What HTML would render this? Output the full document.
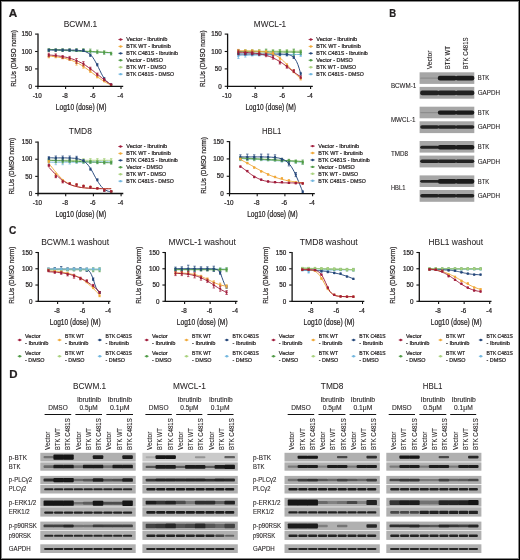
<!DOCTYPE html>
<html><head><meta charset="utf-8"><style>
html,body{margin:0;padding:0;background:#fff;}
svg{display:block;will-change:transform;}
text{font-family:"Liberation Sans",sans-serif;fill:#231f20;stroke:#231f20;stroke-width:0.22px;}
text.t{stroke-width:0.05px;}
text.m{stroke-width:0.1px;}
</style></head><body>
<svg width="520" height="560" viewBox="0 0 520 560">
<defs><filter id="bl" x="-5%" y="-50%" width="110%" height="200%"><feGaussianBlur stdDeviation="0.55"/></filter></defs>
<rect width="520" height="560" fill="#fff"/>
<text x="8.80" y="16.70" font-size="11.5" font-weight="bold" fill="#000" textLength="8.50" lengthAdjust="spacingAndGlyphs">A</text>
<polyline points="48.8,49.7 50.2,49.8 51.6,49.8 53.0,49.9 54.4,50.0 55.9,50.1 57.3,50.1 58.7,50.2 60.1,50.3 61.5,50.4 62.9,50.4 64.4,50.5 65.8,50.6 67.2,50.7 68.6,50.7 70.0,50.8 71.4,50.9 72.9,51.0 74.3,51.0 75.7,51.1 77.1,51.2 78.5,51.3 79.9,51.3 81.4,51.4 82.8,51.5 84.2,51.5 85.6,51.6 87.0,51.7 88.4,51.8 89.9,51.8 91.3,51.9 92.7,52.0 94.1,52.1 95.5,52.1 96.9,52.2 98.4,52.3 99.8,52.4 101.2,52.4 102.6,52.5 104.0,52.6 105.4,52.7 106.9,52.7 108.3,52.8 109.7,52.9 111.1,53.0" fill="none" stroke="#72b6de" stroke-width="0.95"/>
<path d="M47.6 50.5a1.15 1.15 0 1 0 2.3 0a1.15 1.15 0 1 0 -2.3 0M54.6 50.5a1.15 1.15 0 1 0 2.3 0a1.15 1.15 0 1 0 -2.3 0M61.5 50.5a1.15 1.15 0 1 0 2.3 0a1.15 1.15 0 1 0 -2.3 0M68.4 50.5a1.15 1.15 0 1 0 2.3 0a1.15 1.15 0 1 0 -2.3 0M75.3 50.5a1.15 1.15 0 1 0 2.3 0a1.15 1.15 0 1 0 -2.3 0M82.3 50.5a1.15 1.15 0 1 0 2.3 0a1.15 1.15 0 1 0 -2.3 0M89.2 51.5a1.15 1.15 0 1 0 2.3 0a1.15 1.15 0 1 0 -2.3 0M96.1 52.2a1.15 1.15 0 1 0 2.3 0a1.15 1.15 0 1 0 -2.3 0M103.0 52.9a1.15 1.15 0 1 0 2.3 0a1.15 1.15 0 1 0 -2.3 0M110.0 53.9a1.15 1.15 0 1 0 2.3 0a1.15 1.15 0 1 0 -2.3 0" fill="#72b6de"/>
<polyline points="48.8,49.3 50.2,49.4 51.6,49.5 53.0,49.6 54.4,49.6 55.9,49.7 57.3,49.8 58.7,49.9 60.1,49.9 61.5,50.0 62.9,50.1 64.4,50.2 65.8,50.2 67.2,50.3 68.6,50.4 70.0,50.5 71.4,50.5 72.9,50.6 74.3,50.7 75.7,50.8 77.1,50.8 78.5,50.9 79.9,51.0 81.4,51.1 82.8,51.1 84.2,51.2 85.6,51.3 87.0,51.4 88.4,51.4 89.9,51.5 91.3,51.6 92.7,51.6 94.1,51.7 95.5,51.8 96.9,51.9 98.4,51.9 99.8,52.0 101.2,52.1 102.6,52.2 104.0,52.2 105.4,52.3 106.9,52.4 108.3,52.5 109.7,52.5 111.1,52.6" fill="none" stroke="#a9d27f" stroke-width="0.95"/>
<path d="M47.6 50.1a1.15 1.15 0 1 0 2.3 0a1.15 1.15 0 1 0 -2.3 0M54.6 50.1a1.15 1.15 0 1 0 2.3 0a1.15 1.15 0 1 0 -2.3 0M61.5 50.1a1.15 1.15 0 1 0 2.3 0a1.15 1.15 0 1 0 -2.3 0M68.4 50.1a1.15 1.15 0 1 0 2.3 0a1.15 1.15 0 1 0 -2.3 0M75.3 50.1a1.15 1.15 0 1 0 2.3 0a1.15 1.15 0 1 0 -2.3 0M82.3 50.1a1.15 1.15 0 1 0 2.3 0a1.15 1.15 0 1 0 -2.3 0M89.2 51.2a1.15 1.15 0 1 0 2.3 0a1.15 1.15 0 1 0 -2.3 0M96.1 51.8a1.15 1.15 0 1 0 2.3 0a1.15 1.15 0 1 0 -2.3 0M103.0 52.5a1.15 1.15 0 1 0 2.3 0a1.15 1.15 0 1 0 -2.3 0M110.0 53.6a1.15 1.15 0 1 0 2.3 0a1.15 1.15 0 1 0 -2.3 0" fill="#a9d27f"/>
<polyline points="48.8,49.3 50.2,49.4 51.6,49.5 53.0,49.6 54.4,49.6 55.9,49.7 57.3,49.8 58.7,49.9 60.1,49.9 61.5,50.0 62.9,50.1 64.4,50.2 65.8,50.2 67.2,50.3 68.6,50.4 70.0,50.5 71.4,50.5 72.9,50.6 74.3,50.7 75.7,50.8 77.1,50.8 78.5,50.9 79.9,51.0 81.4,51.1 82.8,51.1 84.2,51.2 85.6,51.3 87.0,51.4 88.4,51.4 89.9,51.5 91.3,51.6 92.7,51.6 94.1,51.7 95.5,51.8 96.9,51.9 98.4,51.9 99.8,52.0 101.2,52.1 102.6,52.2 104.0,52.2 105.4,52.3 106.9,52.4 108.3,52.5 109.7,52.5 111.1,52.6" fill="none" stroke="#4f9a45" stroke-width="0.95"/>
<path d="M48.8 51.5V48.7M47.6 51.5h2.4M47.6 48.7h2.4M55.7 51.5V48.7M54.5 51.5h2.4M54.5 48.7h2.4M62.6 51.5V48.7M61.4 51.5h2.4M61.4 48.7h2.4M69.6 51.5V48.7M68.4 51.5h2.4M68.4 48.7h2.4M76.5 51.5V48.7M75.3 51.5h2.4M75.3 48.7h2.4M83.4 51.5V48.7M82.2 51.5h2.4M82.2 48.7h2.4M90.3 53.2V49.1M89.1 53.2h2.4M89.1 49.1h2.4M97.3 53.6V50.1M96.1 53.6h2.4M96.1 50.1h2.4M104.2 54.3V50.8M103.0 54.3h2.4M103.0 50.8h2.4M111.1 55.0V52.2M109.9 55.0h2.4M109.9 52.2h2.4" stroke="#4f9a45" stroke-width="0.7" fill="none"/>
<path d="M47.6 50.1a1.15 1.15 0 1 0 2.3 0a1.15 1.15 0 1 0 -2.3 0M54.6 50.1a1.15 1.15 0 1 0 2.3 0a1.15 1.15 0 1 0 -2.3 0M61.5 50.1a1.15 1.15 0 1 0 2.3 0a1.15 1.15 0 1 0 -2.3 0M68.4 50.1a1.15 1.15 0 1 0 2.3 0a1.15 1.15 0 1 0 -2.3 0M75.3 50.1a1.15 1.15 0 1 0 2.3 0a1.15 1.15 0 1 0 -2.3 0M82.3 50.1a1.15 1.15 0 1 0 2.3 0a1.15 1.15 0 1 0 -2.3 0M89.2 51.2a1.15 1.15 0 1 0 2.3 0a1.15 1.15 0 1 0 -2.3 0M96.1 51.8a1.15 1.15 0 1 0 2.3 0a1.15 1.15 0 1 0 -2.3 0M103.0 52.5a1.15 1.15 0 1 0 2.3 0a1.15 1.15 0 1 0 -2.3 0M110.0 53.6a1.15 1.15 0 1 0 2.3 0a1.15 1.15 0 1 0 -2.3 0" fill="#4f9a45"/>
<polyline points="48.8,50.0 50.2,50.0 51.6,50.0 53.0,50.0 54.4,50.0 55.9,50.0 57.3,50.0 58.7,50.0 60.1,50.0 61.5,50.0 62.9,50.0 64.4,50.0 65.8,50.0 67.2,50.0 68.6,50.0 70.0,50.1 71.4,50.1 72.9,50.1 74.3,50.1 75.7,50.2 77.1,50.3 78.5,50.4 79.9,50.5 81.4,50.7 82.8,50.9 84.2,51.3 85.6,51.7 87.0,52.4 88.4,53.2 89.9,54.2 91.3,55.6 92.7,57.3 94.1,59.4 95.5,61.8 96.9,64.5 98.4,67.4 99.8,70.3 101.2,73.2 102.6,75.8 104.0,78.1 105.4,80.1 106.9,81.7 108.3,82.9 109.7,83.9 111.1,84.7" fill="none" stroke="#24467a" stroke-width="0.95"/>
<path d="M48.8 51.2V49.1M47.6 51.2h2.4M47.6 49.1h2.4M55.7 51.2V49.1M54.5 51.2h2.4M54.5 49.1h2.4M62.6 51.2V49.1M61.4 51.2h2.4M61.4 49.1h2.4M69.6 51.2V49.1M68.4 51.2h2.4M68.4 49.1h2.4M76.5 51.2V49.1M75.3 51.2h2.4M75.3 49.1h2.4M83.4 51.5V49.4M82.2 51.5h2.4M82.2 49.4h2.4M90.3 56.4V54.3M89.1 56.4h2.4M89.1 54.3h2.4M97.3 65.8V63.7M96.1 65.8h2.4M96.1 63.7h2.4M104.2 79.7V77.6M103.0 79.7h2.4M103.0 77.6h2.4M111.1 85.3V83.9M109.9 85.3h2.4M109.9 83.9h2.4" stroke="#24467a" stroke-width="0.7" fill="none"/>
<path d="M47.6 50.1a1.15 1.15 0 1 0 2.3 0a1.15 1.15 0 1 0 -2.3 0M54.6 50.1a1.15 1.15 0 1 0 2.3 0a1.15 1.15 0 1 0 -2.3 0M61.5 50.1a1.15 1.15 0 1 0 2.3 0a1.15 1.15 0 1 0 -2.3 0M68.4 50.1a1.15 1.15 0 1 0 2.3 0a1.15 1.15 0 1 0 -2.3 0M75.3 50.1a1.15 1.15 0 1 0 2.3 0a1.15 1.15 0 1 0 -2.3 0M82.3 50.5a1.15 1.15 0 1 0 2.3 0a1.15 1.15 0 1 0 -2.3 0M89.2 55.3a1.15 1.15 0 1 0 2.3 0a1.15 1.15 0 1 0 -2.3 0M96.1 64.7a1.15 1.15 0 1 0 2.3 0a1.15 1.15 0 1 0 -2.3 0M103.0 78.6a1.15 1.15 0 1 0 2.3 0a1.15 1.15 0 1 0 -2.3 0M110.0 84.6a1.15 1.15 0 1 0 2.3 0a1.15 1.15 0 1 0 -2.3 0" fill="#24467a"/>
<polyline points="48.8,56.1 50.2,56.2 51.6,56.3 53.0,56.5 54.4,56.6 55.9,56.8 57.3,57.0 58.7,57.2 60.1,57.4 61.5,57.6 62.9,57.9 64.4,58.2 65.8,58.6 67.2,59.0 68.6,59.4 70.0,59.8 71.4,60.3 72.9,60.9 74.3,61.5 75.7,62.1 77.1,62.8 78.5,63.5 79.9,64.3 81.4,65.2 82.8,66.1 84.2,67.0 85.6,68.0 87.0,69.0 88.4,70.0 89.9,71.1 91.3,72.2 92.7,73.2 94.1,74.3 95.5,75.4 96.9,76.5 98.4,77.5 99.8,78.5 101.2,79.5 102.6,80.4 104.0,81.3 105.4,82.2 106.9,83.0 108.3,83.7 109.7,84.4 111.1,85.1" fill="none" stroke="#f0a838" stroke-width="0.95"/>
<path d="M48.8 57.8V55.0M47.6 57.8h2.4M47.6 55.0h2.4M55.7 57.8V55.7M54.5 57.8h2.4M54.5 55.7h2.4M62.6 58.8V56.7M61.4 58.8h2.4M61.4 56.7h2.4M69.6 60.5V57.8M68.4 60.5h2.4M68.4 57.8h2.4M76.5 65.1V60.9M75.3 65.1h2.4M75.3 60.9h2.4M83.4 68.2V64.7M82.2 68.2h2.4M82.2 64.7h2.4M90.3 72.4V70.3M89.1 72.4h2.4M89.1 70.3h2.4M97.3 77.9V75.9M96.1 77.9h2.4M96.1 75.9h2.4M104.2 81.8V80.4M103.0 81.8h2.4M103.0 80.4h2.4M111.1 86.0V84.6M109.9 86.0h2.4M109.9 84.6h2.4" stroke="#f0a838" stroke-width="0.7" fill="none"/>
<path d="M47.6 56.4a1.15 1.15 0 1 0 2.3 0a1.15 1.15 0 1 0 -2.3 0M54.6 56.7a1.15 1.15 0 1 0 2.3 0a1.15 1.15 0 1 0 -2.3 0M61.5 57.8a1.15 1.15 0 1 0 2.3 0a1.15 1.15 0 1 0 -2.3 0M68.4 59.2a1.15 1.15 0 1 0 2.3 0a1.15 1.15 0 1 0 -2.3 0M75.3 63.0a1.15 1.15 0 1 0 2.3 0a1.15 1.15 0 1 0 -2.3 0M82.3 66.5a1.15 1.15 0 1 0 2.3 0a1.15 1.15 0 1 0 -2.3 0M89.2 71.3a1.15 1.15 0 1 0 2.3 0a1.15 1.15 0 1 0 -2.3 0M96.1 76.9a1.15 1.15 0 1 0 2.3 0a1.15 1.15 0 1 0 -2.3 0M103.0 81.1a1.15 1.15 0 1 0 2.3 0a1.15 1.15 0 1 0 -2.3 0M110.0 85.3a1.15 1.15 0 1 0 2.3 0a1.15 1.15 0 1 0 -2.3 0" fill="#f0a838"/>
<polyline points="48.8,55.0 50.2,55.1 51.6,55.2 53.0,55.3 54.4,55.5 55.9,55.6 57.3,55.8 58.7,56.0 60.1,56.2 61.5,56.4 62.9,56.6 64.4,56.9 65.8,57.2 67.2,57.5 68.6,57.9 70.0,58.3 71.4,58.7 72.9,59.2 74.3,59.7 75.7,60.2 77.1,60.8 78.5,61.5 79.9,62.2 81.4,62.9 82.8,63.7 84.2,64.5 85.6,65.4 87.0,66.4 88.4,67.4 89.9,68.4 91.3,69.4 92.7,70.5 94.1,71.6 95.5,72.8 96.9,73.9 98.4,75.1 99.8,76.2 101.2,77.4 102.6,78.5 104.0,79.6 105.4,80.7 106.9,81.7 108.3,82.7 109.7,83.7 111.1,84.6" fill="none" stroke="#a01b3a" stroke-width="0.95"/>
<path d="M48.8 56.7V53.2M47.6 56.7h2.4M47.6 53.2h2.4M55.7 56.7V53.9M54.5 56.7h2.4M54.5 53.9h2.4M62.6 58.3V55.5M61.4 58.3h2.4M61.4 55.5h2.4M69.6 59.9V56.4M68.4 59.9h2.4M68.4 56.4h2.4M76.5 63.3V58.5M75.3 63.3h2.4M75.3 58.5h2.4M83.4 65.8V61.6M82.2 65.8h2.4M82.2 61.6h2.4M90.3 69.9V67.2M89.1 69.9h2.4M89.1 67.2h2.4M97.3 75.9V73.1M96.1 75.9h2.4M96.1 73.1h2.4M104.2 80.7V78.6M103.0 80.7h2.4M103.0 78.6h2.4M111.1 85.3V83.9M109.9 85.3h2.4M109.9 83.9h2.4" stroke="#a01b3a" stroke-width="0.7" fill="none"/>
<path d="M47.6 55.0a1.15 1.15 0 1 0 2.3 0a1.15 1.15 0 1 0 -2.3 0M54.6 55.3a1.15 1.15 0 1 0 2.3 0a1.15 1.15 0 1 0 -2.3 0M61.5 56.9a1.15 1.15 0 1 0 2.3 0a1.15 1.15 0 1 0 -2.3 0M68.4 58.1a1.15 1.15 0 1 0 2.3 0a1.15 1.15 0 1 0 -2.3 0M75.3 60.9a1.15 1.15 0 1 0 2.3 0a1.15 1.15 0 1 0 -2.3 0M82.3 63.7a1.15 1.15 0 1 0 2.3 0a1.15 1.15 0 1 0 -2.3 0M89.2 68.6a1.15 1.15 0 1 0 2.3 0a1.15 1.15 0 1 0 -2.3 0M96.1 74.5a1.15 1.15 0 1 0 2.3 0a1.15 1.15 0 1 0 -2.3 0M103.0 79.7a1.15 1.15 0 1 0 2.3 0a1.15 1.15 0 1 0 -2.3 0M110.0 84.6a1.15 1.15 0 1 0 2.3 0a1.15 1.15 0 1 0 -2.3 0" fill="#a01b3a"/>
<line x1="38.00" y1="33.60" x2="38.00" y2="87.00" stroke="#111" stroke-width="1.3"/>
<line x1="37.30" y1="86.30" x2="123.20" y2="86.30" stroke="#111" stroke-width="1.3"/>
<line x1="35.10" y1="86.30" x2="37.70" y2="86.30" stroke="#111" stroke-width="1.1"/>
<text x="32.10" y="88.50" font-size="6.3" text-anchor="end">0</text>
<line x1="35.10" y1="68.90" x2="37.70" y2="68.90" stroke="#111" stroke-width="1.1"/>
<text x="32.10" y="71.10" font-size="6.3" text-anchor="end">50</text>
<line x1="35.10" y1="51.50" x2="37.70" y2="51.50" stroke="#111" stroke-width="1.1"/>
<text x="32.10" y="53.70" font-size="6.3" text-anchor="end">100</text>
<line x1="35.10" y1="34.10" x2="37.70" y2="34.10" stroke="#111" stroke-width="1.1"/>
<text x="32.10" y="36.30" font-size="6.3" text-anchor="end">150</text>
<line x1="37.90" y1="86.30" x2="37.90" y2="89.00" stroke="#111" stroke-width="1.1"/>
<text x="37.30" y="97.70" font-size="6.3" text-anchor="middle">-10</text>
<line x1="65.60" y1="86.30" x2="65.60" y2="89.00" stroke="#111" stroke-width="1.1"/>
<text x="65.00" y="97.70" font-size="6.3" text-anchor="middle">-8</text>
<line x1="93.30" y1="86.30" x2="93.30" y2="89.00" stroke="#111" stroke-width="1.1"/>
<text x="92.70" y="97.70" font-size="6.3" text-anchor="middle">-6</text>
<line x1="121.00" y1="86.30" x2="121.00" y2="89.00" stroke="#111" stroke-width="1.1"/>
<text x="120.40" y="97.70" font-size="6.3" text-anchor="middle">-4</text>
<text x="63.70" y="26.70" font-size="8.4" class="t" textLength="33.60" lengthAdjust="spacingAndGlyphs">BCWM.1</text>
<text x="16.10" y="58.50" font-size="7.4" text-anchor="middle" textLength="56.60" lengthAdjust="spacingAndGlyphs" transform="rotate(-90 16.10 58.50)">RLUs (DMSO norm)</text>
<text x="55.80" y="109.50" font-size="8.2" textLength="50.60" lengthAdjust="spacingAndGlyphs">Log10 (dose) (M)</text>
<line x1="118.40" y1="39.50" x2="122.80" y2="39.50" stroke="#a01b3a" stroke-width="0.8"/>
<circle cx="120.60" cy="39.50" r="1.2" fill="#a01b3a"/>
<text x="126.30" y="41.40" font-size="5.5" textLength="41.00" lengthAdjust="spacingAndGlyphs">Vector - Ibrutinib</text>
<line x1="118.40" y1="46.43" x2="122.80" y2="46.43" stroke="#f0a838" stroke-width="0.8"/>
<circle cx="120.60" cy="46.43" r="1.2" fill="#f0a838"/>
<text x="126.30" y="48.33" font-size="5.5" textLength="44.50" lengthAdjust="spacingAndGlyphs">BTK WT - Ibrutinib</text>
<line x1="118.40" y1="53.36" x2="122.80" y2="53.36" stroke="#24467a" stroke-width="0.8"/>
<circle cx="120.60" cy="53.36" r="1.2" fill="#24467a"/>
<text x="126.30" y="55.26" font-size="5.5" textLength="51.60" lengthAdjust="spacingAndGlyphs">BTK C481S - Ibrutinib</text>
<line x1="118.40" y1="60.29" x2="122.80" y2="60.29" stroke="#4f9a45" stroke-width="0.8"/>
<circle cx="120.60" cy="60.29" r="1.2" fill="#4f9a45"/>
<text x="126.30" y="62.19" font-size="5.5" textLength="36.60" lengthAdjust="spacingAndGlyphs">Vector - DMSO</text>
<line x1="118.40" y1="67.22" x2="122.80" y2="67.22" stroke="#a9d27f" stroke-width="0.8"/>
<circle cx="120.60" cy="67.22" r="1.2" fill="#a9d27f"/>
<text x="126.30" y="69.12" font-size="5.5" textLength="40.00" lengthAdjust="spacingAndGlyphs">BTK WT - DMSO</text>
<line x1="118.40" y1="74.15" x2="122.80" y2="74.15" stroke="#72b6de" stroke-width="0.8"/>
<circle cx="120.60" cy="74.15" r="1.2" fill="#72b6de"/>
<text x="126.30" y="76.05" font-size="5.5" textLength="47.70" lengthAdjust="spacingAndGlyphs">BTK C481S - DMSO</text>
<polyline points="238.4,55.3 239.8,55.3 241.2,55.2 242.6,55.2 244.0,55.2 245.5,55.2 246.9,55.2 248.3,55.2 249.7,55.1 251.1,55.1 252.5,55.1 254.0,55.1 255.4,55.1 256.8,55.0 258.2,55.0 259.6,55.0 261.0,55.0 262.5,55.0 263.9,54.9 265.3,54.9 266.7,54.9 268.1,54.9 269.5,54.9 271.0,54.9 272.4,54.8 273.8,54.8 275.2,54.8 276.6,54.8 278.0,54.8 279.5,54.7 280.9,54.7 282.3,54.7 283.7,54.7 285.1,54.7 286.5,54.7 288.0,54.6 289.4,54.6 290.8,54.6 292.2,54.6 293.6,54.6 295.0,54.5 296.5,54.5 297.9,54.5 299.3,54.5 300.7,54.5" fill="none" stroke="#72b6de" stroke-width="0.95"/>
<path d="M238.4 58.5V54.3M237.2 58.5h2.4M237.2 54.3h2.4M245.3 57.1V52.9M244.1 57.1h2.4M244.1 52.9h2.4M252.2 56.0V53.2M251.0 56.0h2.4M251.0 53.2h2.4M259.2 56.0V53.2M258.0 56.0h2.4M258.0 53.2h2.4M266.1 56.0V53.2M264.9 56.0h2.4M264.9 53.2h2.4M273.0 56.0V53.2M271.8 56.0h2.4M271.8 53.2h2.4M279.9 56.0V53.2M278.7 56.0h2.4M278.7 53.2h2.4M286.9 56.0V53.2M285.7 56.0h2.4M285.7 53.2h2.4M293.8 56.0V53.2M292.6 56.0h2.4M292.6 53.2h2.4M300.7 56.4V53.6M299.5 56.4h2.4M299.5 53.6h2.4" stroke="#72b6de" stroke-width="0.7" fill="none"/>
<path d="M237.2 56.4a1.15 1.15 0 1 0 2.3 0a1.15 1.15 0 1 0 -2.3 0M244.2 55.0a1.15 1.15 0 1 0 2.3 0a1.15 1.15 0 1 0 -2.3 0M251.1 54.6a1.15 1.15 0 1 0 2.3 0a1.15 1.15 0 1 0 -2.3 0M258.0 54.6a1.15 1.15 0 1 0 2.3 0a1.15 1.15 0 1 0 -2.3 0M264.9 54.6a1.15 1.15 0 1 0 2.3 0a1.15 1.15 0 1 0 -2.3 0M271.9 54.6a1.15 1.15 0 1 0 2.3 0a1.15 1.15 0 1 0 -2.3 0M278.8 54.6a1.15 1.15 0 1 0 2.3 0a1.15 1.15 0 1 0 -2.3 0M285.7 54.6a1.15 1.15 0 1 0 2.3 0a1.15 1.15 0 1 0 -2.3 0M292.6 54.6a1.15 1.15 0 1 0 2.3 0a1.15 1.15 0 1 0 -2.3 0M299.6 55.0a1.15 1.15 0 1 0 2.3 0a1.15 1.15 0 1 0 -2.3 0" fill="#72b6de"/>
<polyline points="238.4,51.2 239.8,51.2 241.2,51.2 242.6,51.2 244.0,51.2 245.5,51.2 246.9,51.2 248.3,51.2 249.7,51.2 251.1,51.2 252.5,51.2 254.0,51.2 255.4,51.2 256.8,51.2 258.2,51.2 259.6,51.2 261.0,51.2 262.5,51.2 263.9,51.2 265.3,51.2 266.7,51.2 268.1,51.2 269.5,51.2 271.0,51.2 272.4,51.2 273.8,51.2 275.2,51.2 276.6,51.2 278.0,51.2 279.5,51.2 280.9,51.2 282.3,51.2 283.7,51.2 285.1,51.2 286.5,51.2 288.0,51.2 289.4,51.2 290.8,51.2 292.2,51.2 293.6,51.2 295.0,51.2 296.5,51.2 297.9,51.2 299.3,51.2 300.7,51.2" fill="none" stroke="#a9d27f" stroke-width="0.95"/>
<path d="M238.4 52.5V49.8M237.2 52.5h2.4M237.2 49.8h2.4M245.3 52.5V49.8M244.1 52.5h2.4M244.1 49.8h2.4M252.2 52.5V49.8M251.0 52.5h2.4M251.0 49.8h2.4M259.2 52.5V49.8M258.0 52.5h2.4M258.0 49.8h2.4M266.1 52.5V49.8M264.9 52.5h2.4M264.9 49.8h2.4M273.0 52.5V49.8M271.8 52.5h2.4M271.8 49.8h2.4M279.9 52.5V49.8M278.7 52.5h2.4M278.7 49.8h2.4M286.9 52.5V49.8M285.7 52.5h2.4M285.7 49.8h2.4M293.8 52.5V49.8M292.6 52.5h2.4M292.6 49.8h2.4M300.7 52.5V49.8M299.5 52.5h2.4M299.5 49.8h2.4" stroke="#a9d27f" stroke-width="0.7" fill="none"/>
<path d="M237.2 51.2a1.15 1.15 0 1 0 2.3 0a1.15 1.15 0 1 0 -2.3 0M244.2 51.2a1.15 1.15 0 1 0 2.3 0a1.15 1.15 0 1 0 -2.3 0M251.1 51.2a1.15 1.15 0 1 0 2.3 0a1.15 1.15 0 1 0 -2.3 0M258.0 51.2a1.15 1.15 0 1 0 2.3 0a1.15 1.15 0 1 0 -2.3 0M264.9 51.2a1.15 1.15 0 1 0 2.3 0a1.15 1.15 0 1 0 -2.3 0M271.9 51.2a1.15 1.15 0 1 0 2.3 0a1.15 1.15 0 1 0 -2.3 0M278.8 51.2a1.15 1.15 0 1 0 2.3 0a1.15 1.15 0 1 0 -2.3 0M285.7 51.2a1.15 1.15 0 1 0 2.3 0a1.15 1.15 0 1 0 -2.3 0M292.6 51.2a1.15 1.15 0 1 0 2.3 0a1.15 1.15 0 1 0 -2.3 0M299.6 51.2a1.15 1.15 0 1 0 2.3 0a1.15 1.15 0 1 0 -2.3 0" fill="#a9d27f"/>
<polyline points="238.4,51.7 239.8,51.7 241.2,51.7 242.6,51.7 244.0,51.8 245.5,51.8 246.9,51.8 248.3,51.8 249.7,51.8 251.1,51.8 252.5,51.8 254.0,51.8 255.4,51.8 256.8,51.9 258.2,51.9 259.6,51.9 261.0,51.9 262.5,51.9 263.9,51.9 265.3,51.9 266.7,51.9 268.1,51.9 269.5,52.0 271.0,52.0 272.4,52.0 273.8,52.0 275.2,52.0 276.6,52.0 278.0,52.0 279.5,52.0 280.9,52.0 282.3,52.0 283.7,52.1 285.1,52.1 286.5,52.1 288.0,52.1 289.4,52.1 290.8,52.1 292.2,52.1 293.6,52.1 295.0,52.1 296.5,52.2 297.9,52.2 299.3,52.2 300.7,52.2" fill="none" stroke="#4f9a45" stroke-width="0.95"/>
<path d="M238.4 53.6V50.1M237.2 53.6h2.4M237.2 50.1h2.4M245.3 53.6V50.1M244.1 53.6h2.4M244.1 50.1h2.4M252.2 53.6V50.1M251.0 53.6h2.4M251.0 50.1h2.4M259.2 53.6V50.1M258.0 53.6h2.4M258.0 50.1h2.4M266.1 54.6V49.1M264.9 54.6h2.4M264.9 49.1h2.4M273.0 53.6V50.1M271.8 53.6h2.4M271.8 50.1h2.4M279.9 53.9V49.8M278.7 53.9h2.4M278.7 49.8h2.4M286.9 53.6V50.1M285.7 53.6h2.4M285.7 50.1h2.4M293.8 55.3V49.1M292.6 55.3h2.4M292.6 49.1h2.4M300.7 54.3V50.8M299.5 54.3h2.4M299.5 50.8h2.4" stroke="#4f9a45" stroke-width="0.7" fill="none"/>
<path d="M237.2 51.8a1.15 1.15 0 1 0 2.3 0a1.15 1.15 0 1 0 -2.3 0M244.2 51.8a1.15 1.15 0 1 0 2.3 0a1.15 1.15 0 1 0 -2.3 0M251.1 51.8a1.15 1.15 0 1 0 2.3 0a1.15 1.15 0 1 0 -2.3 0M258.0 51.8a1.15 1.15 0 1 0 2.3 0a1.15 1.15 0 1 0 -2.3 0M264.9 51.8a1.15 1.15 0 1 0 2.3 0a1.15 1.15 0 1 0 -2.3 0M271.9 51.8a1.15 1.15 0 1 0 2.3 0a1.15 1.15 0 1 0 -2.3 0M278.8 51.8a1.15 1.15 0 1 0 2.3 0a1.15 1.15 0 1 0 -2.3 0M285.7 51.8a1.15 1.15 0 1 0 2.3 0a1.15 1.15 0 1 0 -2.3 0M292.6 52.2a1.15 1.15 0 1 0 2.3 0a1.15 1.15 0 1 0 -2.3 0M299.6 52.5a1.15 1.15 0 1 0 2.3 0a1.15 1.15 0 1 0 -2.3 0" fill="#4f9a45"/>
<polyline points="238.4,54.0 239.8,54.0 241.2,54.0 242.6,54.0 244.0,54.0 245.5,54.0 246.9,54.0 248.3,54.0 249.7,54.0 251.1,54.0 252.5,54.0 254.0,54.0 255.4,54.0 256.8,54.0 258.2,54.0 259.6,54.0 261.0,54.0 262.5,54.0 263.9,54.0 265.3,54.0 266.7,54.0 268.1,54.0 269.5,54.0 271.0,54.0 272.4,54.0 273.8,54.0 275.2,54.0 276.6,54.0 278.0,54.0 279.5,54.0 280.9,54.1 282.3,54.1 283.7,54.2 285.1,54.2 286.5,54.4 288.0,54.6 289.4,54.9 290.8,55.4 292.2,56.2 293.6,57.3 295.0,59.0 296.5,61.4 297.9,64.6 299.3,68.8 300.7,73.8" fill="none" stroke="#24467a" stroke-width="0.95"/>
<path d="M238.4 55.0V52.9M237.2 55.0h2.4M237.2 52.9h2.4M245.3 55.0V52.9M244.1 55.0h2.4M244.1 52.9h2.4M252.2 55.0V52.9M251.0 55.0h2.4M251.0 52.9h2.4M259.2 55.0V52.9M258.0 55.0h2.4M258.0 52.9h2.4M266.1 55.0V52.9M264.9 55.0h2.4M264.9 52.9h2.4M273.0 55.0V52.9M271.8 55.0h2.4M271.8 52.9h2.4M279.9 55.3V53.2M278.7 55.3h2.4M278.7 53.2h2.4M286.9 55.7V53.6M285.7 55.7h2.4M285.7 53.6h2.4M293.8 58.5V56.4M292.6 58.5h2.4M292.6 56.4h2.4M300.7 75.2V72.4M299.5 75.2h2.4M299.5 72.4h2.4" stroke="#24467a" stroke-width="0.7" fill="none"/>
<path d="M237.2 53.9a1.15 1.15 0 1 0 2.3 0a1.15 1.15 0 1 0 -2.3 0M244.2 53.9a1.15 1.15 0 1 0 2.3 0a1.15 1.15 0 1 0 -2.3 0M251.1 53.9a1.15 1.15 0 1 0 2.3 0a1.15 1.15 0 1 0 -2.3 0M258.0 53.9a1.15 1.15 0 1 0 2.3 0a1.15 1.15 0 1 0 -2.3 0M264.9 53.9a1.15 1.15 0 1 0 2.3 0a1.15 1.15 0 1 0 -2.3 0M271.9 53.9a1.15 1.15 0 1 0 2.3 0a1.15 1.15 0 1 0 -2.3 0M278.8 54.3a1.15 1.15 0 1 0 2.3 0a1.15 1.15 0 1 0 -2.3 0M285.7 54.6a1.15 1.15 0 1 0 2.3 0a1.15 1.15 0 1 0 -2.3 0M292.6 57.4a1.15 1.15 0 1 0 2.3 0a1.15 1.15 0 1 0 -2.3 0M299.6 73.8a1.15 1.15 0 1 0 2.3 0a1.15 1.15 0 1 0 -2.3 0" fill="#24467a"/>
<polyline points="238.4,50.8 239.8,50.8 241.2,50.8 242.6,50.8 244.0,50.8 245.5,50.9 246.9,50.9 248.3,50.9 249.7,50.9 251.1,51.0 252.5,51.0 254.0,51.1 255.4,51.1 256.8,51.2 258.2,51.3 259.6,51.4 261.0,51.5 262.5,51.7 263.9,51.8 265.3,52.0 266.7,52.3 268.1,52.6 269.5,52.9 271.0,53.4 272.4,53.8 273.8,54.4 275.2,55.1 276.6,55.8 278.0,56.7 279.5,57.6 280.9,58.7 282.3,59.9 283.7,61.2 285.1,62.6 286.5,64.1 288.0,65.7 289.4,67.3 290.8,68.9 292.2,70.4 293.6,72.0 295.0,73.4 296.5,74.8 297.9,76.1 299.3,77.3 300.7,78.3" fill="none" stroke="#f0a838" stroke-width="0.95"/>
<path d="M238.4 52.2V49.4M237.2 52.2h2.4M237.2 49.4h2.4M245.3 52.5V49.8M244.1 52.5h2.4M244.1 49.8h2.4M252.2 52.5V49.8M251.0 52.5h2.4M251.0 49.8h2.4M259.2 52.9V50.1M258.0 52.9h2.4M258.0 50.1h2.4M266.1 53.2V50.5M264.9 53.2h2.4M264.9 50.5h2.4M273.0 54.6V51.8M271.8 54.6h2.4M271.8 51.8h2.4M279.9 59.9V57.1M278.7 59.9h2.4M278.7 57.1h2.4M286.9 66.5V63.7M285.7 66.5h2.4M285.7 63.7h2.4M293.8 72.7V69.9M292.6 72.7h2.4M292.6 69.9h2.4M300.7 80.0V77.3M299.5 80.0h2.4M299.5 77.3h2.4" stroke="#f0a838" stroke-width="0.7" fill="none"/>
<path d="M237.2 50.8a1.15 1.15 0 1 0 2.3 0a1.15 1.15 0 1 0 -2.3 0M244.2 51.2a1.15 1.15 0 1 0 2.3 0a1.15 1.15 0 1 0 -2.3 0M251.1 51.2a1.15 1.15 0 1 0 2.3 0a1.15 1.15 0 1 0 -2.3 0M258.0 51.5a1.15 1.15 0 1 0 2.3 0a1.15 1.15 0 1 0 -2.3 0M264.9 51.8a1.15 1.15 0 1 0 2.3 0a1.15 1.15 0 1 0 -2.3 0M271.9 53.2a1.15 1.15 0 1 0 2.3 0a1.15 1.15 0 1 0 -2.3 0M278.8 58.5a1.15 1.15 0 1 0 2.3 0a1.15 1.15 0 1 0 -2.3 0M285.7 65.1a1.15 1.15 0 1 0 2.3 0a1.15 1.15 0 1 0 -2.3 0M292.6 71.3a1.15 1.15 0 1 0 2.3 0a1.15 1.15 0 1 0 -2.3 0M299.6 78.6a1.15 1.15 0 1 0 2.3 0a1.15 1.15 0 1 0 -2.3 0" fill="#f0a838"/>
<polyline points="238.4,52.2 239.8,52.2 241.2,52.3 242.6,52.3 244.0,52.4 245.5,52.4 246.9,52.5 248.3,52.6 249.7,52.7 251.1,52.8 252.5,53.0 254.0,53.1 255.4,53.3 256.8,53.5 258.2,53.7 259.6,53.9 261.0,54.2 262.5,54.5 263.9,54.8 265.3,55.2 266.7,55.6 268.1,56.0 269.5,56.5 271.0,57.0 272.4,57.6 273.8,58.3 275.2,59.0 276.6,59.7 278.0,60.5 279.5,61.4 280.9,62.3 282.3,63.2 283.7,64.2 285.1,65.2 286.5,66.3 288.0,67.4 289.4,68.5 290.8,69.6 292.2,70.7 293.6,71.8 295.0,72.9 296.5,73.9 297.9,74.9 299.3,75.9 300.7,76.8" fill="none" stroke="#a01b3a" stroke-width="0.95"/>
<path d="M238.4 54.3V50.1M237.2 54.3h2.4M237.2 50.1h2.4M245.3 54.6V51.2M244.1 54.6h2.4M244.1 51.2h2.4M252.2 54.6V51.2M251.0 54.6h2.4M251.0 51.2h2.4M259.2 55.3V51.8M258.0 55.3h2.4M258.0 51.8h2.4M266.1 56.7V53.2M264.9 56.7h2.4M264.9 53.2h2.4M273.0 59.2V55.7M271.8 59.2h2.4M271.8 55.7h2.4M279.9 64.0V61.2M278.7 64.0h2.4M278.7 61.2h2.4M286.9 68.2V65.4M285.7 68.2h2.4M285.7 65.4h2.4M293.8 72.4V69.6M292.6 72.4h2.4M292.6 69.6h2.4M300.7 78.6V75.9M299.5 78.6h2.4M299.5 75.9h2.4" stroke="#a01b3a" stroke-width="0.7" fill="none"/>
<path d="M237.2 52.2a1.15 1.15 0 1 0 2.3 0a1.15 1.15 0 1 0 -2.3 0M244.2 52.9a1.15 1.15 0 1 0 2.3 0a1.15 1.15 0 1 0 -2.3 0M251.1 52.9a1.15 1.15 0 1 0 2.3 0a1.15 1.15 0 1 0 -2.3 0M258.0 53.6a1.15 1.15 0 1 0 2.3 0a1.15 1.15 0 1 0 -2.3 0M264.9 55.0a1.15 1.15 0 1 0 2.3 0a1.15 1.15 0 1 0 -2.3 0M271.9 57.4a1.15 1.15 0 1 0 2.3 0a1.15 1.15 0 1 0 -2.3 0M278.8 62.6a1.15 1.15 0 1 0 2.3 0a1.15 1.15 0 1 0 -2.3 0M285.7 66.8a1.15 1.15 0 1 0 2.3 0a1.15 1.15 0 1 0 -2.3 0M292.6 71.0a1.15 1.15 0 1 0 2.3 0a1.15 1.15 0 1 0 -2.3 0M299.6 77.3a1.15 1.15 0 1 0 2.3 0a1.15 1.15 0 1 0 -2.3 0" fill="#a01b3a"/>
<line x1="227.60" y1="33.60" x2="227.60" y2="87.00" stroke="#111" stroke-width="1.3"/>
<line x1="226.90" y1="86.30" x2="312.80" y2="86.30" stroke="#111" stroke-width="1.3"/>
<line x1="224.70" y1="86.30" x2="227.30" y2="86.30" stroke="#111" stroke-width="1.1"/>
<text x="221.70" y="88.50" font-size="6.3" text-anchor="end">0</text>
<line x1="224.70" y1="68.90" x2="227.30" y2="68.90" stroke="#111" stroke-width="1.1"/>
<text x="221.70" y="71.10" font-size="6.3" text-anchor="end">50</text>
<line x1="224.70" y1="51.50" x2="227.30" y2="51.50" stroke="#111" stroke-width="1.1"/>
<text x="221.70" y="53.70" font-size="6.3" text-anchor="end">100</text>
<line x1="224.70" y1="34.10" x2="227.30" y2="34.10" stroke="#111" stroke-width="1.1"/>
<text x="221.70" y="36.30" font-size="6.3" text-anchor="end">150</text>
<line x1="227.50" y1="86.30" x2="227.50" y2="89.00" stroke="#111" stroke-width="1.1"/>
<text x="226.90" y="97.70" font-size="6.3" text-anchor="middle">-10</text>
<line x1="255.20" y1="86.30" x2="255.20" y2="89.00" stroke="#111" stroke-width="1.1"/>
<text x="254.60" y="97.70" font-size="6.3" text-anchor="middle">-8</text>
<line x1="282.90" y1="86.30" x2="282.90" y2="89.00" stroke="#111" stroke-width="1.1"/>
<text x="282.30" y="97.70" font-size="6.3" text-anchor="middle">-6</text>
<line x1="310.60" y1="86.30" x2="310.60" y2="89.00" stroke="#111" stroke-width="1.1"/>
<text x="310.00" y="97.70" font-size="6.3" text-anchor="middle">-4</text>
<text x="253.80" y="26.70" font-size="8.4" class="t" textLength="32.40" lengthAdjust="spacingAndGlyphs">MWCL-1</text>
<text x="205.20" y="58.60" font-size="7.4" text-anchor="middle" textLength="56.60" lengthAdjust="spacingAndGlyphs" transform="rotate(-90 205.20 58.60)">RLUs (DMSO norm)</text>
<text x="245.40" y="109.50" font-size="8.2" textLength="50.60" lengthAdjust="spacingAndGlyphs">Log10 (dose) (M)</text>
<line x1="308.60" y1="39.50" x2="313.00" y2="39.50" stroke="#a01b3a" stroke-width="0.8"/>
<circle cx="310.80" cy="39.50" r="1.2" fill="#a01b3a"/>
<text x="316.20" y="41.40" font-size="5.5" textLength="41.00" lengthAdjust="spacingAndGlyphs">Vector - Ibrutinib</text>
<line x1="308.60" y1="46.43" x2="313.00" y2="46.43" stroke="#f0a838" stroke-width="0.8"/>
<circle cx="310.80" cy="46.43" r="1.2" fill="#f0a838"/>
<text x="316.20" y="48.33" font-size="5.5" textLength="44.50" lengthAdjust="spacingAndGlyphs">BTK WT - Ibrutinib</text>
<line x1="308.60" y1="53.36" x2="313.00" y2="53.36" stroke="#24467a" stroke-width="0.8"/>
<circle cx="310.80" cy="53.36" r="1.2" fill="#24467a"/>
<text x="316.20" y="55.26" font-size="5.5" textLength="51.60" lengthAdjust="spacingAndGlyphs">BTK C481S - Ibrutinib</text>
<line x1="308.60" y1="60.29" x2="313.00" y2="60.29" stroke="#4f9a45" stroke-width="0.8"/>
<circle cx="310.80" cy="60.29" r="1.2" fill="#4f9a45"/>
<text x="316.20" y="62.19" font-size="5.5" textLength="36.60" lengthAdjust="spacingAndGlyphs">Vector - DMSO</text>
<line x1="308.60" y1="67.22" x2="313.00" y2="67.22" stroke="#a9d27f" stroke-width="0.8"/>
<circle cx="310.80" cy="67.22" r="1.2" fill="#a9d27f"/>
<text x="316.20" y="69.12" font-size="5.5" textLength="40.00" lengthAdjust="spacingAndGlyphs">BTK WT - DMSO</text>
<line x1="308.60" y1="74.15" x2="313.00" y2="74.15" stroke="#72b6de" stroke-width="0.8"/>
<circle cx="310.80" cy="74.15" r="1.2" fill="#72b6de"/>
<text x="316.20" y="76.05" font-size="5.5" textLength="47.70" lengthAdjust="spacingAndGlyphs">BTK C481S - DMSO</text>
<polyline points="48.9,162.2 50.3,162.2 51.7,162.2 53.1,162.2 54.5,162.2 56.0,162.2 57.4,162.2 58.8,162.2 60.2,162.2 61.6,162.1 63.0,162.1 64.5,162.1 65.9,162.1 67.3,162.1 68.7,162.1 70.1,162.1 71.5,162.1 73.0,162.1 74.4,162.1 75.8,162.1 77.2,162.1 78.6,162.1 80.0,162.0 81.5,162.0 82.9,162.0 84.3,162.0 85.7,162.0 87.1,162.0 88.5,162.0 90.0,162.0 91.4,162.0 92.8,162.0 94.2,162.0 95.6,162.0 97.0,162.0 98.5,161.9 99.9,161.9 101.3,161.9 102.7,161.9 104.1,161.9 105.5,161.9 107.0,161.9 108.4,161.9 109.8,161.9 111.2,161.9" fill="none" stroke="#72b6de" stroke-width="0.95"/>
<path d="M48.9 165.4V159.9M47.7 165.4h2.4M47.7 159.9h2.4M55.8 164.7V159.2M54.6 164.7h2.4M54.6 159.2h2.4M62.7 164.7V159.2M61.5 164.7h2.4M61.5 159.2h2.4M69.7 164.0V159.9M68.5 164.0h2.4M68.5 159.9h2.4M76.6 163.3V160.6M75.4 163.3h2.4M75.4 160.6h2.4M83.5 163.3V160.6M82.3 163.3h2.4M82.3 160.6h2.4M90.4 163.3V160.6M89.2 163.3h2.4M89.2 160.6h2.4M97.4 163.3V160.6M96.2 163.3h2.4M96.2 160.6h2.4M104.3 163.3V160.6M103.1 163.3h2.4M103.1 160.6h2.4M111.2 163.3V160.6M110.0 163.3h2.4M110.0 160.6h2.4" stroke="#72b6de" stroke-width="0.7" fill="none"/>
<path d="M47.7 162.7a1.15 1.15 0 1 0 2.3 0a1.15 1.15 0 1 0 -2.3 0M54.7 162.0a1.15 1.15 0 1 0 2.3 0a1.15 1.15 0 1 0 -2.3 0M61.6 162.0a1.15 1.15 0 1 0 2.3 0a1.15 1.15 0 1 0 -2.3 0M68.5 162.0a1.15 1.15 0 1 0 2.3 0a1.15 1.15 0 1 0 -2.3 0M75.4 162.0a1.15 1.15 0 1 0 2.3 0a1.15 1.15 0 1 0 -2.3 0M82.4 162.0a1.15 1.15 0 1 0 2.3 0a1.15 1.15 0 1 0 -2.3 0M89.3 162.0a1.15 1.15 0 1 0 2.3 0a1.15 1.15 0 1 0 -2.3 0M96.2 162.0a1.15 1.15 0 1 0 2.3 0a1.15 1.15 0 1 0 -2.3 0M103.1 162.0a1.15 1.15 0 1 0 2.3 0a1.15 1.15 0 1 0 -2.3 0M110.1 162.0a1.15 1.15 0 1 0 2.3 0a1.15 1.15 0 1 0 -2.3 0" fill="#72b6de"/>
<polyline points="48.9,160.3 50.3,160.3 51.7,160.3 53.1,160.3 54.5,160.3 56.0,160.3 57.4,160.3 58.8,160.3 60.2,160.3 61.6,160.3 63.0,160.3 64.5,160.3 65.9,160.3 67.3,160.3 68.7,160.3 70.1,160.3 71.5,160.3 73.0,160.3 74.4,160.3 75.8,160.3 77.2,160.3 78.6,160.3 80.0,160.3 81.5,160.3 82.9,160.3 84.3,160.3 85.7,160.3 87.1,160.3 88.5,160.3 90.0,160.3 91.4,160.3 92.8,160.3 94.2,160.3 95.6,160.3 97.0,160.3 98.5,160.3 99.9,160.3 101.3,160.3 102.7,160.3 104.1,160.3 105.5,160.3 107.0,160.3 108.4,160.3 109.8,160.3 111.2,160.3" fill="none" stroke="#a9d27f" stroke-width="0.95"/>
<path d="M48.9 162.0V158.5M47.7 162.0h2.4M47.7 158.5h2.4M55.8 162.0V158.5M54.6 162.0h2.4M54.6 158.5h2.4M62.7 162.0V158.5M61.5 162.0h2.4M61.5 158.5h2.4M69.7 162.0V158.5M68.5 162.0h2.4M68.5 158.5h2.4M76.6 162.0V158.5M75.4 162.0h2.4M75.4 158.5h2.4M83.5 162.0V158.5M82.3 162.0h2.4M82.3 158.5h2.4M90.4 162.0V158.5M89.2 162.0h2.4M89.2 158.5h2.4M97.4 162.0V158.5M96.2 162.0h2.4M96.2 158.5h2.4M104.3 162.0V158.5M103.1 162.0h2.4M103.1 158.5h2.4M111.2 162.0V158.5M110.0 162.0h2.4M110.0 158.5h2.4" stroke="#a9d27f" stroke-width="0.7" fill="none"/>
<path d="M47.7 160.3a1.15 1.15 0 1 0 2.3 0a1.15 1.15 0 1 0 -2.3 0M54.7 160.3a1.15 1.15 0 1 0 2.3 0a1.15 1.15 0 1 0 -2.3 0M61.6 160.3a1.15 1.15 0 1 0 2.3 0a1.15 1.15 0 1 0 -2.3 0M68.5 160.3a1.15 1.15 0 1 0 2.3 0a1.15 1.15 0 1 0 -2.3 0M75.4 160.3a1.15 1.15 0 1 0 2.3 0a1.15 1.15 0 1 0 -2.3 0M82.4 160.3a1.15 1.15 0 1 0 2.3 0a1.15 1.15 0 1 0 -2.3 0M89.3 160.3a1.15 1.15 0 1 0 2.3 0a1.15 1.15 0 1 0 -2.3 0M96.2 160.3a1.15 1.15 0 1 0 2.3 0a1.15 1.15 0 1 0 -2.3 0M103.1 160.3a1.15 1.15 0 1 0 2.3 0a1.15 1.15 0 1 0 -2.3 0M110.1 160.3a1.15 1.15 0 1 0 2.3 0a1.15 1.15 0 1 0 -2.3 0" fill="#a9d27f"/>
<polyline points="48.9,160.2 50.3,160.3 51.7,160.4 53.1,160.4 54.5,160.5 56.0,160.5 57.4,160.6 58.8,160.7 60.2,160.7 61.6,160.8 63.0,160.8 64.5,160.9 65.9,161.0 67.3,161.0 68.7,161.1 70.1,161.1 71.5,161.2 73.0,161.3 74.4,161.3 75.8,161.4 77.2,161.4 78.6,161.5 80.0,161.5 81.5,161.6 82.9,161.7 84.3,161.7 85.7,161.8 87.1,161.8 88.5,161.9 90.0,162.0 91.4,162.0 92.8,162.1 94.2,162.1 95.6,162.2 97.0,162.3 98.5,162.3 99.9,162.4 101.3,162.4 102.7,162.5 104.1,162.6 105.5,162.6 107.0,162.7 108.4,162.7 109.8,162.8 111.2,162.9" fill="none" stroke="#4f9a45" stroke-width="0.95"/>
<path d="M48.9 161.6V158.9M47.7 161.6h2.4M47.7 158.9h2.4M55.8 162.7V158.5M54.6 162.7h2.4M54.6 158.5h2.4M62.7 163.0V158.9M61.5 163.0h2.4M61.5 158.9h2.4M69.7 162.3V159.6M68.5 162.3h2.4M68.5 159.6h2.4M76.6 162.7V159.9M75.4 162.7h2.4M75.4 159.9h2.4M83.5 163.0V160.3M82.3 163.0h2.4M82.3 160.3h2.4M90.4 163.3V160.6M89.2 163.3h2.4M89.2 160.6h2.4M97.4 163.7V160.9M96.2 163.7h2.4M96.2 160.9h2.4M104.3 164.0V161.3M103.1 164.0h2.4M103.1 161.3h2.4M111.2 164.2V161.5M110.0 164.2h2.4M110.0 161.5h2.4" stroke="#4f9a45" stroke-width="0.7" fill="none"/>
<path d="M47.7 160.3a1.15 1.15 0 1 0 2.3 0a1.15 1.15 0 1 0 -2.3 0M54.7 160.6a1.15 1.15 0 1 0 2.3 0a1.15 1.15 0 1 0 -2.3 0M61.6 160.9a1.15 1.15 0 1 0 2.3 0a1.15 1.15 0 1 0 -2.3 0M68.5 160.9a1.15 1.15 0 1 0 2.3 0a1.15 1.15 0 1 0 -2.3 0M75.4 161.3a1.15 1.15 0 1 0 2.3 0a1.15 1.15 0 1 0 -2.3 0M82.4 161.6a1.15 1.15 0 1 0 2.3 0a1.15 1.15 0 1 0 -2.3 0M89.3 162.0a1.15 1.15 0 1 0 2.3 0a1.15 1.15 0 1 0 -2.3 0M96.2 162.3a1.15 1.15 0 1 0 2.3 0a1.15 1.15 0 1 0 -2.3 0M103.1 162.7a1.15 1.15 0 1 0 2.3 0a1.15 1.15 0 1 0 -2.3 0M110.1 162.8a1.15 1.15 0 1 0 2.3 0a1.15 1.15 0 1 0 -2.3 0" fill="#4f9a45"/>
<polyline points="48.9,157.8 50.3,157.8 51.7,157.8 53.1,157.9 54.5,157.9 56.0,157.9 57.4,157.9 58.8,157.9 60.2,157.9 61.6,157.9 63.0,157.9 64.5,157.9 65.9,157.9 67.3,158.0 68.7,158.0 70.1,158.0 71.5,158.1 73.0,158.2 74.4,158.3 75.8,158.5 77.2,158.7 78.6,159.0 80.0,159.4 81.5,159.9 82.9,160.6 84.3,161.5 85.7,162.6 87.1,163.9 88.5,165.6 90.0,167.6 91.4,169.9 92.8,172.4 94.2,175.1 95.6,177.7 97.0,180.3 98.5,182.6 99.9,184.7 101.3,186.5 102.7,187.9 104.1,189.1 105.5,190.0 107.0,190.8 108.4,191.3 109.8,191.7 111.2,192.1" fill="none" stroke="#24467a" stroke-width="0.95"/>
<path d="M48.9 159.4V156.7M47.7 159.4h2.4M47.7 156.7h2.4M55.8 160.1V156.0M54.6 160.1h2.4M54.6 156.0h2.4M62.7 160.1V156.0M61.5 160.1h2.4M61.5 156.0h2.4M69.7 160.1V156.0M68.5 160.1h2.4M68.5 156.0h2.4M76.6 159.7V156.3M75.4 159.7h2.4M75.4 156.3h2.4M83.5 161.6V159.6M82.3 161.6h2.4M82.3 159.6h2.4M90.4 170.2V168.1M89.2 170.2h2.4M89.2 168.1h2.4M97.4 180.8V178.8M96.2 180.8h2.4M96.2 178.8h2.4M104.3 191.4V189.4M103.1 191.4h2.4M103.1 189.4h2.4M111.2 192.1V190.8M110.0 192.1h2.4M110.0 190.8h2.4" stroke="#24467a" stroke-width="0.7" fill="none"/>
<path d="M47.7 158.0a1.15 1.15 0 1 0 2.3 0a1.15 1.15 0 1 0 -2.3 0M54.7 158.0a1.15 1.15 0 1 0 2.3 0a1.15 1.15 0 1 0 -2.3 0M61.6 158.0a1.15 1.15 0 1 0 2.3 0a1.15 1.15 0 1 0 -2.3 0M68.5 158.0a1.15 1.15 0 1 0 2.3 0a1.15 1.15 0 1 0 -2.3 0M75.4 158.0a1.15 1.15 0 1 0 2.3 0a1.15 1.15 0 1 0 -2.3 0M82.4 160.6a1.15 1.15 0 1 0 2.3 0a1.15 1.15 0 1 0 -2.3 0M89.3 169.2a1.15 1.15 0 1 0 2.3 0a1.15 1.15 0 1 0 -2.3 0M96.2 179.8a1.15 1.15 0 1 0 2.3 0a1.15 1.15 0 1 0 -2.3 0M103.1 190.4a1.15 1.15 0 1 0 2.3 0a1.15 1.15 0 1 0 -2.3 0M110.1 191.4a1.15 1.15 0 1 0 2.3 0a1.15 1.15 0 1 0 -2.3 0" fill="#24467a"/>
<polyline points="48.9,163.6 50.3,165.3 51.7,167.1 53.1,168.8 54.5,170.6 56.0,172.3 57.4,174.0 58.8,175.6 60.2,177.1 61.6,178.5 63.0,179.8 64.5,180.9 65.9,182.0 67.3,182.9 68.7,183.7 70.1,184.4 71.5,185.0 73.0,185.6 74.4,186.0 75.8,186.4 77.2,186.7 78.6,187.0 80.0,187.3 81.5,187.5 82.9,187.7 84.3,187.8 85.7,187.9 87.1,188.0 88.5,188.1 90.0,188.2 91.4,188.2 92.8,188.3 94.2,188.3 95.6,188.4 97.0,188.4 98.5,188.4 99.9,188.5 101.3,188.5 102.7,188.5 104.1,188.5 105.5,188.5 107.0,188.5 108.4,188.5 109.8,188.5 111.2,188.5" fill="none" stroke="#f0a838" stroke-width="0.95"/>
<path d="M48.9 162.7V160.6M47.7 162.7h2.4M47.7 160.6h2.4M55.8 175.3V173.3M54.6 175.3h2.4M54.6 173.3h2.4M62.7 181.5V179.5M61.5 181.5h2.4M61.5 179.5h2.4M69.7 183.9V182.5M68.5 183.9h2.4M68.5 182.5h2.4M76.6 185.3V183.9M75.4 185.3h2.4M75.4 183.9h2.4M83.5 186.6V185.3M82.3 186.6h2.4M82.3 185.3h2.4M90.4 187.7V186.3M89.2 187.7h2.4M89.2 186.3h2.4M97.4 189.0V187.7M96.2 189.0h2.4M96.2 187.7h2.4M104.3 190.8V189.4M103.1 190.8h2.4M103.1 189.4h2.4M111.2 192.1V190.8M110.0 192.1h2.4M110.0 190.8h2.4" stroke="#f0a838" stroke-width="0.7" fill="none"/>
<path d="M47.7 161.6a1.15 1.15 0 1 0 2.3 0a1.15 1.15 0 1 0 -2.3 0M54.7 174.3a1.15 1.15 0 1 0 2.3 0a1.15 1.15 0 1 0 -2.3 0M61.6 180.5a1.15 1.15 0 1 0 2.3 0a1.15 1.15 0 1 0 -2.3 0M68.5 183.2a1.15 1.15 0 1 0 2.3 0a1.15 1.15 0 1 0 -2.3 0M75.4 184.6a1.15 1.15 0 1 0 2.3 0a1.15 1.15 0 1 0 -2.3 0M82.4 186.0a1.15 1.15 0 1 0 2.3 0a1.15 1.15 0 1 0 -2.3 0M89.3 187.0a1.15 1.15 0 1 0 2.3 0a1.15 1.15 0 1 0 -2.3 0M96.2 188.4a1.15 1.15 0 1 0 2.3 0a1.15 1.15 0 1 0 -2.3 0M103.1 190.1a1.15 1.15 0 1 0 2.3 0a1.15 1.15 0 1 0 -2.3 0M110.1 191.4a1.15 1.15 0 1 0 2.3 0a1.15 1.15 0 1 0 -2.3 0" fill="#f0a838"/>
<polyline points="48.9,167.3 50.3,168.8 51.7,170.3 53.1,171.8 54.5,173.3 56.0,174.7 57.4,176.1 58.8,177.3 60.2,178.5 61.6,179.7 63.0,180.7 64.5,181.6 65.9,182.5 67.3,183.3 68.7,183.9 70.1,184.6 71.5,185.1 73.0,185.6 74.4,186.0 75.8,186.4 77.2,186.7 78.6,187.0 80.0,187.3 81.5,187.5 82.9,187.7 84.3,187.8 85.7,188.0 87.1,188.1 88.5,188.2 90.0,188.3 91.4,188.4 92.8,188.4 94.2,188.5 95.6,188.6 97.0,188.6 98.5,188.6 99.9,188.7 101.3,188.7 102.7,188.7 104.1,188.7 105.5,188.8 107.0,188.8 108.4,188.8 109.8,188.8 111.2,188.8" fill="none" stroke="#a01b3a" stroke-width="0.95"/>
<path d="M48.9 166.4V164.4M47.7 166.4h2.4M47.7 164.4h2.4M55.8 177.7V175.7M54.6 177.7h2.4M54.6 175.7h2.4M62.7 182.9V180.8M61.5 182.9h2.4M61.5 180.8h2.4M69.7 184.2V182.9M68.5 184.2h2.4M68.5 182.9h2.4M76.6 185.3V183.9M75.4 185.3h2.4M75.4 183.9h2.4M83.5 186.6V185.3M82.3 186.6h2.4M82.3 185.3h2.4M90.4 187.7V186.3M89.2 187.7h2.4M89.2 186.3h2.4M97.4 189.0V187.7M96.2 189.0h2.4M96.2 187.7h2.4M104.3 191.1V189.7M103.1 191.1h2.4M103.1 189.7h2.4M111.2 192.1V190.8M110.0 192.1h2.4M110.0 190.8h2.4" stroke="#a01b3a" stroke-width="0.7" fill="none"/>
<path d="M47.7 165.4a1.15 1.15 0 1 0 2.3 0a1.15 1.15 0 1 0 -2.3 0M54.7 176.7a1.15 1.15 0 1 0 2.3 0a1.15 1.15 0 1 0 -2.3 0M61.6 181.8a1.15 1.15 0 1 0 2.3 0a1.15 1.15 0 1 0 -2.3 0M68.5 183.6a1.15 1.15 0 1 0 2.3 0a1.15 1.15 0 1 0 -2.3 0M75.4 184.6a1.15 1.15 0 1 0 2.3 0a1.15 1.15 0 1 0 -2.3 0M82.4 186.0a1.15 1.15 0 1 0 2.3 0a1.15 1.15 0 1 0 -2.3 0M89.3 187.0a1.15 1.15 0 1 0 2.3 0a1.15 1.15 0 1 0 -2.3 0M96.2 188.4a1.15 1.15 0 1 0 2.3 0a1.15 1.15 0 1 0 -2.3 0M103.1 190.4a1.15 1.15 0 1 0 2.3 0a1.15 1.15 0 1 0 -2.3 0M110.1 191.4a1.15 1.15 0 1 0 2.3 0a1.15 1.15 0 1 0 -2.3 0" fill="#a01b3a"/>
<line x1="38.10" y1="141.60" x2="38.10" y2="194.20" stroke="#111" stroke-width="1.3"/>
<line x1="37.40" y1="193.50" x2="123.30" y2="193.50" stroke="#111" stroke-width="1.3"/>
<line x1="35.20" y1="193.50" x2="37.80" y2="193.50" stroke="#111" stroke-width="1.1"/>
<text x="32.20" y="195.70" font-size="6.3" text-anchor="end">0</text>
<line x1="35.20" y1="176.37" x2="37.80" y2="176.37" stroke="#111" stroke-width="1.1"/>
<text x="32.20" y="178.57" font-size="6.3" text-anchor="end">50</text>
<line x1="35.20" y1="159.23" x2="37.80" y2="159.23" stroke="#111" stroke-width="1.1"/>
<text x="32.20" y="161.43" font-size="6.3" text-anchor="end">100</text>
<line x1="35.20" y1="142.10" x2="37.80" y2="142.10" stroke="#111" stroke-width="1.1"/>
<text x="32.20" y="144.30" font-size="6.3" text-anchor="end">150</text>
<line x1="38.00" y1="193.50" x2="38.00" y2="196.20" stroke="#111" stroke-width="1.1"/>
<text x="37.40" y="204.90" font-size="6.3" text-anchor="middle">-10</text>
<line x1="65.70" y1="193.50" x2="65.70" y2="196.20" stroke="#111" stroke-width="1.1"/>
<text x="65.10" y="204.90" font-size="6.3" text-anchor="middle">-8</text>
<line x1="93.40" y1="193.50" x2="93.40" y2="196.20" stroke="#111" stroke-width="1.1"/>
<text x="92.80" y="204.90" font-size="6.3" text-anchor="middle">-6</text>
<line x1="121.10" y1="193.50" x2="121.10" y2="196.20" stroke="#111" stroke-width="1.1"/>
<text x="120.50" y="204.90" font-size="6.3" text-anchor="middle">-4</text>
<text x="68.80" y="134.30" font-size="8.4" class="t" textLength="23.10" lengthAdjust="spacingAndGlyphs">TMD8</text>
<text x="13.90" y="166.30" font-size="7.4" text-anchor="middle" textLength="56.60" lengthAdjust="spacingAndGlyphs" transform="rotate(-90 13.90 166.30)">RLUs (DMSO norm)</text>
<text x="55.50" y="217.10" font-size="8.2" textLength="50.60" lengthAdjust="spacingAndGlyphs">Log10 (dose) (M)</text>
<line x1="118.30" y1="146.50" x2="122.70" y2="146.50" stroke="#a01b3a" stroke-width="0.8"/>
<circle cx="120.50" cy="146.50" r="1.2" fill="#a01b3a"/>
<text x="126.20" y="148.40" font-size="5.5" textLength="41.00" lengthAdjust="spacingAndGlyphs">Vector - Ibrutinib</text>
<line x1="118.30" y1="153.43" x2="122.70" y2="153.43" stroke="#f0a838" stroke-width="0.8"/>
<circle cx="120.50" cy="153.43" r="1.2" fill="#f0a838"/>
<text x="126.20" y="155.33" font-size="5.5" textLength="44.50" lengthAdjust="spacingAndGlyphs">BTK WT - Ibrutinib</text>
<line x1="118.30" y1="160.36" x2="122.70" y2="160.36" stroke="#24467a" stroke-width="0.8"/>
<circle cx="120.50" cy="160.36" r="1.2" fill="#24467a"/>
<text x="126.20" y="162.26" font-size="5.5" textLength="51.60" lengthAdjust="spacingAndGlyphs">BTK C481S - Ibrutinib</text>
<line x1="118.30" y1="167.29" x2="122.70" y2="167.29" stroke="#4f9a45" stroke-width="0.8"/>
<circle cx="120.50" cy="167.29" r="1.2" fill="#4f9a45"/>
<text x="126.20" y="169.19" font-size="5.5" textLength="36.60" lengthAdjust="spacingAndGlyphs">Vector - DMSO</text>
<line x1="118.30" y1="174.22" x2="122.70" y2="174.22" stroke="#a9d27f" stroke-width="0.8"/>
<circle cx="120.50" cy="174.22" r="1.2" fill="#a9d27f"/>
<text x="126.20" y="176.12" font-size="5.5" textLength="40.00" lengthAdjust="spacingAndGlyphs">BTK WT - DMSO</text>
<line x1="118.30" y1="181.15" x2="122.70" y2="181.15" stroke="#72b6de" stroke-width="0.8"/>
<circle cx="120.50" cy="181.15" r="1.2" fill="#72b6de"/>
<text x="126.20" y="183.05" font-size="5.5" textLength="47.70" lengthAdjust="spacingAndGlyphs">BTK C481S - DMSO</text>
<polyline points="240.4,158.6 241.8,158.6 243.2,158.7 244.6,158.8 246.0,158.9 247.5,159.0 248.9,159.1 250.3,159.1 251.7,159.2 253.1,159.3 254.5,159.4 256.0,159.5 257.4,159.5 258.8,159.6 260.2,159.7 261.6,159.8 263.0,159.9 264.5,159.9 265.9,160.0 267.3,160.1 268.7,160.2 270.1,160.3 271.5,160.4 273.0,160.4 274.4,160.5 275.8,160.6 277.2,160.7 278.6,160.8 280.0,160.8 281.5,160.9 282.9,161.0 284.3,161.1 285.7,161.2 287.1,161.2 288.5,161.3 290.0,161.4 291.4,161.5 292.8,161.6 294.2,161.7 295.6,161.7 297.0,161.8 298.5,161.9 299.9,162.0 301.3,162.1 302.7,162.1" fill="none" stroke="#72b6de" stroke-width="0.95"/>
<path d="M240.4 160.7V157.9M239.2 160.7h2.4M239.2 157.9h2.4M247.3 160.7V157.9M246.1 160.7h2.4M246.1 157.9h2.4M254.2 160.7V157.9M253.0 160.7h2.4M253.0 157.9h2.4M261.2 160.7V157.9M260.0 160.7h2.4M260.0 157.9h2.4M268.1 161.0V158.2M266.9 161.0h2.4M266.9 158.2h2.4M275.0 161.4V158.6M273.8 161.4h2.4M273.8 158.6h2.4M281.9 162.1V159.3M280.7 162.1h2.4M280.7 159.3h2.4M288.9 162.7V160.0M287.7 162.7h2.4M287.7 160.0h2.4M295.8 163.4V160.7M294.6 163.4h2.4M294.6 160.7h2.4M302.7 164.1V161.4M301.5 164.1h2.4M301.5 161.4h2.4" stroke="#72b6de" stroke-width="0.7" fill="none"/>
<path d="M239.2 159.3a1.15 1.15 0 1 0 2.3 0a1.15 1.15 0 1 0 -2.3 0M246.2 159.3a1.15 1.15 0 1 0 2.3 0a1.15 1.15 0 1 0 -2.3 0M253.1 159.3a1.15 1.15 0 1 0 2.3 0a1.15 1.15 0 1 0 -2.3 0M260.0 159.3a1.15 1.15 0 1 0 2.3 0a1.15 1.15 0 1 0 -2.3 0M266.9 159.6a1.15 1.15 0 1 0 2.3 0a1.15 1.15 0 1 0 -2.3 0M273.9 160.0a1.15 1.15 0 1 0 2.3 0a1.15 1.15 0 1 0 -2.3 0M280.8 160.7a1.15 1.15 0 1 0 2.3 0a1.15 1.15 0 1 0 -2.3 0M287.7 161.4a1.15 1.15 0 1 0 2.3 0a1.15 1.15 0 1 0 -2.3 0M294.6 162.1a1.15 1.15 0 1 0 2.3 0a1.15 1.15 0 1 0 -2.3 0M301.6 162.7a1.15 1.15 0 1 0 2.3 0a1.15 1.15 0 1 0 -2.3 0" fill="#72b6de"/>
<polyline points="240.4,158.2 241.8,158.3 243.2,158.4 244.6,158.5 246.0,158.5 247.5,158.6 248.9,158.7 250.3,158.8 251.7,158.9 253.1,159.0 254.5,159.0 256.0,159.1 257.4,159.2 258.8,159.3 260.2,159.4 261.6,159.4 263.0,159.5 264.5,159.6 265.9,159.7 267.3,159.8 268.7,159.8 270.1,159.9 271.5,160.0 273.0,160.1 274.4,160.2 275.8,160.3 277.2,160.3 278.6,160.4 280.0,160.5 281.5,160.6 282.9,160.7 284.3,160.7 285.7,160.8 287.1,160.9 288.5,161.0 290.0,161.1 291.4,161.1 292.8,161.2 294.2,161.3 295.6,161.4 297.0,161.5 298.5,161.6 299.9,161.6 301.3,161.7 302.7,161.8" fill="none" stroke="#a9d27f" stroke-width="0.95"/>
<path d="M240.4 160.3V157.5M239.2 160.3h2.4M239.2 157.5h2.4M247.3 160.3V157.5M246.1 160.3h2.4M246.1 157.5h2.4M254.2 160.3V157.5M253.0 160.3h2.4M253.0 157.5h2.4M261.2 160.3V157.5M260.0 160.3h2.4M260.0 157.5h2.4M268.1 160.7V157.9M266.9 160.7h2.4M266.9 157.9h2.4M275.0 161.0V158.2M273.8 161.0h2.4M273.8 158.2h2.4M281.9 161.7V158.9M280.7 161.7h2.4M280.7 158.9h2.4M288.9 162.4V159.6M287.7 162.4h2.4M287.7 159.6h2.4M295.8 163.1V160.3M294.6 163.1h2.4M294.6 160.3h2.4M302.7 163.8V161.0M301.5 163.8h2.4M301.5 161.0h2.4" stroke="#a9d27f" stroke-width="0.7" fill="none"/>
<path d="M239.2 158.9a1.15 1.15 0 1 0 2.3 0a1.15 1.15 0 1 0 -2.3 0M246.2 158.9a1.15 1.15 0 1 0 2.3 0a1.15 1.15 0 1 0 -2.3 0M253.1 158.9a1.15 1.15 0 1 0 2.3 0a1.15 1.15 0 1 0 -2.3 0M260.0 158.9a1.15 1.15 0 1 0 2.3 0a1.15 1.15 0 1 0 -2.3 0M266.9 159.3a1.15 1.15 0 1 0 2.3 0a1.15 1.15 0 1 0 -2.3 0M273.9 159.6a1.15 1.15 0 1 0 2.3 0a1.15 1.15 0 1 0 -2.3 0M280.8 160.3a1.15 1.15 0 1 0 2.3 0a1.15 1.15 0 1 0 -2.3 0M287.7 161.0a1.15 1.15 0 1 0 2.3 0a1.15 1.15 0 1 0 -2.3 0M294.6 161.7a1.15 1.15 0 1 0 2.3 0a1.15 1.15 0 1 0 -2.3 0M301.6 162.4a1.15 1.15 0 1 0 2.3 0a1.15 1.15 0 1 0 -2.3 0" fill="#a9d27f"/>
<polyline points="240.4,157.9 241.8,158.0 243.2,158.0 244.6,158.1 246.0,158.2 247.5,158.3 248.9,158.4 250.3,158.4 251.7,158.5 253.1,158.6 254.5,158.7 256.0,158.8 257.4,158.8 258.8,158.9 260.2,159.0 261.6,159.1 263.0,159.2 264.5,159.3 265.9,159.3 267.3,159.4 268.7,159.5 270.1,159.6 271.5,159.7 273.0,159.7 274.4,159.8 275.8,159.9 277.2,160.0 278.6,160.1 280.0,160.1 281.5,160.2 282.9,160.3 284.3,160.4 285.7,160.5 287.1,160.6 288.5,160.6 290.0,160.7 291.4,160.8 292.8,160.9 294.2,161.0 295.6,161.0 297.0,161.1 298.5,161.2 299.9,161.3 301.3,161.4 302.7,161.4" fill="none" stroke="#4f9a45" stroke-width="0.95"/>
<path d="M240.4 160.0V157.2M239.2 160.0h2.4M239.2 157.2h2.4M247.3 160.0V157.2M246.1 160.0h2.4M246.1 157.2h2.4M254.2 160.0V157.2M253.0 160.0h2.4M253.0 157.2h2.4M261.2 160.0V157.2M260.0 160.0h2.4M260.0 157.2h2.4M268.1 160.3V157.5M266.9 160.3h2.4M266.9 157.5h2.4M275.0 160.7V157.9M273.8 160.7h2.4M273.8 157.9h2.4M281.9 161.4V158.6M280.7 161.4h2.4M280.7 158.6h2.4M288.9 162.1V159.3M287.7 162.1h2.4M287.7 159.3h2.4M295.8 162.7V160.0M294.6 162.7h2.4M294.6 160.0h2.4M302.7 164.1V160.0M301.5 164.1h2.4M301.5 160.0h2.4" stroke="#4f9a45" stroke-width="0.7" fill="none"/>
<path d="M239.2 158.6a1.15 1.15 0 1 0 2.3 0a1.15 1.15 0 1 0 -2.3 0M246.2 158.6a1.15 1.15 0 1 0 2.3 0a1.15 1.15 0 1 0 -2.3 0M253.1 158.6a1.15 1.15 0 1 0 2.3 0a1.15 1.15 0 1 0 -2.3 0M260.0 158.6a1.15 1.15 0 1 0 2.3 0a1.15 1.15 0 1 0 -2.3 0M266.9 158.9a1.15 1.15 0 1 0 2.3 0a1.15 1.15 0 1 0 -2.3 0M273.9 159.3a1.15 1.15 0 1 0 2.3 0a1.15 1.15 0 1 0 -2.3 0M280.8 160.0a1.15 1.15 0 1 0 2.3 0a1.15 1.15 0 1 0 -2.3 0M287.7 160.7a1.15 1.15 0 1 0 2.3 0a1.15 1.15 0 1 0 -2.3 0M294.6 161.4a1.15 1.15 0 1 0 2.3 0a1.15 1.15 0 1 0 -2.3 0M301.6 162.1a1.15 1.15 0 1 0 2.3 0a1.15 1.15 0 1 0 -2.3 0" fill="#4f9a45"/>
<polyline points="240.4,156.9 241.8,156.9 243.2,156.9 244.6,156.9 246.0,156.9 247.5,156.9 248.9,156.9 250.3,156.9 251.7,156.9 253.1,156.9 254.5,156.9 256.0,156.9 257.4,156.9 258.8,156.9 260.2,156.9 261.6,156.9 263.0,156.9 264.5,157.0 265.9,157.0 267.3,157.0 268.7,157.1 270.1,157.1 271.5,157.2 273.0,157.3 274.4,157.4 275.8,157.6 277.2,157.8 278.6,158.0 280.0,158.4 281.5,158.8 282.9,159.3 284.3,160.0 285.7,160.9 287.1,161.9 288.5,163.3 290.0,164.9 291.4,166.8 292.8,169.1 294.2,171.7 295.6,174.7 297.0,177.9 298.5,181.3 299.9,184.8 301.3,188.3 302.7,191.6" fill="none" stroke="#24467a" stroke-width="0.95"/>
<path d="M240.4 158.9V154.8M239.2 158.9h2.4M239.2 154.8h2.4M247.3 159.6V154.1M246.1 159.6h2.4M246.1 154.1h2.4M254.2 158.9V154.8M253.0 158.9h2.4M253.0 154.8h2.4M261.2 159.6V154.1M260.0 159.6h2.4M260.0 154.1h2.4M268.1 159.6V154.1M266.9 159.6h2.4M266.9 154.1h2.4M275.0 159.6V154.8M273.8 159.6h2.4M273.8 154.8h2.4M281.9 161.0V158.2M280.7 161.0h2.4M280.7 158.2h2.4M288.9 165.9V161.7M287.7 165.9h2.4M287.7 161.7h2.4M295.8 176.6V172.5M294.6 176.6h2.4M294.6 172.5h2.4M302.7 192.9V190.8M301.5 192.9h2.4M301.5 190.8h2.4" stroke="#24467a" stroke-width="0.7" fill="none"/>
<path d="M239.2 156.9a1.15 1.15 0 1 0 2.3 0a1.15 1.15 0 1 0 -2.3 0M246.2 156.9a1.15 1.15 0 1 0 2.3 0a1.15 1.15 0 1 0 -2.3 0M253.1 156.9a1.15 1.15 0 1 0 2.3 0a1.15 1.15 0 1 0 -2.3 0M260.0 156.9a1.15 1.15 0 1 0 2.3 0a1.15 1.15 0 1 0 -2.3 0M266.9 156.9a1.15 1.15 0 1 0 2.3 0a1.15 1.15 0 1 0 -2.3 0M273.9 157.2a1.15 1.15 0 1 0 2.3 0a1.15 1.15 0 1 0 -2.3 0M280.8 159.6a1.15 1.15 0 1 0 2.3 0a1.15 1.15 0 1 0 -2.3 0M287.7 163.8a1.15 1.15 0 1 0 2.3 0a1.15 1.15 0 1 0 -2.3 0M294.6 174.5a1.15 1.15 0 1 0 2.3 0a1.15 1.15 0 1 0 -2.3 0M301.6 191.9a1.15 1.15 0 1 0 2.3 0a1.15 1.15 0 1 0 -2.3 0" fill="#24467a"/>
<polyline points="240.4,159.5 241.8,160.2 243.2,161.0 244.6,161.7 246.0,162.5 247.5,163.2 248.9,164.0 250.3,164.8 251.7,165.6 253.1,166.4 254.5,167.3 256.0,168.1 257.4,168.9 258.8,169.6 260.2,170.4 261.6,171.2 263.0,171.9 264.5,172.6 265.9,173.3 267.3,174.0 268.7,174.6 270.1,175.3 271.5,175.9 273.0,176.4 274.4,177.0 275.8,177.5 277.2,177.9 278.6,178.4 280.0,178.8 281.5,179.2 282.9,179.6 284.3,179.9 285.7,180.3 287.1,180.6 288.5,180.8 290.0,181.1 291.4,181.3 292.8,181.6 294.2,181.8 295.6,182.0 297.0,182.1 298.5,182.3 299.9,182.5 301.3,182.6 302.7,182.7" fill="none" stroke="#f0a838" stroke-width="0.95"/>
<path d="M240.4 159.6V158.2M239.2 159.6h2.4M239.2 158.2h2.4M247.3 163.8V162.4M246.1 163.8h2.4M246.1 162.4h2.4M254.2 168.3V166.9M253.0 168.3h2.4M253.0 166.9h2.4M261.2 172.1V170.7M260.0 172.1h2.4M260.0 170.7h2.4M268.1 175.2V173.8M266.9 175.2h2.4M266.9 173.8h2.4M275.0 177.7V176.3M273.8 177.7h2.4M273.8 176.3h2.4M281.9 179.0V177.7M280.7 179.0h2.4M280.7 177.7h2.4M288.9 181.1V179.7M287.7 181.1h2.4M287.7 179.7h2.4M295.8 183.2V181.8M294.6 183.2h2.4M294.6 181.8h2.4M302.7 183.9V182.5M301.5 183.9h2.4M301.5 182.5h2.4" stroke="#f0a838" stroke-width="0.7" fill="none"/>
<path d="M239.2 158.9a1.15 1.15 0 1 0 2.3 0a1.15 1.15 0 1 0 -2.3 0M246.2 163.1a1.15 1.15 0 1 0 2.3 0a1.15 1.15 0 1 0 -2.3 0M253.1 167.6a1.15 1.15 0 1 0 2.3 0a1.15 1.15 0 1 0 -2.3 0M260.0 171.4a1.15 1.15 0 1 0 2.3 0a1.15 1.15 0 1 0 -2.3 0M266.9 174.5a1.15 1.15 0 1 0 2.3 0a1.15 1.15 0 1 0 -2.3 0M273.9 177.0a1.15 1.15 0 1 0 2.3 0a1.15 1.15 0 1 0 -2.3 0M280.8 178.3a1.15 1.15 0 1 0 2.3 0a1.15 1.15 0 1 0 -2.3 0M287.7 180.4a1.15 1.15 0 1 0 2.3 0a1.15 1.15 0 1 0 -2.3 0M294.6 182.5a1.15 1.15 0 1 0 2.3 0a1.15 1.15 0 1 0 -2.3 0M301.6 183.2a1.15 1.15 0 1 0 2.3 0a1.15 1.15 0 1 0 -2.3 0" fill="#f0a838"/>
<polyline points="240.4,166.4 241.8,167.4 243.2,168.4 244.6,169.5 246.0,170.5 247.5,171.6 248.9,172.7 250.3,173.8 251.7,174.8 253.1,175.7 254.5,176.6 256.0,177.4 257.4,178.2 258.8,178.8 260.2,179.4 261.6,179.9 263.0,180.4 264.5,180.8 265.9,181.1 267.3,181.4 268.7,181.7 270.1,181.9 271.5,182.1 273.0,182.2 274.4,182.3 275.8,182.4 277.2,182.5 278.6,182.6 280.0,182.7 281.5,182.7 282.9,182.8 284.3,182.8 285.7,182.8 287.1,182.9 288.5,182.9 290.0,182.9 291.4,182.9 292.8,182.9 294.2,183.0 295.6,183.0 297.0,183.0 298.5,183.0 299.9,183.0 301.3,183.0 302.7,183.0" fill="none" stroke="#a01b3a" stroke-width="0.95"/>
<path d="M240.4 167.3V165.9M239.2 167.3h2.4M239.2 165.9h2.4M247.3 171.8V170.4M246.1 171.8h2.4M246.1 170.4h2.4M254.2 177.7V176.3M253.0 177.7h2.4M253.0 176.3h2.4M261.2 180.4V179.0M260.0 180.4h2.4M260.0 179.0h2.4M268.1 182.2V180.8M266.9 182.2h2.4M266.9 180.8h2.4M275.0 182.9V181.5M273.8 182.9h2.4M273.8 181.5h2.4M281.9 182.9V181.5M280.7 182.9h2.4M280.7 181.5h2.4M288.9 183.5V182.2M287.7 183.5h2.4M287.7 182.2h2.4M295.8 183.9V182.5M294.6 183.9h2.4M294.6 182.5h2.4M302.7 184.2V182.9M301.5 184.2h2.4M301.5 182.9h2.4" stroke="#a01b3a" stroke-width="0.7" fill="none"/>
<path d="M239.2 166.6a1.15 1.15 0 1 0 2.3 0a1.15 1.15 0 1 0 -2.3 0M246.2 171.1a1.15 1.15 0 1 0 2.3 0a1.15 1.15 0 1 0 -2.3 0M253.1 177.0a1.15 1.15 0 1 0 2.3 0a1.15 1.15 0 1 0 -2.3 0M260.0 179.7a1.15 1.15 0 1 0 2.3 0a1.15 1.15 0 1 0 -2.3 0M266.9 181.5a1.15 1.15 0 1 0 2.3 0a1.15 1.15 0 1 0 -2.3 0M273.9 182.2a1.15 1.15 0 1 0 2.3 0a1.15 1.15 0 1 0 -2.3 0M280.8 182.2a1.15 1.15 0 1 0 2.3 0a1.15 1.15 0 1 0 -2.3 0M287.7 182.9a1.15 1.15 0 1 0 2.3 0a1.15 1.15 0 1 0 -2.3 0M294.6 183.2a1.15 1.15 0 1 0 2.3 0a1.15 1.15 0 1 0 -2.3 0M301.6 183.5a1.15 1.15 0 1 0 2.3 0a1.15 1.15 0 1 0 -2.3 0" fill="#a01b3a"/>
<line x1="229.60" y1="141.10" x2="229.60" y2="194.30" stroke="#111" stroke-width="1.3"/>
<line x1="228.90" y1="193.60" x2="314.80" y2="193.60" stroke="#111" stroke-width="1.3"/>
<line x1="226.70" y1="193.60" x2="229.30" y2="193.60" stroke="#111" stroke-width="1.1"/>
<text x="223.70" y="195.80" font-size="6.3" text-anchor="end">0</text>
<line x1="226.70" y1="176.27" x2="229.30" y2="176.27" stroke="#111" stroke-width="1.1"/>
<text x="223.70" y="178.47" font-size="6.3" text-anchor="end">50</text>
<line x1="226.70" y1="158.93" x2="229.30" y2="158.93" stroke="#111" stroke-width="1.1"/>
<text x="223.70" y="161.13" font-size="6.3" text-anchor="end">100</text>
<line x1="226.70" y1="141.60" x2="229.30" y2="141.60" stroke="#111" stroke-width="1.1"/>
<text x="223.70" y="143.80" font-size="6.3" text-anchor="end">150</text>
<line x1="229.50" y1="193.60" x2="229.50" y2="196.30" stroke="#111" stroke-width="1.1"/>
<text x="228.90" y="205.00" font-size="6.3" text-anchor="middle">-10</text>
<line x1="257.20" y1="193.60" x2="257.20" y2="196.30" stroke="#111" stroke-width="1.1"/>
<text x="256.60" y="205.00" font-size="6.3" text-anchor="middle">-8</text>
<line x1="284.90" y1="193.60" x2="284.90" y2="196.30" stroke="#111" stroke-width="1.1"/>
<text x="284.30" y="205.00" font-size="6.3" text-anchor="middle">-6</text>
<line x1="312.60" y1="193.60" x2="312.60" y2="196.30" stroke="#111" stroke-width="1.1"/>
<text x="312.00" y="205.00" font-size="6.3" text-anchor="middle">-4</text>
<text x="261.90" y="133.90" font-size="8.4" class="t" textLength="19.50" lengthAdjust="spacingAndGlyphs">HBL1</text>
<text x="206.20" y="165.40" font-size="7.4" text-anchor="middle" textLength="56.60" lengthAdjust="spacingAndGlyphs" transform="rotate(-90 206.20 165.40)">RLUs (DMSO norm)</text>
<text x="247.20" y="217.10" font-size="8.2" textLength="50.60" lengthAdjust="spacingAndGlyphs">Log10 (dose) (M)</text>
<line x1="310.40" y1="146.10" x2="314.80" y2="146.10" stroke="#a01b3a" stroke-width="0.8"/>
<circle cx="312.60" cy="146.10" r="1.2" fill="#a01b3a"/>
<text x="318.20" y="148.00" font-size="5.5" textLength="41.00" lengthAdjust="spacingAndGlyphs">Vector - Ibrutinib</text>
<line x1="310.40" y1="153.03" x2="314.80" y2="153.03" stroke="#f0a838" stroke-width="0.8"/>
<circle cx="312.60" cy="153.03" r="1.2" fill="#f0a838"/>
<text x="318.20" y="154.93" font-size="5.5" textLength="44.50" lengthAdjust="spacingAndGlyphs">BTK WT - Ibrutinib</text>
<line x1="310.40" y1="159.96" x2="314.80" y2="159.96" stroke="#24467a" stroke-width="0.8"/>
<circle cx="312.60" cy="159.96" r="1.2" fill="#24467a"/>
<text x="318.20" y="161.86" font-size="5.5" textLength="51.60" lengthAdjust="spacingAndGlyphs">BTK C481S - Ibrutinib</text>
<line x1="310.40" y1="166.89" x2="314.80" y2="166.89" stroke="#4f9a45" stroke-width="0.8"/>
<circle cx="312.60" cy="166.89" r="1.2" fill="#4f9a45"/>
<text x="318.20" y="168.79" font-size="5.5" textLength="36.60" lengthAdjust="spacingAndGlyphs">Vector - DMSO</text>
<line x1="310.40" y1="173.82" x2="314.80" y2="173.82" stroke="#a9d27f" stroke-width="0.8"/>
<circle cx="312.60" cy="173.82" r="1.2" fill="#a9d27f"/>
<text x="318.20" y="175.72" font-size="5.5" textLength="40.00" lengthAdjust="spacingAndGlyphs">BTK WT - DMSO</text>
<line x1="310.40" y1="180.75" x2="314.80" y2="180.75" stroke="#72b6de" stroke-width="0.8"/>
<circle cx="312.60" cy="180.75" r="1.2" fill="#72b6de"/>
<text x="318.20" y="182.65" font-size="5.5" textLength="47.70" lengthAdjust="spacingAndGlyphs">BTK C481S - DMSO</text>
<text x="9.00" y="234.40" font-size="11.5" font-weight="bold" fill="#000" textLength="7.30" lengthAdjust="spacingAndGlyphs">C</text>
<polyline points="48.5,269.7 49.6,269.7 50.8,269.7 51.9,269.7 53.1,269.7 54.3,269.7 55.4,269.7 56.6,269.7 57.7,269.7 58.9,269.7 60.1,269.7 61.2,269.7 62.4,269.7 63.6,269.7 64.7,269.7 65.9,269.7 67.0,269.7 68.2,269.7 69.4,269.7 70.5,269.7 71.7,269.7 72.9,269.7 74.0,269.7 75.2,269.7 76.3,269.7 77.5,269.7 78.7,269.7 79.8,269.7 81.0,269.7 82.1,269.7 83.3,269.7 84.5,269.7 85.6,269.7 86.8,269.7 88.0,269.7 89.1,269.7 90.3,269.7 91.4,269.7 92.6,269.7 93.8,269.7 94.9,269.7 96.1,269.7 97.3,269.7 98.4,269.7 99.6,269.7" fill="none" stroke="#4f9a45" stroke-width="0.95"/>
<path d="M48.5 271.0V268.4M47.3 271.0h2.4M47.3 268.4h2.4M54.8 271.0V268.4M53.6 271.0h2.4M53.6 268.4h2.4M61.2 271.0V268.4M60.0 271.0h2.4M60.0 268.4h2.4M67.6 271.0V268.4M66.4 271.0h2.4M66.4 268.4h2.4M74.0 271.0V268.4M72.8 271.0h2.4M72.8 268.4h2.4M80.4 271.0V268.4M79.2 271.0h2.4M79.2 268.4h2.4M86.8 271.0V268.4M85.6 271.0h2.4M85.6 268.4h2.4M93.2 271.7V267.8M92.0 271.7h2.4M92.0 267.8h2.4M99.6 271.7V267.8M98.4 271.7h2.4M98.4 267.8h2.4" stroke="#4f9a45" stroke-width="0.7" fill="none"/>
<path d="M47.3 269.7a1.15 1.15 0 1 0 2.3 0a1.15 1.15 0 1 0 -2.3 0M53.7 269.7a1.15 1.15 0 1 0 2.3 0a1.15 1.15 0 1 0 -2.3 0M60.1 269.7a1.15 1.15 0 1 0 2.3 0a1.15 1.15 0 1 0 -2.3 0M66.5 269.7a1.15 1.15 0 1 0 2.3 0a1.15 1.15 0 1 0 -2.3 0M72.9 269.7a1.15 1.15 0 1 0 2.3 0a1.15 1.15 0 1 0 -2.3 0M79.3 269.7a1.15 1.15 0 1 0 2.3 0a1.15 1.15 0 1 0 -2.3 0M85.6 269.7a1.15 1.15 0 1 0 2.3 0a1.15 1.15 0 1 0 -2.3 0M92.0 269.7a1.15 1.15 0 1 0 2.3 0a1.15 1.15 0 1 0 -2.3 0M98.4 269.7a1.15 1.15 0 1 0 2.3 0a1.15 1.15 0 1 0 -2.3 0" fill="#4f9a45"/>
<polyline points="48.5,269.1 49.6,269.1 50.8,269.1 51.9,269.1 53.1,269.1 54.3,269.1 55.4,269.1 56.6,269.1 57.7,269.1 58.9,269.1 60.1,269.1 61.2,269.1 62.4,269.1 63.6,269.1 64.7,269.1 65.9,269.1 67.0,269.1 68.2,269.1 69.4,269.1 70.5,269.1 71.7,269.1 72.9,269.1 74.0,269.1 75.2,269.1 76.3,269.1 77.5,269.1 78.7,269.1 79.8,269.1 81.0,269.1 82.1,269.2 83.3,269.2 84.5,269.3 85.6,269.5 86.8,269.7 88.0,270.2 89.1,271.1 90.3,272.5 91.4,274.6 92.6,277.5 93.8,281.0 94.9,284.5 96.1,287.6 97.3,290.0 98.4,291.5 99.6,292.5" fill="none" stroke="#24467a" stroke-width="0.95"/>
<path d="M48.5 270.1V268.1M47.3 270.1h2.4M47.3 268.1h2.4M54.8 270.7V267.5M53.6 270.7h2.4M53.6 267.5h2.4M61.2 271.7V266.5M60.0 271.7h2.4M60.0 266.5h2.4M67.6 270.4V267.8M66.4 270.4h2.4M66.4 267.8h2.4M74.0 270.4V267.8M72.8 270.4h2.4M72.8 267.8h2.4M80.4 270.7V267.5M79.2 270.7h2.4M79.2 267.5h2.4M86.8 271.4V268.1M85.6 271.4h2.4M85.6 268.1h2.4M93.2 280.5V277.9M92.0 280.5h2.4M92.0 277.9h2.4M99.6 293.5V291.5M98.4 293.5h2.4M98.4 291.5h2.4" stroke="#24467a" stroke-width="0.7" fill="none"/>
<path d="M47.3 269.1a1.15 1.15 0 1 0 2.3 0a1.15 1.15 0 1 0 -2.3 0M53.7 269.1a1.15 1.15 0 1 0 2.3 0a1.15 1.15 0 1 0 -2.3 0M60.1 269.1a1.15 1.15 0 1 0 2.3 0a1.15 1.15 0 1 0 -2.3 0M66.5 269.1a1.15 1.15 0 1 0 2.3 0a1.15 1.15 0 1 0 -2.3 0M72.9 269.1a1.15 1.15 0 1 0 2.3 0a1.15 1.15 0 1 0 -2.3 0M79.3 269.1a1.15 1.15 0 1 0 2.3 0a1.15 1.15 0 1 0 -2.3 0M85.6 269.7a1.15 1.15 0 1 0 2.3 0a1.15 1.15 0 1 0 -2.3 0M92.0 279.2a1.15 1.15 0 1 0 2.3 0a1.15 1.15 0 1 0 -2.3 0M98.4 292.5a1.15 1.15 0 1 0 2.3 0a1.15 1.15 0 1 0 -2.3 0" fill="#24467a"/>
<polyline points="48.5,269.4 49.6,269.4 50.8,269.4 51.9,269.4 53.1,269.4 54.3,269.4 55.4,269.4 56.6,269.4 57.7,269.4 58.9,269.4 60.1,269.4 61.2,269.4 62.4,269.4 63.6,269.4 64.7,269.4 65.9,269.4 67.0,269.4 68.2,269.4 69.4,269.4 70.5,269.4 71.7,269.4 72.9,269.4 74.0,269.4 75.2,269.4 76.3,269.4 77.5,269.4 78.7,269.4 79.8,269.4 81.0,269.4 82.1,269.4 83.3,269.4 84.5,269.4 85.6,269.4 86.8,269.4 88.0,269.4 89.1,269.4 90.3,269.4 91.4,269.4 92.6,269.4 93.8,269.4 94.9,269.4 96.1,269.4 97.3,269.4 98.4,269.4 99.6,269.4" fill="none" stroke="#a9d27f" stroke-width="0.95"/>
<path d="M48.5 270.4V268.4M47.3 270.4h2.4M47.3 268.4h2.4M54.8 270.4V268.4M53.6 270.4h2.4M53.6 268.4h2.4M61.2 270.4V268.4M60.0 270.4h2.4M60.0 268.4h2.4M67.6 270.4V268.4M66.4 270.4h2.4M66.4 268.4h2.4M74.0 270.4V268.4M72.8 270.4h2.4M72.8 268.4h2.4M80.4 270.4V268.4M79.2 270.4h2.4M79.2 268.4h2.4M86.8 270.4V268.4M85.6 270.4h2.4M85.6 268.4h2.4M93.2 270.4V268.4M92.0 270.4h2.4M92.0 268.4h2.4M99.6 270.4V268.4M98.4 270.4h2.4M98.4 268.4h2.4" stroke="#a9d27f" stroke-width="0.7" fill="none"/>
<path d="M47.3 269.4a1.15 1.15 0 1 0 2.3 0a1.15 1.15 0 1 0 -2.3 0M53.7 269.4a1.15 1.15 0 1 0 2.3 0a1.15 1.15 0 1 0 -2.3 0M60.1 269.4a1.15 1.15 0 1 0 2.3 0a1.15 1.15 0 1 0 -2.3 0M66.5 269.4a1.15 1.15 0 1 0 2.3 0a1.15 1.15 0 1 0 -2.3 0M72.9 269.4a1.15 1.15 0 1 0 2.3 0a1.15 1.15 0 1 0 -2.3 0M79.3 269.4a1.15 1.15 0 1 0 2.3 0a1.15 1.15 0 1 0 -2.3 0M85.6 269.4a1.15 1.15 0 1 0 2.3 0a1.15 1.15 0 1 0 -2.3 0M92.0 269.4a1.15 1.15 0 1 0 2.3 0a1.15 1.15 0 1 0 -2.3 0M98.4 269.4a1.15 1.15 0 1 0 2.3 0a1.15 1.15 0 1 0 -2.3 0" fill="#a9d27f"/>
<polyline points="48.5,269.1 49.6,269.1 50.8,269.1 51.9,269.1 53.1,269.1 54.3,269.1 55.4,269.1 56.6,269.1 57.7,269.1 58.9,269.1 60.1,269.1 61.2,269.1 62.4,269.1 63.6,269.1 64.7,269.1 65.9,269.1 67.0,269.1 68.2,269.1 69.4,269.1 70.5,269.1 71.7,269.1 72.9,269.1 74.0,269.1 75.2,269.1 76.3,269.1 77.5,269.1 78.7,269.1 79.8,269.1 81.0,269.1 82.1,269.1 83.3,269.1 84.5,269.1 85.6,269.1 86.8,269.1 88.0,269.1 89.1,269.1 90.3,269.1 91.4,269.1 92.6,269.1 93.8,269.1 94.9,269.1 96.1,269.1 97.3,269.1 98.4,269.1 99.6,269.1" fill="none" stroke="#72b6de" stroke-width="0.95"/>
<path d="M48.5 270.1V268.1M47.3 270.1h2.4M47.3 268.1h2.4M54.8 270.1V268.1M53.6 270.1h2.4M53.6 268.1h2.4M61.2 270.1V268.1M60.0 270.1h2.4M60.0 268.1h2.4M67.6 270.1V268.1M66.4 270.1h2.4M66.4 268.1h2.4M74.0 270.1V268.1M72.8 270.1h2.4M72.8 268.1h2.4M80.4 270.1V268.1M79.2 270.1h2.4M79.2 268.1h2.4M86.8 270.1V268.1M85.6 270.1h2.4M85.6 268.1h2.4M93.2 270.1V268.1M92.0 270.1h2.4M92.0 268.1h2.4M99.6 270.1V268.1M98.4 270.1h2.4M98.4 268.1h2.4" stroke="#72b6de" stroke-width="0.7" fill="none"/>
<path d="M47.3 269.1a1.15 1.15 0 1 0 2.3 0a1.15 1.15 0 1 0 -2.3 0M53.7 269.1a1.15 1.15 0 1 0 2.3 0a1.15 1.15 0 1 0 -2.3 0M60.1 269.1a1.15 1.15 0 1 0 2.3 0a1.15 1.15 0 1 0 -2.3 0M66.5 269.1a1.15 1.15 0 1 0 2.3 0a1.15 1.15 0 1 0 -2.3 0M72.9 269.1a1.15 1.15 0 1 0 2.3 0a1.15 1.15 0 1 0 -2.3 0M79.3 269.1a1.15 1.15 0 1 0 2.3 0a1.15 1.15 0 1 0 -2.3 0M85.6 269.1a1.15 1.15 0 1 0 2.3 0a1.15 1.15 0 1 0 -2.3 0M92.0 269.1a1.15 1.15 0 1 0 2.3 0a1.15 1.15 0 1 0 -2.3 0M98.4 269.1a1.15 1.15 0 1 0 2.3 0a1.15 1.15 0 1 0 -2.3 0" fill="#72b6de"/>
<polyline points="48.5,270.9 49.6,270.9 50.8,271.0 51.9,271.1 53.1,271.2 54.3,271.3 55.4,271.3 56.6,271.5 57.7,271.6 58.9,271.7 60.1,271.8 61.2,272.0 62.4,272.2 63.6,272.4 64.7,272.6 65.9,272.8 67.0,273.1 68.2,273.3 69.4,273.6 70.5,274.0 71.7,274.3 72.9,274.7 74.0,275.1 75.2,275.6 76.3,276.1 77.5,276.6 78.7,277.2 79.8,277.9 81.0,278.5 82.1,279.2 83.3,280.0 84.5,280.8 85.6,281.7 86.8,282.6 88.0,283.6 89.1,284.6 90.3,285.6 91.4,286.7 92.6,287.8 93.8,289.0 94.9,290.1 96.1,291.3 97.3,292.5 98.4,293.8 99.6,295.0" fill="none" stroke="#f0a838" stroke-width="0.95"/>
<path d="M48.5 271.0V269.1M47.3 271.0h2.4M47.3 269.1h2.4M54.8 272.3V270.4M53.6 272.3h2.4M53.6 270.4h2.4M61.2 273.0V271.0M60.0 273.0h2.4M60.0 271.0h2.4M67.6 274.6V272.7M66.4 274.6h2.4M66.4 272.7h2.4M74.0 276.9V274.9M72.8 276.9h2.4M72.8 274.9h2.4M80.4 279.5V277.6M79.2 279.5h2.4M79.2 277.6h2.4M86.8 282.8V280.8M85.6 282.8h2.4M85.6 280.8h2.4M93.2 288.6V286.7M92.0 288.6h2.4M92.0 286.7h2.4M99.6 296.7V294.8M98.4 296.7h2.4M98.4 294.8h2.4" stroke="#f0a838" stroke-width="0.7" fill="none"/>
<path d="M47.3 270.1a1.15 1.15 0 1 0 2.3 0a1.15 1.15 0 1 0 -2.3 0M53.7 271.4a1.15 1.15 0 1 0 2.3 0a1.15 1.15 0 1 0 -2.3 0M60.1 272.0a1.15 1.15 0 1 0 2.3 0a1.15 1.15 0 1 0 -2.3 0M66.5 273.6a1.15 1.15 0 1 0 2.3 0a1.15 1.15 0 1 0 -2.3 0M72.9 275.9a1.15 1.15 0 1 0 2.3 0a1.15 1.15 0 1 0 -2.3 0M79.3 278.5a1.15 1.15 0 1 0 2.3 0a1.15 1.15 0 1 0 -2.3 0M85.6 281.8a1.15 1.15 0 1 0 2.3 0a1.15 1.15 0 1 0 -2.3 0M92.0 287.6a1.15 1.15 0 1 0 2.3 0a1.15 1.15 0 1 0 -2.3 0M98.4 295.8a1.15 1.15 0 1 0 2.3 0a1.15 1.15 0 1 0 -2.3 0" fill="#f0a838"/>
<polyline points="48.5,271.7 49.6,271.8 50.8,271.9 51.9,271.9 53.1,272.0 54.3,272.1 55.4,272.2 56.6,272.3 57.7,272.4 58.9,272.6 60.1,272.7 61.2,272.9 62.4,273.0 63.6,273.2 64.7,273.4 65.9,273.6 67.0,273.8 68.2,274.1 69.4,274.4 70.5,274.6 71.7,275.0 72.9,275.3 74.0,275.6 75.2,276.0 76.3,276.4 77.5,276.9 78.7,277.4 79.8,277.9 81.0,278.4 82.1,279.0 83.3,279.6 84.5,280.3 85.6,280.9 86.8,281.7 88.0,282.4 89.1,283.2 90.3,284.0 91.4,284.9 92.6,285.8 93.8,286.7 94.9,287.7 96.1,288.6 97.3,289.6 98.4,290.6 99.6,291.7" fill="none" stroke="#a01b3a" stroke-width="0.95"/>
<path d="M48.5 271.7V269.7M47.3 271.7h2.4M47.3 269.7h2.4M54.8 273.3V271.4M53.6 273.3h2.4M53.6 271.4h2.4M61.2 274.3V271.7M60.0 274.3h2.4M60.0 271.7h2.4M67.6 275.9V273.3M66.4 275.9h2.4M66.4 273.3h2.4M74.0 278.2V274.3M72.8 278.2h2.4M72.8 274.3h2.4M80.4 279.8V277.2M79.2 279.8h2.4M79.2 277.2h2.4M86.8 281.8V279.8M85.6 281.8h2.4M85.6 279.8h2.4M93.2 286.3V284.4M92.0 286.3h2.4M92.0 284.4h2.4M99.6 293.5V291.5M98.4 293.5h2.4M98.4 291.5h2.4" stroke="#a01b3a" stroke-width="0.7" fill="none"/>
<path d="M47.3 270.7a1.15 1.15 0 1 0 2.3 0a1.15 1.15 0 1 0 -2.3 0M53.7 272.3a1.15 1.15 0 1 0 2.3 0a1.15 1.15 0 1 0 -2.3 0M60.1 273.0a1.15 1.15 0 1 0 2.3 0a1.15 1.15 0 1 0 -2.3 0M66.5 274.6a1.15 1.15 0 1 0 2.3 0a1.15 1.15 0 1 0 -2.3 0M72.9 276.2a1.15 1.15 0 1 0 2.3 0a1.15 1.15 0 1 0 -2.3 0M79.3 278.5a1.15 1.15 0 1 0 2.3 0a1.15 1.15 0 1 0 -2.3 0M85.6 280.8a1.15 1.15 0 1 0 2.3 0a1.15 1.15 0 1 0 -2.3 0M92.0 285.4a1.15 1.15 0 1 0 2.3 0a1.15 1.15 0 1 0 -2.3 0M98.4 292.5a1.15 1.15 0 1 0 2.3 0a1.15 1.15 0 1 0 -2.3 0" fill="#a01b3a"/>
<line x1="38.30" y1="252.00" x2="38.30" y2="302.00" stroke="#111" stroke-width="1.3"/>
<line x1="37.60" y1="301.30" x2="110.50" y2="301.30" stroke="#111" stroke-width="1.3"/>
<line x1="35.40" y1="301.30" x2="38.00" y2="301.30" stroke="#111" stroke-width="1.1"/>
<text x="32.40" y="303.50" font-size="6.3" text-anchor="end">0</text>
<line x1="35.40" y1="285.03" x2="38.00" y2="285.03" stroke="#111" stroke-width="1.1"/>
<text x="32.40" y="287.23" font-size="6.3" text-anchor="end">50</text>
<line x1="35.40" y1="268.77" x2="38.00" y2="268.77" stroke="#111" stroke-width="1.1"/>
<text x="32.40" y="270.97" font-size="6.3" text-anchor="end">100</text>
<line x1="35.40" y1="252.50" x2="38.00" y2="252.50" stroke="#111" stroke-width="1.1"/>
<text x="32.40" y="254.70" font-size="6.3" text-anchor="end">150</text>
<line x1="57.60" y1="301.30" x2="57.60" y2="304.00" stroke="#111" stroke-width="1.1"/>
<text x="57.00" y="312.70" font-size="6.3" text-anchor="middle">-8</text>
<line x1="83.16" y1="301.30" x2="83.16" y2="304.00" stroke="#111" stroke-width="1.1"/>
<text x="82.56" y="312.70" font-size="6.3" text-anchor="middle">-6</text>
<line x1="108.72" y1="301.30" x2="108.72" y2="304.00" stroke="#111" stroke-width="1.1"/>
<text x="108.12" y="312.70" font-size="6.3" text-anchor="middle">-4</text>
<text x="41.20" y="244.50" font-size="8.6" class="t" textLength="68.00" lengthAdjust="spacingAndGlyphs">BCWM.1 washout</text>
<text x="14.10" y="275.20" font-size="7.2" text-anchor="middle" textLength="57.00" lengthAdjust="spacingAndGlyphs" transform="rotate(-90 14.10 275.20)">RLUs (DMSO norm)</text>
<text x="49.80" y="325.30" font-size="8.2" textLength="50.80" lengthAdjust="spacingAndGlyphs">Log10 (dose) (M)</text>
<line x1="17.70" y1="340.00" x2="21.70" y2="340.00" stroke="#a01b3a" stroke-width="0.8"/>
<circle cx="19.70" cy="340.00" r="1.2" fill="#a01b3a"/>
<text x="25.00" y="338.10" font-size="5.5" textLength="15.60" lengthAdjust="spacingAndGlyphs">Vector</text>
<text x="25.00" y="344.90" font-size="5.5" textLength="23.50" lengthAdjust="spacingAndGlyphs">- Ibrutinib</text>
<line x1="17.70" y1="356.30" x2="21.70" y2="356.30" stroke="#4f9a45" stroke-width="0.8"/>
<circle cx="19.70" cy="356.30" r="1.2" fill="#4f9a45"/>
<text x="25.00" y="355.10" font-size="5.5" textLength="15.60" lengthAdjust="spacingAndGlyphs">Vector</text>
<text x="25.00" y="361.90" font-size="5.5" textLength="19.50" lengthAdjust="spacingAndGlyphs">- DMSO</text>
<line x1="57.50" y1="340.00" x2="61.50" y2="340.00" stroke="#f0a838" stroke-width="0.8"/>
<circle cx="59.50" cy="340.00" r="1.2" fill="#f0a838"/>
<text x="65.00" y="338.10" font-size="5.5" textLength="19.20" lengthAdjust="spacingAndGlyphs">BTK WT</text>
<text x="65.00" y="344.90" font-size="5.5" textLength="23.50" lengthAdjust="spacingAndGlyphs">- Ibrutinib</text>
<line x1="57.50" y1="356.30" x2="61.50" y2="356.30" stroke="#a9d27f" stroke-width="0.8"/>
<circle cx="59.50" cy="356.30" r="1.2" fill="#a9d27f"/>
<text x="65.00" y="355.10" font-size="5.5" textLength="19.20" lengthAdjust="spacingAndGlyphs">BTK WT</text>
<text x="65.00" y="361.90" font-size="5.5" textLength="19.50" lengthAdjust="spacingAndGlyphs">- DMSO</text>
<line x1="97.80" y1="340.00" x2="101.80" y2="340.00" stroke="#24467a" stroke-width="0.8"/>
<circle cx="99.80" cy="340.00" r="1.2" fill="#24467a"/>
<text x="105.50" y="338.10" font-size="5.5" textLength="26.40" lengthAdjust="spacingAndGlyphs">BTK C481S</text>
<text x="105.50" y="344.90" font-size="5.5" textLength="23.50" lengthAdjust="spacingAndGlyphs">- Ibrutinib</text>
<line x1="97.80" y1="356.30" x2="101.80" y2="356.30" stroke="#72b6de" stroke-width="0.8"/>
<circle cx="99.80" cy="356.30" r="1.2" fill="#72b6de"/>
<text x="105.50" y="355.10" font-size="5.5" textLength="26.40" lengthAdjust="spacingAndGlyphs">BTK C481S</text>
<text x="105.50" y="361.90" font-size="5.5" textLength="19.50" lengthAdjust="spacingAndGlyphs">- DMSO</text>
<polyline points="175.5,269.1 176.6,269.1 177.8,269.1 178.9,269.1 180.1,269.1 181.3,269.1 182.4,269.1 183.6,269.1 184.7,269.1 185.9,269.1 187.1,269.1 188.2,269.1 189.4,269.1 190.6,269.1 191.7,269.1 192.9,269.1 194.0,269.1 195.2,269.1 196.4,269.1 197.5,269.1 198.7,269.1 199.9,269.1 201.0,269.1 202.2,269.1 203.3,269.1 204.5,269.1 205.7,269.1 206.8,269.1 208.0,269.1 209.1,269.1 210.3,269.1 211.5,269.1 212.6,269.1 213.8,269.1 215.0,269.1 216.1,269.1 217.3,269.1 218.4,269.1 219.6,269.1 220.8,269.1 221.9,269.1 223.1,269.1 224.3,269.1 225.4,269.1 226.6,269.1" fill="none" stroke="#72b6de" stroke-width="0.95"/>
<path d="M175.5 270.1V268.1M174.3 270.1h2.4M174.3 268.1h2.4M181.8 270.1V268.1M180.6 270.1h2.4M180.6 268.1h2.4M188.2 270.1V268.1M187.0 270.1h2.4M187.0 268.1h2.4M194.6 270.1V268.1M193.4 270.1h2.4M193.4 268.1h2.4M201.0 270.1V268.1M199.8 270.1h2.4M199.8 268.1h2.4M207.4 270.1V268.1M206.2 270.1h2.4M206.2 268.1h2.4M213.8 270.1V268.1M212.6 270.1h2.4M212.6 268.1h2.4M220.2 270.1V268.1M219.0 270.1h2.4M219.0 268.1h2.4M226.6 270.1V268.1M225.4 270.1h2.4M225.4 268.1h2.4" stroke="#72b6de" stroke-width="0.7" fill="none"/>
<path d="M174.3 269.1a1.15 1.15 0 1 0 2.3 0a1.15 1.15 0 1 0 -2.3 0M180.7 269.1a1.15 1.15 0 1 0 2.3 0a1.15 1.15 0 1 0 -2.3 0M187.1 269.1a1.15 1.15 0 1 0 2.3 0a1.15 1.15 0 1 0 -2.3 0M193.5 269.1a1.15 1.15 0 1 0 2.3 0a1.15 1.15 0 1 0 -2.3 0M199.9 269.1a1.15 1.15 0 1 0 2.3 0a1.15 1.15 0 1 0 -2.3 0M206.3 269.1a1.15 1.15 0 1 0 2.3 0a1.15 1.15 0 1 0 -2.3 0M212.6 269.1a1.15 1.15 0 1 0 2.3 0a1.15 1.15 0 1 0 -2.3 0M219.0 269.1a1.15 1.15 0 1 0 2.3 0a1.15 1.15 0 1 0 -2.3 0M225.4 269.1a1.15 1.15 0 1 0 2.3 0a1.15 1.15 0 1 0 -2.3 0" fill="#72b6de"/>
<polyline points="175.5,269.4 176.6,269.4 177.8,269.4 178.9,269.4 180.1,269.4 181.3,269.4 182.4,269.4 183.6,269.4 184.7,269.4 185.9,269.4 187.1,269.4 188.2,269.4 189.4,269.4 190.6,269.4 191.7,269.4 192.9,269.4 194.0,269.4 195.2,269.4 196.4,269.4 197.5,269.4 198.7,269.4 199.9,269.4 201.0,269.4 202.2,269.4 203.3,269.4 204.5,269.4 205.7,269.4 206.8,269.4 208.0,269.4 209.1,269.4 210.3,269.4 211.5,269.4 212.6,269.4 213.8,269.4 215.0,269.4 216.1,269.4 217.3,269.4 218.4,269.4 219.6,269.4 220.8,269.4 221.9,269.4 223.1,269.4 224.3,269.4 225.4,269.4 226.6,269.4" fill="none" stroke="#a9d27f" stroke-width="0.95"/>
<path d="M175.5 270.4V268.4M174.3 270.4h2.4M174.3 268.4h2.4M181.8 270.4V268.4M180.6 270.4h2.4M180.6 268.4h2.4M188.2 270.4V268.4M187.0 270.4h2.4M187.0 268.4h2.4M194.6 270.4V268.4M193.4 270.4h2.4M193.4 268.4h2.4M201.0 270.4V268.4M199.8 270.4h2.4M199.8 268.4h2.4M207.4 270.4V268.4M206.2 270.4h2.4M206.2 268.4h2.4M213.8 270.4V268.4M212.6 270.4h2.4M212.6 268.4h2.4M220.2 270.4V268.4M219.0 270.4h2.4M219.0 268.4h2.4M226.6 270.4V268.4M225.4 270.4h2.4M225.4 268.4h2.4" stroke="#a9d27f" stroke-width="0.7" fill="none"/>
<path d="M174.3 269.4a1.15 1.15 0 1 0 2.3 0a1.15 1.15 0 1 0 -2.3 0M180.7 269.4a1.15 1.15 0 1 0 2.3 0a1.15 1.15 0 1 0 -2.3 0M187.1 269.4a1.15 1.15 0 1 0 2.3 0a1.15 1.15 0 1 0 -2.3 0M193.5 269.4a1.15 1.15 0 1 0 2.3 0a1.15 1.15 0 1 0 -2.3 0M199.9 269.4a1.15 1.15 0 1 0 2.3 0a1.15 1.15 0 1 0 -2.3 0M206.3 269.4a1.15 1.15 0 1 0 2.3 0a1.15 1.15 0 1 0 -2.3 0M212.6 269.4a1.15 1.15 0 1 0 2.3 0a1.15 1.15 0 1 0 -2.3 0M219.0 269.4a1.15 1.15 0 1 0 2.3 0a1.15 1.15 0 1 0 -2.3 0M225.4 269.4a1.15 1.15 0 1 0 2.3 0a1.15 1.15 0 1 0 -2.3 0" fill="#a9d27f"/>
<polyline points="175.5,269.7 176.6,269.7 177.8,269.7 178.9,269.7 180.1,269.7 181.3,269.7 182.4,269.7 183.6,269.7 184.7,269.7 185.9,269.7 187.1,269.7 188.2,269.7 189.4,269.7 190.6,269.7 191.7,269.7 192.9,269.7 194.0,269.7 195.2,269.7 196.4,269.7 197.5,269.7 198.7,269.7 199.9,269.7 201.0,269.7 202.2,269.7 203.3,269.7 204.5,269.7 205.7,269.7 206.8,269.7 208.0,269.7 209.1,269.7 210.3,269.7 211.5,269.7 212.6,269.7 213.8,269.7 215.0,269.7 216.1,269.7 217.3,269.7 218.4,269.7 219.6,269.7 220.8,269.7 221.9,269.7 223.1,269.7 224.3,269.7 225.4,269.7 226.6,269.7" fill="none" stroke="#4f9a45" stroke-width="0.95"/>
<path d="M175.5 271.0V268.4M174.3 271.0h2.4M174.3 268.4h2.4M181.8 271.0V268.4M180.6 271.0h2.4M180.6 268.4h2.4M188.2 271.0V268.4M187.0 271.0h2.4M187.0 268.4h2.4M194.6 271.0V268.4M193.4 271.0h2.4M193.4 268.4h2.4M201.0 271.0V268.4M199.8 271.0h2.4M199.8 268.4h2.4M207.4 271.0V268.4M206.2 271.0h2.4M206.2 268.4h2.4M213.8 271.0V268.4M212.6 271.0h2.4M212.6 268.4h2.4M220.2 271.4V268.1M219.0 271.4h2.4M219.0 268.1h2.4M226.6 271.7V267.8M225.4 271.7h2.4M225.4 267.8h2.4" stroke="#4f9a45" stroke-width="0.7" fill="none"/>
<path d="M174.3 269.7a1.15 1.15 0 1 0 2.3 0a1.15 1.15 0 1 0 -2.3 0M180.7 269.7a1.15 1.15 0 1 0 2.3 0a1.15 1.15 0 1 0 -2.3 0M187.1 269.7a1.15 1.15 0 1 0 2.3 0a1.15 1.15 0 1 0 -2.3 0M193.5 269.7a1.15 1.15 0 1 0 2.3 0a1.15 1.15 0 1 0 -2.3 0M199.9 269.7a1.15 1.15 0 1 0 2.3 0a1.15 1.15 0 1 0 -2.3 0M206.3 269.7a1.15 1.15 0 1 0 2.3 0a1.15 1.15 0 1 0 -2.3 0M212.6 269.7a1.15 1.15 0 1 0 2.3 0a1.15 1.15 0 1 0 -2.3 0M219.0 269.7a1.15 1.15 0 1 0 2.3 0a1.15 1.15 0 1 0 -2.3 0M225.4 269.7a1.15 1.15 0 1 0 2.3 0a1.15 1.15 0 1 0 -2.3 0" fill="#4f9a45"/>
<polyline points="175.5,268.7 176.6,268.7 177.8,268.7 178.9,268.7 180.1,268.7 181.3,268.7 182.4,268.7 183.6,268.7 184.7,268.7 185.9,268.7 187.1,268.7 188.2,268.7 189.4,268.7 190.6,268.7 191.7,268.7 192.9,268.7 194.0,268.7 195.2,268.7 196.4,268.7 197.5,268.7 198.7,268.7 199.9,268.7 201.0,268.7 202.2,268.7 203.3,268.7 204.5,268.7 205.7,268.7 206.8,268.8 208.0,268.8 209.1,268.8 210.3,268.8 211.5,268.8 212.6,268.8 213.8,268.9 215.0,269.0 216.1,269.3 217.3,269.7 218.4,270.5 219.6,272.0 220.8,274.2 221.9,277.2 223.1,280.5 224.3,283.5 225.4,285.6 226.6,287.0" fill="none" stroke="#24467a" stroke-width="0.95"/>
<path d="M175.5 270.4V267.1M174.3 270.4h2.4M174.3 267.1h2.4M181.8 270.7V266.8M180.6 270.7h2.4M180.6 266.8h2.4M188.2 272.3V265.2M187.0 272.3h2.4M187.0 265.2h2.4M194.6 271.4V266.2M193.4 271.4h2.4M193.4 266.2h2.4M201.0 270.7V266.8M199.8 270.7h2.4M199.8 266.8h2.4M207.4 270.7V266.8M206.2 270.7h2.4M206.2 266.8h2.4M213.8 271.4V266.2M212.6 271.4h2.4M212.6 266.2h2.4M220.2 274.3V271.7M219.0 274.3h2.4M219.0 271.7h2.4M226.6 288.3V285.7M225.4 288.3h2.4M225.4 285.7h2.4" stroke="#24467a" stroke-width="0.7" fill="none"/>
<path d="M174.3 268.8a1.15 1.15 0 1 0 2.3 0a1.15 1.15 0 1 0 -2.3 0M180.7 268.8a1.15 1.15 0 1 0 2.3 0a1.15 1.15 0 1 0 -2.3 0M187.1 268.8a1.15 1.15 0 1 0 2.3 0a1.15 1.15 0 1 0 -2.3 0M193.5 268.8a1.15 1.15 0 1 0 2.3 0a1.15 1.15 0 1 0 -2.3 0M199.9 268.8a1.15 1.15 0 1 0 2.3 0a1.15 1.15 0 1 0 -2.3 0M206.3 268.8a1.15 1.15 0 1 0 2.3 0a1.15 1.15 0 1 0 -2.3 0M212.6 268.8a1.15 1.15 0 1 0 2.3 0a1.15 1.15 0 1 0 -2.3 0M219.0 273.0a1.15 1.15 0 1 0 2.3 0a1.15 1.15 0 1 0 -2.3 0M225.4 287.0a1.15 1.15 0 1 0 2.3 0a1.15 1.15 0 1 0 -2.3 0" fill="#24467a"/>
<polyline points="175.5,272.8 176.6,272.9 177.8,272.9 178.9,272.9 180.1,273.0 181.3,273.0 182.4,273.1 183.6,273.1 184.7,273.2 185.9,273.3 187.1,273.4 188.2,273.5 189.4,273.7 190.6,273.8 191.7,274.0 192.9,274.2 194.0,274.4 195.2,274.7 196.4,275.0 197.5,275.3 198.7,275.7 199.9,276.0 201.0,276.5 202.2,276.9 203.3,277.4 204.5,277.9 205.7,278.4 206.8,279.0 208.0,279.6 209.1,280.1 210.3,280.7 211.5,281.3 212.6,281.8 213.8,282.4 215.0,282.9 216.1,283.4 217.3,283.8 218.4,284.2 219.6,284.6 220.8,285.0 221.9,285.3 223.1,285.6 224.3,285.8 225.4,286.1 226.6,286.3" fill="none" stroke="#f0a838" stroke-width="0.95"/>
<path d="M175.5 274.3V271.7M174.3 274.3h2.4M174.3 271.7h2.4M181.8 274.3V271.7M180.6 274.3h2.4M180.6 271.7h2.4M188.2 274.6V272.0M187.0 274.6h2.4M187.0 272.0h2.4M194.6 275.9V273.3M193.4 275.9h2.4M193.4 273.3h2.4M201.0 277.9V275.3M199.8 277.9h2.4M199.8 275.3h2.4M207.4 280.5V277.9M206.2 280.5h2.4M206.2 277.9h2.4M213.8 284.1V280.8M212.6 284.1h2.4M212.6 280.8h2.4M220.2 286.3V283.1M219.0 286.3h2.4M219.0 283.1h2.4M226.6 288.0V284.7M225.4 288.0h2.4M225.4 284.7h2.4" stroke="#f0a838" stroke-width="0.7" fill="none"/>
<path d="M174.3 273.0a1.15 1.15 0 1 0 2.3 0a1.15 1.15 0 1 0 -2.3 0M180.7 273.0a1.15 1.15 0 1 0 2.3 0a1.15 1.15 0 1 0 -2.3 0M187.1 273.3a1.15 1.15 0 1 0 2.3 0a1.15 1.15 0 1 0 -2.3 0M193.5 274.6a1.15 1.15 0 1 0 2.3 0a1.15 1.15 0 1 0 -2.3 0M199.9 276.6a1.15 1.15 0 1 0 2.3 0a1.15 1.15 0 1 0 -2.3 0M206.3 279.2a1.15 1.15 0 1 0 2.3 0a1.15 1.15 0 1 0 -2.3 0M212.6 282.4a1.15 1.15 0 1 0 2.3 0a1.15 1.15 0 1 0 -2.3 0M219.0 284.7a1.15 1.15 0 1 0 2.3 0a1.15 1.15 0 1 0 -2.3 0M225.4 286.3a1.15 1.15 0 1 0 2.3 0a1.15 1.15 0 1 0 -2.3 0" fill="#f0a838"/>
<polyline points="175.5,273.3 176.6,273.3 177.8,273.4 178.9,273.5 180.1,273.5 181.3,273.6 182.4,273.7 183.6,273.8 184.7,273.9 185.9,274.0 187.1,274.2 188.2,274.3 189.4,274.5 190.6,274.7 191.7,274.9 192.9,275.2 194.0,275.5 195.2,275.8 196.4,276.1 197.5,276.4 198.7,276.8 199.9,277.3 201.0,277.7 202.2,278.3 203.3,278.8 204.5,279.4 205.7,280.0 206.8,280.6 208.0,281.3 209.1,282.0 210.3,282.8 211.5,283.5 212.6,284.3 213.8,285.0 215.0,285.8 216.1,286.5 217.3,287.3 218.4,288.0 219.6,288.7 220.8,289.4 221.9,290.1 223.1,290.7 224.3,291.3 225.4,291.8 226.6,292.3" fill="none" stroke="#a01b3a" stroke-width="0.95"/>
<path d="M175.5 275.6V271.7M174.3 275.6h2.4M174.3 271.7h2.4M181.8 275.6V271.7M180.6 275.6h2.4M180.6 271.7h2.4M188.2 276.6V271.4M187.0 276.6h2.4M187.0 271.4h2.4M194.6 277.9V272.7M193.4 277.9h2.4M193.4 272.7h2.4M201.0 280.2V276.2M199.8 280.2h2.4M199.8 276.2h2.4M207.4 282.4V279.2M206.2 282.4h2.4M206.2 279.2h2.4M213.8 288.0V282.8M212.6 288.0h2.4M212.6 282.8h2.4M220.2 291.2V286.0M219.0 291.2h2.4M219.0 286.0h2.4M226.6 294.5V290.6M225.4 294.5h2.4M225.4 290.6h2.4" stroke="#a01b3a" stroke-width="0.7" fill="none"/>
<path d="M174.3 273.6a1.15 1.15 0 1 0 2.3 0a1.15 1.15 0 1 0 -2.3 0M180.7 273.6a1.15 1.15 0 1 0 2.3 0a1.15 1.15 0 1 0 -2.3 0M187.1 274.0a1.15 1.15 0 1 0 2.3 0a1.15 1.15 0 1 0 -2.3 0M193.5 275.3a1.15 1.15 0 1 0 2.3 0a1.15 1.15 0 1 0 -2.3 0M199.9 278.2a1.15 1.15 0 1 0 2.3 0a1.15 1.15 0 1 0 -2.3 0M206.3 280.8a1.15 1.15 0 1 0 2.3 0a1.15 1.15 0 1 0 -2.3 0M212.6 285.4a1.15 1.15 0 1 0 2.3 0a1.15 1.15 0 1 0 -2.3 0M219.0 288.6a1.15 1.15 0 1 0 2.3 0a1.15 1.15 0 1 0 -2.3 0M225.4 292.5a1.15 1.15 0 1 0 2.3 0a1.15 1.15 0 1 0 -2.3 0" fill="#a01b3a"/>
<line x1="165.30" y1="252.00" x2="165.30" y2="302.00" stroke="#111" stroke-width="1.3"/>
<line x1="164.60" y1="301.30" x2="237.50" y2="301.30" stroke="#111" stroke-width="1.3"/>
<line x1="162.40" y1="301.30" x2="165.00" y2="301.30" stroke="#111" stroke-width="1.1"/>
<text x="159.40" y="303.50" font-size="6.3" text-anchor="end">0</text>
<line x1="162.40" y1="285.03" x2="165.00" y2="285.03" stroke="#111" stroke-width="1.1"/>
<text x="159.40" y="287.23" font-size="6.3" text-anchor="end">50</text>
<line x1="162.40" y1="268.77" x2="165.00" y2="268.77" stroke="#111" stroke-width="1.1"/>
<text x="159.40" y="270.97" font-size="6.3" text-anchor="end">100</text>
<line x1="162.40" y1="252.50" x2="165.00" y2="252.50" stroke="#111" stroke-width="1.1"/>
<text x="159.40" y="254.70" font-size="6.3" text-anchor="end">150</text>
<line x1="184.60" y1="301.30" x2="184.60" y2="304.00" stroke="#111" stroke-width="1.1"/>
<text x="184.00" y="312.70" font-size="6.3" text-anchor="middle">-8</text>
<line x1="210.16" y1="301.30" x2="210.16" y2="304.00" stroke="#111" stroke-width="1.1"/>
<text x="209.56" y="312.70" font-size="6.3" text-anchor="middle">-6</text>
<line x1="235.72" y1="301.30" x2="235.72" y2="304.00" stroke="#111" stroke-width="1.1"/>
<text x="235.12" y="312.70" font-size="6.3" text-anchor="middle">-4</text>
<text x="168.50" y="244.50" font-size="8.6" class="t" textLength="67.30" lengthAdjust="spacingAndGlyphs">MWCL-1 washout</text>
<text x="141.10" y="275.20" font-size="7.2" text-anchor="middle" textLength="57.00" lengthAdjust="spacingAndGlyphs" transform="rotate(-90 141.10 275.20)">RLUs (DMSO norm)</text>
<text x="176.80" y="325.30" font-size="8.2" textLength="50.80" lengthAdjust="spacingAndGlyphs">Log10 (dose) (M)</text>
<line x1="144.70" y1="340.00" x2="148.70" y2="340.00" stroke="#a01b3a" stroke-width="0.8"/>
<circle cx="146.70" cy="340.00" r="1.2" fill="#a01b3a"/>
<text x="152.00" y="338.10" font-size="5.5" textLength="15.60" lengthAdjust="spacingAndGlyphs">Vector</text>
<text x="152.00" y="344.90" font-size="5.5" textLength="23.50" lengthAdjust="spacingAndGlyphs">- Ibrutinib</text>
<line x1="144.70" y1="356.30" x2="148.70" y2="356.30" stroke="#4f9a45" stroke-width="0.8"/>
<circle cx="146.70" cy="356.30" r="1.2" fill="#4f9a45"/>
<text x="152.00" y="355.10" font-size="5.5" textLength="15.60" lengthAdjust="spacingAndGlyphs">Vector</text>
<text x="152.00" y="361.90" font-size="5.5" textLength="19.50" lengthAdjust="spacingAndGlyphs">- DMSO</text>
<line x1="184.50" y1="340.00" x2="188.50" y2="340.00" stroke="#f0a838" stroke-width="0.8"/>
<circle cx="186.50" cy="340.00" r="1.2" fill="#f0a838"/>
<text x="192.00" y="338.10" font-size="5.5" textLength="19.20" lengthAdjust="spacingAndGlyphs">BTK WT</text>
<text x="192.00" y="344.90" font-size="5.5" textLength="23.50" lengthAdjust="spacingAndGlyphs">- Ibrutinib</text>
<line x1="184.50" y1="356.30" x2="188.50" y2="356.30" stroke="#a9d27f" stroke-width="0.8"/>
<circle cx="186.50" cy="356.30" r="1.2" fill="#a9d27f"/>
<text x="192.00" y="355.10" font-size="5.5" textLength="19.20" lengthAdjust="spacingAndGlyphs">BTK WT</text>
<text x="192.00" y="361.90" font-size="5.5" textLength="19.50" lengthAdjust="spacingAndGlyphs">- DMSO</text>
<line x1="224.80" y1="340.00" x2="228.80" y2="340.00" stroke="#24467a" stroke-width="0.8"/>
<circle cx="226.80" cy="340.00" r="1.2" fill="#24467a"/>
<text x="232.50" y="338.10" font-size="5.5" textLength="26.40" lengthAdjust="spacingAndGlyphs">BTK C481S</text>
<text x="232.50" y="344.90" font-size="5.5" textLength="23.50" lengthAdjust="spacingAndGlyphs">- Ibrutinib</text>
<line x1="224.80" y1="356.30" x2="228.80" y2="356.30" stroke="#72b6de" stroke-width="0.8"/>
<circle cx="226.80" cy="356.30" r="1.2" fill="#72b6de"/>
<text x="232.50" y="355.10" font-size="5.5" textLength="26.40" lengthAdjust="spacingAndGlyphs">BTK C481S</text>
<text x="232.50" y="361.90" font-size="5.5" textLength="19.50" lengthAdjust="spacingAndGlyphs">- DMSO</text>
<polyline points="302.3,270.5 303.4,270.5 304.6,270.5 305.7,270.5 306.9,270.4 308.1,270.4 309.2,270.4 310.4,270.4 311.5,270.4 312.7,270.3 313.9,270.3 315.0,270.3 316.2,270.3 317.4,270.3 318.5,270.2 319.7,270.2 320.8,270.2 322.0,270.2 323.2,270.2 324.3,270.1 325.5,270.1 326.7,270.1 327.8,270.1 329.0,270.0 330.1,270.0 331.3,270.0 332.5,270.0 333.6,270.0 334.8,269.9 335.9,269.9 337.1,269.9 338.3,269.9 339.4,269.9 340.6,269.8 341.8,269.8 342.9,269.8 344.1,269.8 345.2,269.8 346.4,269.7 347.6,269.7 348.7,269.7 349.9,269.7 351.1,269.7 352.2,269.6 353.4,269.6" fill="none" stroke="#72b6de" stroke-width="0.95"/>
<path d="M302.3 271.0V269.1M301.1 271.0h2.4M301.1 269.1h2.4M308.6 273.0V271.0M307.4 273.0h2.4M307.4 271.0h2.4M315.0 270.7V268.8M313.8 270.7h2.4M313.8 268.8h2.4M321.4 270.7V268.8M320.2 270.7h2.4M320.2 268.8h2.4M327.8 270.7V268.8M326.6 270.7h2.4M326.6 268.8h2.4M334.2 270.7V268.8M333.0 270.7h2.4M333.0 268.8h2.4M340.6 270.7V268.8M339.4 270.7h2.4M339.4 268.8h2.4M347.0 270.7V268.8M345.8 270.7h2.4M345.8 268.8h2.4M353.4 271.0V269.1M352.2 271.0h2.4M352.2 269.1h2.4" stroke="#72b6de" stroke-width="0.7" fill="none"/>
<path d="M301.1 270.1a1.15 1.15 0 1 0 2.3 0a1.15 1.15 0 1 0 -2.3 0M307.5 272.0a1.15 1.15 0 1 0 2.3 0a1.15 1.15 0 1 0 -2.3 0M313.9 269.7a1.15 1.15 0 1 0 2.3 0a1.15 1.15 0 1 0 -2.3 0M320.3 269.7a1.15 1.15 0 1 0 2.3 0a1.15 1.15 0 1 0 -2.3 0M326.7 269.7a1.15 1.15 0 1 0 2.3 0a1.15 1.15 0 1 0 -2.3 0M333.1 269.7a1.15 1.15 0 1 0 2.3 0a1.15 1.15 0 1 0 -2.3 0M339.4 269.7a1.15 1.15 0 1 0 2.3 0a1.15 1.15 0 1 0 -2.3 0M345.8 269.7a1.15 1.15 0 1 0 2.3 0a1.15 1.15 0 1 0 -2.3 0M352.2 270.1a1.15 1.15 0 1 0 2.3 0a1.15 1.15 0 1 0 -2.3 0" fill="#72b6de"/>
<polyline points="302.3,268.2 303.4,268.3 304.6,268.3 305.7,268.3 306.9,268.4 308.1,268.4 309.2,268.4 310.4,268.5 311.5,268.5 312.7,268.5 313.9,268.6 315.0,268.6 316.2,268.6 317.4,268.7 318.5,268.7 319.7,268.7 320.8,268.8 322.0,268.8 323.2,268.8 324.3,268.9 325.5,268.9 326.7,268.9 327.8,269.0 329.0,269.0 330.1,269.1 331.3,269.1 332.5,269.1 333.6,269.2 334.8,269.2 335.9,269.2 337.1,269.3 338.3,269.3 339.4,269.3 340.6,269.4 341.8,269.4 342.9,269.4 344.1,269.5 345.2,269.5 346.4,269.5 347.6,269.6 348.7,269.6 349.9,269.6 351.1,269.7 352.2,269.7 353.4,269.7" fill="none" stroke="#4f9a45" stroke-width="0.95"/>
<path d="M302.3 269.4V267.5M301.1 269.4h2.4M301.1 267.5h2.4M308.6 269.4V267.5M307.4 269.4h2.4M307.4 267.5h2.4M315.0 269.4V267.5M313.8 269.4h2.4M313.8 267.5h2.4M321.4 269.7V267.8M320.2 269.7h2.4M320.2 267.8h2.4M327.8 269.7V267.8M326.6 269.7h2.4M326.6 267.8h2.4M334.2 270.1V268.1M333.0 270.1h2.4M333.0 268.1h2.4M340.6 270.4V268.4M339.4 270.4h2.4M339.4 268.4h2.4M347.0 271.0V268.4M345.8 271.0h2.4M345.8 268.4h2.4M353.4 271.0V268.4M352.2 271.0h2.4M352.2 268.4h2.4" stroke="#4f9a45" stroke-width="0.7" fill="none"/>
<path d="M301.1 268.4a1.15 1.15 0 1 0 2.3 0a1.15 1.15 0 1 0 -2.3 0M307.5 268.4a1.15 1.15 0 1 0 2.3 0a1.15 1.15 0 1 0 -2.3 0M313.9 268.4a1.15 1.15 0 1 0 2.3 0a1.15 1.15 0 1 0 -2.3 0M320.3 268.8a1.15 1.15 0 1 0 2.3 0a1.15 1.15 0 1 0 -2.3 0M326.7 268.8a1.15 1.15 0 1 0 2.3 0a1.15 1.15 0 1 0 -2.3 0M333.1 269.1a1.15 1.15 0 1 0 2.3 0a1.15 1.15 0 1 0 -2.3 0M339.4 269.4a1.15 1.15 0 1 0 2.3 0a1.15 1.15 0 1 0 -2.3 0M345.8 269.7a1.15 1.15 0 1 0 2.3 0a1.15 1.15 0 1 0 -2.3 0M352.2 269.7a1.15 1.15 0 1 0 2.3 0a1.15 1.15 0 1 0 -2.3 0" fill="#4f9a45"/>
<polyline points="302.3,268.1 303.4,268.1 304.6,268.1 305.7,268.2 306.9,268.2 308.1,268.2 309.2,268.3 310.4,268.3 311.5,268.3 312.7,268.4 313.9,268.4 315.0,268.4 316.2,268.5 317.4,268.5 318.5,268.5 319.7,268.6 320.8,268.6 322.0,268.6 323.2,268.7 324.3,268.7 325.5,268.8 326.7,268.8 327.8,268.8 329.0,268.9 330.1,268.9 331.3,268.9 332.5,269.0 333.6,269.0 334.8,269.0 335.9,269.1 337.1,269.1 338.3,269.1 339.4,269.2 340.6,269.2 341.8,269.2 342.9,269.3 344.1,269.3 345.2,269.3 346.4,269.4 347.6,269.4 348.7,269.4 349.9,269.5 351.1,269.5 352.2,269.5 353.4,269.6" fill="none" stroke="#a9d27f" stroke-width="0.95"/>
<path d="M302.3 269.3V267.3M301.1 269.3h2.4M301.1 267.3h2.4M308.6 269.3V267.3M307.4 269.3h2.4M307.4 267.3h2.4M315.0 269.3V267.3M313.8 269.3h2.4M313.8 267.3h2.4M321.4 269.6V267.6M320.2 269.6h2.4M320.2 267.6h2.4M327.8 269.6V267.6M326.6 269.6h2.4M326.6 267.6h2.4M334.2 269.9V268.0M333.0 269.9h2.4M333.0 268.0h2.4M340.6 270.2V268.3M339.4 270.2h2.4M339.4 268.3h2.4M347.0 270.6V268.6M345.8 270.6h2.4M345.8 268.6h2.4M353.4 270.6V268.6M352.2 270.6h2.4M352.2 268.6h2.4" stroke="#a9d27f" stroke-width="0.7" fill="none"/>
<path d="M301.1 268.3a1.15 1.15 0 1 0 2.3 0a1.15 1.15 0 1 0 -2.3 0M307.5 268.3a1.15 1.15 0 1 0 2.3 0a1.15 1.15 0 1 0 -2.3 0M313.9 268.3a1.15 1.15 0 1 0 2.3 0a1.15 1.15 0 1 0 -2.3 0M320.3 268.6a1.15 1.15 0 1 0 2.3 0a1.15 1.15 0 1 0 -2.3 0M326.7 268.6a1.15 1.15 0 1 0 2.3 0a1.15 1.15 0 1 0 -2.3 0M333.1 268.9a1.15 1.15 0 1 0 2.3 0a1.15 1.15 0 1 0 -2.3 0M339.4 269.3a1.15 1.15 0 1 0 2.3 0a1.15 1.15 0 1 0 -2.3 0M345.8 269.6a1.15 1.15 0 1 0 2.3 0a1.15 1.15 0 1 0 -2.3 0M352.2 269.6a1.15 1.15 0 1 0 2.3 0a1.15 1.15 0 1 0 -2.3 0" fill="#a9d27f"/>
<polyline points="302.3,269.7 303.4,269.7 304.6,269.8 305.7,269.8 306.9,269.9 308.1,269.9 309.2,270.0 310.4,270.1 311.5,270.1 312.7,270.2 313.9,270.3 315.0,270.4 316.2,270.5 317.4,270.6 318.5,270.7 319.7,270.8 320.8,270.9 322.0,271.0 323.2,271.1 324.3,271.3 325.5,271.4 326.7,271.6 327.8,271.7 329.0,271.9 330.1,272.1 331.3,272.3 332.5,272.5 333.6,272.7 334.8,273.0 335.9,273.2 337.1,273.5 338.3,273.7 339.4,274.0 340.6,274.3 341.8,274.7 342.9,275.0 344.1,275.4 345.2,275.7 346.4,276.1 347.6,276.5 348.7,276.9 349.9,277.4 351.1,277.9 352.2,278.3 353.4,278.8" fill="none" stroke="#24467a" stroke-width="0.95"/>
<path d="M302.3 270.4V269.1M301.1 270.4h2.4M301.1 269.1h2.4M308.6 270.4V269.1M307.4 270.4h2.4M307.4 269.1h2.4M315.0 270.7V269.4M313.8 270.7h2.4M313.8 269.4h2.4M321.4 272.0V270.7M320.2 272.0h2.4M320.2 270.7h2.4M327.8 272.7V271.4M326.6 272.7h2.4M326.6 271.4h2.4M334.2 273.6V272.3M333.0 273.6h2.4M333.0 272.3h2.4M340.6 274.3V273.0M339.4 274.3h2.4M339.4 273.0h2.4M347.0 277.2V275.9M345.8 277.2h2.4M345.8 275.9h2.4M353.4 279.5V278.2M352.2 279.5h2.4M352.2 278.2h2.4" stroke="#24467a" stroke-width="0.7" fill="none"/>
<path d="M301.1 269.7a1.15 1.15 0 1 0 2.3 0a1.15 1.15 0 1 0 -2.3 0M307.5 269.7a1.15 1.15 0 1 0 2.3 0a1.15 1.15 0 1 0 -2.3 0M313.9 270.1a1.15 1.15 0 1 0 2.3 0a1.15 1.15 0 1 0 -2.3 0M320.3 271.4a1.15 1.15 0 1 0 2.3 0a1.15 1.15 0 1 0 -2.3 0M326.7 272.0a1.15 1.15 0 1 0 2.3 0a1.15 1.15 0 1 0 -2.3 0M333.1 273.0a1.15 1.15 0 1 0 2.3 0a1.15 1.15 0 1 0 -2.3 0M339.4 273.6a1.15 1.15 0 1 0 2.3 0a1.15 1.15 0 1 0 -2.3 0M345.8 276.6a1.15 1.15 0 1 0 2.3 0a1.15 1.15 0 1 0 -2.3 0M352.2 278.9a1.15 1.15 0 1 0 2.3 0a1.15 1.15 0 1 0 -2.3 0" fill="#24467a"/>
<polyline points="302.3,269.3 303.4,269.3 304.6,269.4 305.7,269.4 306.9,269.5 308.1,269.6 309.2,269.7 310.4,269.9 311.5,270.1 312.7,270.4 313.9,270.8 315.0,271.3 316.2,272.0 317.4,272.9 318.5,274.1 319.7,275.4 320.8,277.1 322.0,279.0 323.2,281.0 324.3,283.2 325.5,285.3 326.7,287.3 327.8,289.1 329.0,290.7 330.1,292.1 331.3,293.2 332.5,294.0 333.6,294.7 334.8,295.2 335.9,295.6 337.1,295.9 338.3,296.1 339.4,296.3 340.6,296.4 341.8,296.5 342.9,296.5 344.1,296.6 345.2,296.6 346.4,296.6 347.6,296.6 348.7,296.7 349.9,296.7 351.1,296.7 352.2,296.7 353.4,296.7" fill="none" stroke="#f0a838" stroke-width="0.95"/>
<path d="M302.3 270.4V269.1M301.1 270.4h2.4M301.1 269.1h2.4M308.6 270.4V269.1M307.4 270.4h2.4M307.4 269.1h2.4M315.0 271.0V269.7M313.8 271.0h2.4M313.8 269.7h2.4M321.4 279.2V277.9M320.2 279.2h2.4M320.2 277.9h2.4M327.8 289.6V288.3M326.6 289.6h2.4M326.6 288.3h2.4M334.2 295.4V294.1M333.0 295.4h2.4M333.0 294.1h2.4M340.6 297.1V295.8M339.4 297.1h2.4M339.4 295.8h2.4M347.0 297.4V296.1M345.8 297.4h2.4M345.8 296.1h2.4M353.4 297.4V296.1M352.2 297.4h2.4M352.2 296.1h2.4" stroke="#f0a838" stroke-width="0.7" fill="none"/>
<path d="M301.1 269.7a1.15 1.15 0 1 0 2.3 0a1.15 1.15 0 1 0 -2.3 0M307.5 269.7a1.15 1.15 0 1 0 2.3 0a1.15 1.15 0 1 0 -2.3 0M313.9 270.4a1.15 1.15 0 1 0 2.3 0a1.15 1.15 0 1 0 -2.3 0M320.3 278.5a1.15 1.15 0 1 0 2.3 0a1.15 1.15 0 1 0 -2.3 0M326.7 288.9a1.15 1.15 0 1 0 2.3 0a1.15 1.15 0 1 0 -2.3 0M333.1 294.8a1.15 1.15 0 1 0 2.3 0a1.15 1.15 0 1 0 -2.3 0M339.4 296.4a1.15 1.15 0 1 0 2.3 0a1.15 1.15 0 1 0 -2.3 0M345.8 296.7a1.15 1.15 0 1 0 2.3 0a1.15 1.15 0 1 0 -2.3 0M352.2 296.7a1.15 1.15 0 1 0 2.3 0a1.15 1.15 0 1 0 -2.3 0" fill="#f0a838"/>
<polyline points="302.3,269.6 303.4,269.6 304.6,269.6 305.7,269.6 306.9,269.6 308.1,269.7 309.2,269.7 310.4,269.7 311.5,269.8 312.7,269.9 313.9,270.1 315.0,270.3 316.2,270.6 317.4,271.1 318.5,271.8 319.7,272.7 320.8,273.9 322.0,275.5 323.2,277.5 324.3,279.8 325.5,282.4 326.7,285.0 327.8,287.5 329.0,289.7 330.1,291.5 331.3,292.9 332.5,294.0 333.6,294.8 334.8,295.4 335.9,295.8 337.1,296.0 338.3,296.2 339.4,296.4 340.6,296.4 341.8,296.5 342.9,296.5 344.1,296.6 345.2,296.6 346.4,296.6 347.6,296.6 348.7,296.6 349.9,296.6 351.1,296.6 352.2,296.6 353.4,296.6" fill="none" stroke="#a01b3a" stroke-width="0.95"/>
<path d="M302.3 270.4V269.1M301.1 270.4h2.4M301.1 269.1h2.4M308.6 270.4V269.1M307.4 270.4h2.4M307.4 269.1h2.4M315.0 270.7V269.4M313.8 270.7h2.4M313.8 269.4h2.4M321.4 275.3V274.0M320.2 275.3h2.4M320.2 274.0h2.4M327.8 288.3V287.0M326.6 288.3h2.4M326.6 287.0h2.4M334.2 295.4V294.1M333.0 295.4h2.4M333.0 294.1h2.4M340.6 297.1V295.8M339.4 297.1h2.4M339.4 295.8h2.4M347.0 297.4V296.1M345.8 297.4h2.4M345.8 296.1h2.4M353.4 297.4V296.1M352.2 297.4h2.4M352.2 296.1h2.4" stroke="#a01b3a" stroke-width="0.7" fill="none"/>
<path d="M301.1 269.7a1.15 1.15 0 1 0 2.3 0a1.15 1.15 0 1 0 -2.3 0M307.5 269.7a1.15 1.15 0 1 0 2.3 0a1.15 1.15 0 1 0 -2.3 0M313.9 270.1a1.15 1.15 0 1 0 2.3 0a1.15 1.15 0 1 0 -2.3 0M320.3 274.6a1.15 1.15 0 1 0 2.3 0a1.15 1.15 0 1 0 -2.3 0M326.7 287.6a1.15 1.15 0 1 0 2.3 0a1.15 1.15 0 1 0 -2.3 0M333.1 294.8a1.15 1.15 0 1 0 2.3 0a1.15 1.15 0 1 0 -2.3 0M339.4 296.4a1.15 1.15 0 1 0 2.3 0a1.15 1.15 0 1 0 -2.3 0M345.8 296.7a1.15 1.15 0 1 0 2.3 0a1.15 1.15 0 1 0 -2.3 0M352.2 296.7a1.15 1.15 0 1 0 2.3 0a1.15 1.15 0 1 0 -2.3 0" fill="#a01b3a"/>
<line x1="292.10" y1="252.00" x2="292.10" y2="302.00" stroke="#111" stroke-width="1.3"/>
<line x1="291.40" y1="301.30" x2="364.30" y2="301.30" stroke="#111" stroke-width="1.3"/>
<line x1="289.20" y1="301.30" x2="291.80" y2="301.30" stroke="#111" stroke-width="1.1"/>
<text x="286.20" y="303.50" font-size="6.3" text-anchor="end">0</text>
<line x1="289.20" y1="285.03" x2="291.80" y2="285.03" stroke="#111" stroke-width="1.1"/>
<text x="286.20" y="287.23" font-size="6.3" text-anchor="end">50</text>
<line x1="289.20" y1="268.77" x2="291.80" y2="268.77" stroke="#111" stroke-width="1.1"/>
<text x="286.20" y="270.97" font-size="6.3" text-anchor="end">100</text>
<line x1="289.20" y1="252.50" x2="291.80" y2="252.50" stroke="#111" stroke-width="1.1"/>
<text x="286.20" y="254.70" font-size="6.3" text-anchor="end">150</text>
<line x1="311.40" y1="301.30" x2="311.40" y2="304.00" stroke="#111" stroke-width="1.1"/>
<text x="310.80" y="312.70" font-size="6.3" text-anchor="middle">-8</text>
<line x1="336.96" y1="301.30" x2="336.96" y2="304.00" stroke="#111" stroke-width="1.1"/>
<text x="336.36" y="312.70" font-size="6.3" text-anchor="middle">-6</text>
<line x1="362.52" y1="301.30" x2="362.52" y2="304.00" stroke="#111" stroke-width="1.1"/>
<text x="361.92" y="312.70" font-size="6.3" text-anchor="middle">-4</text>
<text x="299.80" y="244.50" font-size="8.6" class="t" textLength="57.90" lengthAdjust="spacingAndGlyphs">TMD8 washout</text>
<text x="267.90" y="275.20" font-size="7.2" text-anchor="middle" textLength="57.00" lengthAdjust="spacingAndGlyphs" transform="rotate(-90 267.90 275.20)">RLUs (DMSO norm)</text>
<text x="303.60" y="325.30" font-size="8.2" textLength="50.80" lengthAdjust="spacingAndGlyphs">Log10 (dose) (M)</text>
<line x1="271.50" y1="340.00" x2="275.50" y2="340.00" stroke="#a01b3a" stroke-width="0.8"/>
<circle cx="273.50" cy="340.00" r="1.2" fill="#a01b3a"/>
<text x="278.80" y="338.10" font-size="5.5" textLength="15.60" lengthAdjust="spacingAndGlyphs">Vector</text>
<text x="278.80" y="344.90" font-size="5.5" textLength="23.50" lengthAdjust="spacingAndGlyphs">- Ibrutinib</text>
<line x1="271.50" y1="356.30" x2="275.50" y2="356.30" stroke="#4f9a45" stroke-width="0.8"/>
<circle cx="273.50" cy="356.30" r="1.2" fill="#4f9a45"/>
<text x="278.80" y="355.10" font-size="5.5" textLength="15.60" lengthAdjust="spacingAndGlyphs">Vector</text>
<text x="278.80" y="361.90" font-size="5.5" textLength="19.50" lengthAdjust="spacingAndGlyphs">- DMSO</text>
<line x1="311.30" y1="340.00" x2="315.30" y2="340.00" stroke="#f0a838" stroke-width="0.8"/>
<circle cx="313.30" cy="340.00" r="1.2" fill="#f0a838"/>
<text x="318.80" y="338.10" font-size="5.5" textLength="19.20" lengthAdjust="spacingAndGlyphs">BTK WT</text>
<text x="318.80" y="344.90" font-size="5.5" textLength="23.50" lengthAdjust="spacingAndGlyphs">- Ibrutinib</text>
<line x1="311.30" y1="356.30" x2="315.30" y2="356.30" stroke="#a9d27f" stroke-width="0.8"/>
<circle cx="313.30" cy="356.30" r="1.2" fill="#a9d27f"/>
<text x="318.80" y="355.10" font-size="5.5" textLength="19.20" lengthAdjust="spacingAndGlyphs">BTK WT</text>
<text x="318.80" y="361.90" font-size="5.5" textLength="19.50" lengthAdjust="spacingAndGlyphs">- DMSO</text>
<line x1="351.60" y1="340.00" x2="355.60" y2="340.00" stroke="#24467a" stroke-width="0.8"/>
<circle cx="353.60" cy="340.00" r="1.2" fill="#24467a"/>
<text x="359.30" y="338.10" font-size="5.5" textLength="26.40" lengthAdjust="spacingAndGlyphs">BTK C481S</text>
<text x="359.30" y="344.90" font-size="5.5" textLength="23.50" lengthAdjust="spacingAndGlyphs">- Ibrutinib</text>
<line x1="351.60" y1="356.30" x2="355.60" y2="356.30" stroke="#72b6de" stroke-width="0.8"/>
<circle cx="353.60" cy="356.30" r="1.2" fill="#72b6de"/>
<text x="359.30" y="355.10" font-size="5.5" textLength="26.40" lengthAdjust="spacingAndGlyphs">BTK C481S</text>
<text x="359.30" y="361.90" font-size="5.5" textLength="19.50" lengthAdjust="spacingAndGlyphs">- DMSO</text>
<polyline points="429.5,269.1 430.6,269.1 431.8,269.1 432.9,269.1 434.1,269.1 435.3,269.1 436.4,269.1 437.6,269.1 438.7,269.1 439.9,269.1 441.1,269.1 442.2,269.1 443.4,269.1 444.6,269.1 445.7,269.1 446.9,269.1 448.0,269.1 449.2,269.1 450.4,269.1 451.5,269.1 452.7,269.1 453.9,269.1 455.0,269.1 456.2,269.1 457.3,269.1 458.5,269.1 459.7,269.1 460.8,269.1 462.0,269.1 463.1,269.1 464.3,269.1 465.5,269.1 466.6,269.1 467.8,269.1 469.0,269.1 470.1,269.1 471.3,269.1 472.4,269.1 473.6,269.1 474.8,269.1 475.9,269.1 477.1,269.1 478.3,269.1 479.4,269.1 480.6,269.1" fill="none" stroke="#72b6de" stroke-width="0.95"/>
<path d="M429.5 270.1V268.1M428.3 270.1h2.4M428.3 268.1h2.4M435.8 270.1V268.1M434.6 270.1h2.4M434.6 268.1h2.4M442.2 270.1V268.1M441.0 270.1h2.4M441.0 268.1h2.4M448.6 270.1V268.1M447.4 270.1h2.4M447.4 268.1h2.4M455.0 270.1V268.1M453.8 270.1h2.4M453.8 268.1h2.4M461.4 270.1V268.1M460.2 270.1h2.4M460.2 268.1h2.4M467.8 270.1V268.1M466.6 270.1h2.4M466.6 268.1h2.4M474.2 270.1V268.1M473.0 270.1h2.4M473.0 268.1h2.4M480.6 270.1V268.1M479.4 270.1h2.4M479.4 268.1h2.4" stroke="#72b6de" stroke-width="0.7" fill="none"/>
<path d="M428.3 269.1a1.15 1.15 0 1 0 2.3 0a1.15 1.15 0 1 0 -2.3 0M434.7 269.1a1.15 1.15 0 1 0 2.3 0a1.15 1.15 0 1 0 -2.3 0M441.1 269.1a1.15 1.15 0 1 0 2.3 0a1.15 1.15 0 1 0 -2.3 0M447.5 269.1a1.15 1.15 0 1 0 2.3 0a1.15 1.15 0 1 0 -2.3 0M453.9 269.1a1.15 1.15 0 1 0 2.3 0a1.15 1.15 0 1 0 -2.3 0M460.3 269.1a1.15 1.15 0 1 0 2.3 0a1.15 1.15 0 1 0 -2.3 0M466.6 269.1a1.15 1.15 0 1 0 2.3 0a1.15 1.15 0 1 0 -2.3 0M473.0 269.1a1.15 1.15 0 1 0 2.3 0a1.15 1.15 0 1 0 -2.3 0M479.4 269.1a1.15 1.15 0 1 0 2.3 0a1.15 1.15 0 1 0 -2.3 0" fill="#72b6de"/>
<polyline points="429.5,268.8 430.6,268.8 431.8,268.8 432.9,268.8 434.1,268.8 435.3,268.8 436.4,268.8 437.6,268.8 438.7,268.8 439.9,268.8 441.1,268.8 442.2,268.8 443.4,268.8 444.6,268.8 445.7,268.8 446.9,268.8 448.0,268.8 449.2,268.8 450.4,268.8 451.5,268.8 452.7,268.8 453.9,268.8 455.0,268.8 456.2,268.8 457.3,268.8 458.5,268.8 459.7,268.8 460.8,268.8 462.0,268.8 463.1,268.8 464.3,268.8 465.5,268.8 466.6,268.8 467.8,268.8 469.0,268.8 470.1,268.8 471.3,268.8 472.4,268.8 473.6,268.8 474.8,268.8 475.9,268.8 477.1,268.8 478.3,268.8 479.4,268.8 480.6,268.8" fill="none" stroke="#4f9a45" stroke-width="0.95"/>
<path d="M429.5 269.7V267.8M428.3 269.7h2.4M428.3 267.8h2.4M435.8 269.7V267.8M434.6 269.7h2.4M434.6 267.8h2.4M442.2 269.7V267.8M441.0 269.7h2.4M441.0 267.8h2.4M448.6 269.7V267.8M447.4 269.7h2.4M447.4 267.8h2.4M455.0 269.7V267.8M453.8 269.7h2.4M453.8 267.8h2.4M461.4 269.7V267.8M460.2 269.7h2.4M460.2 267.8h2.4M467.8 269.7V267.8M466.6 269.7h2.4M466.6 267.8h2.4M474.2 269.7V267.8M473.0 269.7h2.4M473.0 267.8h2.4M480.6 269.7V267.8M479.4 269.7h2.4M479.4 267.8h2.4" stroke="#4f9a45" stroke-width="0.7" fill="none"/>
<path d="M428.3 268.8a1.15 1.15 0 1 0 2.3 0a1.15 1.15 0 1 0 -2.3 0M434.7 268.8a1.15 1.15 0 1 0 2.3 0a1.15 1.15 0 1 0 -2.3 0M441.1 268.8a1.15 1.15 0 1 0 2.3 0a1.15 1.15 0 1 0 -2.3 0M447.5 268.8a1.15 1.15 0 1 0 2.3 0a1.15 1.15 0 1 0 -2.3 0M453.9 268.8a1.15 1.15 0 1 0 2.3 0a1.15 1.15 0 1 0 -2.3 0M460.3 268.8a1.15 1.15 0 1 0 2.3 0a1.15 1.15 0 1 0 -2.3 0M466.6 268.8a1.15 1.15 0 1 0 2.3 0a1.15 1.15 0 1 0 -2.3 0M473.0 268.8a1.15 1.15 0 1 0 2.3 0a1.15 1.15 0 1 0 -2.3 0M479.4 268.8a1.15 1.15 0 1 0 2.3 0a1.15 1.15 0 1 0 -2.3 0" fill="#4f9a45"/>
<polyline points="429.5,268.8 430.6,268.8 431.8,268.8 432.9,268.8 434.1,268.8 435.3,268.8 436.4,268.8 437.6,268.8 438.7,268.8 439.9,268.8 441.1,268.8 442.2,268.8 443.4,268.8 444.6,268.8 445.7,268.8 446.9,268.8 448.0,268.8 449.2,268.8 450.4,268.8 451.5,268.8 452.7,268.8 453.9,268.8 455.0,268.8 456.2,268.8 457.3,268.8 458.5,268.8 459.7,268.8 460.8,268.8 462.0,268.8 463.1,268.8 464.3,268.8 465.5,268.8 466.6,268.8 467.8,268.8 469.0,268.8 470.1,268.8 471.3,268.8 472.4,268.8 473.6,268.8 474.8,268.8 475.9,268.8 477.1,268.8 478.3,268.8 479.4,268.8 480.6,268.8" fill="none" stroke="#a9d27f" stroke-width="0.95"/>
<path d="M429.5 269.7V267.8M428.3 269.7h2.4M428.3 267.8h2.4M435.8 269.7V267.8M434.6 269.7h2.4M434.6 267.8h2.4M442.2 269.7V267.8M441.0 269.7h2.4M441.0 267.8h2.4M448.6 269.7V267.8M447.4 269.7h2.4M447.4 267.8h2.4M455.0 269.7V267.8M453.8 269.7h2.4M453.8 267.8h2.4M461.4 269.7V267.8M460.2 269.7h2.4M460.2 267.8h2.4M467.8 269.7V267.8M466.6 269.7h2.4M466.6 267.8h2.4M474.2 269.7V267.8M473.0 269.7h2.4M473.0 267.8h2.4M480.6 269.7V267.8M479.4 269.7h2.4M479.4 267.8h2.4" stroke="#a9d27f" stroke-width="0.7" fill="none"/>
<path d="M428.3 268.8a1.15 1.15 0 1 0 2.3 0a1.15 1.15 0 1 0 -2.3 0M434.7 268.8a1.15 1.15 0 1 0 2.3 0a1.15 1.15 0 1 0 -2.3 0M441.1 268.8a1.15 1.15 0 1 0 2.3 0a1.15 1.15 0 1 0 -2.3 0M447.5 268.8a1.15 1.15 0 1 0 2.3 0a1.15 1.15 0 1 0 -2.3 0M453.9 268.8a1.15 1.15 0 1 0 2.3 0a1.15 1.15 0 1 0 -2.3 0M460.3 268.8a1.15 1.15 0 1 0 2.3 0a1.15 1.15 0 1 0 -2.3 0M466.6 268.8a1.15 1.15 0 1 0 2.3 0a1.15 1.15 0 1 0 -2.3 0M473.0 268.8a1.15 1.15 0 1 0 2.3 0a1.15 1.15 0 1 0 -2.3 0M479.4 268.8a1.15 1.15 0 1 0 2.3 0a1.15 1.15 0 1 0 -2.3 0" fill="#a9d27f"/>
<polyline points="429.5,269.7 430.6,269.7 431.8,269.7 432.9,269.7 434.1,269.7 435.3,269.7 436.4,269.7 437.6,269.8 438.7,269.8 439.9,269.8 441.1,269.8 442.2,269.8 443.4,269.9 444.6,269.9 445.7,270.0 446.9,270.0 448.0,270.1 449.2,270.2 450.4,270.3 451.5,270.4 452.7,270.6 453.9,270.8 455.0,270.9 456.2,271.2 457.3,271.4 458.5,271.6 459.7,271.9 460.8,272.2 462.0,272.4 463.1,272.7 464.3,273.0 465.5,273.2 466.6,273.5 467.8,273.7 469.0,273.9 470.1,274.0 471.3,274.2 472.4,274.3 473.6,274.4 474.8,274.5 475.9,274.6 477.1,274.6 478.3,274.7 479.4,274.7 480.6,274.8" fill="none" stroke="#24467a" stroke-width="0.95"/>
<path d="M429.5 270.1V268.8M428.3 270.1h2.4M428.3 268.8h2.4M435.8 270.4V269.1M434.6 270.4h2.4M434.6 269.1h2.4M442.2 270.7V269.4M441.0 270.7h2.4M441.0 269.4h2.4M448.6 271.0V269.7M447.4 271.0h2.4M447.4 269.7h2.4M455.0 271.4V270.1M453.8 271.4h2.4M453.8 270.1h2.4M461.4 273.0V271.7M460.2 273.0h2.4M460.2 271.7h2.4M467.8 274.3V273.0M466.6 274.3h2.4M466.6 273.0h2.4M474.2 275.3V274.0M473.0 275.3h2.4M473.0 274.0h2.4M480.6 275.3V274.0M479.4 275.3h2.4M479.4 274.0h2.4" stroke="#24467a" stroke-width="0.7" fill="none"/>
<path d="M428.3 269.4a1.15 1.15 0 1 0 2.3 0a1.15 1.15 0 1 0 -2.3 0M434.7 269.7a1.15 1.15 0 1 0 2.3 0a1.15 1.15 0 1 0 -2.3 0M441.1 270.1a1.15 1.15 0 1 0 2.3 0a1.15 1.15 0 1 0 -2.3 0M447.5 270.4a1.15 1.15 0 1 0 2.3 0a1.15 1.15 0 1 0 -2.3 0M453.9 270.7a1.15 1.15 0 1 0 2.3 0a1.15 1.15 0 1 0 -2.3 0M460.3 272.3a1.15 1.15 0 1 0 2.3 0a1.15 1.15 0 1 0 -2.3 0M466.6 273.6a1.15 1.15 0 1 0 2.3 0a1.15 1.15 0 1 0 -2.3 0M473.0 274.6a1.15 1.15 0 1 0 2.3 0a1.15 1.15 0 1 0 -2.3 0M479.4 274.6a1.15 1.15 0 1 0 2.3 0a1.15 1.15 0 1 0 -2.3 0" fill="#24467a"/>
<polyline points="429.5,269.0 430.6,269.1 431.8,269.3 432.9,269.5 434.1,269.7 435.3,269.9 436.4,270.1 437.6,270.3 438.7,270.6 439.9,270.9 441.1,271.2 442.2,271.5 443.4,271.9 444.6,272.3 445.7,272.7 446.9,273.1 448.0,273.6 449.2,274.1 450.4,274.6 451.5,275.2 452.7,275.7 453.9,276.3 455.0,277.0 456.2,277.6 457.3,278.2 458.5,278.9 459.7,279.5 460.8,280.2 462.0,280.9 463.1,281.6 464.3,282.2 465.5,282.9 466.6,283.5 467.8,284.1 469.0,284.7 470.1,285.3 471.3,285.9 472.4,286.4 473.6,286.9 474.8,287.4 475.9,287.8 477.1,288.3 478.3,288.7 479.4,289.0 480.6,289.4" fill="none" stroke="#f0a838" stroke-width="0.95"/>
<path d="M429.5 270.1V268.8M428.3 270.1h2.4M428.3 268.8h2.4M435.8 270.4V269.1M434.6 270.4h2.4M434.6 269.1h2.4M442.2 271.4V270.1M441.0 271.4h2.4M441.0 270.1h2.4M448.6 275.3V274.0M447.4 275.3h2.4M447.4 274.0h2.4M455.0 277.6V276.2M453.8 277.6h2.4M453.8 276.2h2.4M461.4 281.5V280.2M460.2 281.5h2.4M460.2 280.2h2.4M467.8 284.1V282.8M466.6 284.1h2.4M466.6 282.8h2.4M474.2 288.3V287.0M473.0 288.3h2.4M473.0 287.0h2.4M480.6 289.9V288.6M479.4 289.9h2.4M479.4 288.6h2.4" stroke="#f0a838" stroke-width="0.7" fill="none"/>
<path d="M428.3 269.4a1.15 1.15 0 1 0 2.3 0a1.15 1.15 0 1 0 -2.3 0M434.7 269.7a1.15 1.15 0 1 0 2.3 0a1.15 1.15 0 1 0 -2.3 0M441.1 270.7a1.15 1.15 0 1 0 2.3 0a1.15 1.15 0 1 0 -2.3 0M447.5 274.6a1.15 1.15 0 1 0 2.3 0a1.15 1.15 0 1 0 -2.3 0M453.9 276.9a1.15 1.15 0 1 0 2.3 0a1.15 1.15 0 1 0 -2.3 0M460.3 280.8a1.15 1.15 0 1 0 2.3 0a1.15 1.15 0 1 0 -2.3 0M466.6 283.4a1.15 1.15 0 1 0 2.3 0a1.15 1.15 0 1 0 -2.3 0M473.0 287.6a1.15 1.15 0 1 0 2.3 0a1.15 1.15 0 1 0 -2.3 0M479.4 289.3a1.15 1.15 0 1 0 2.3 0a1.15 1.15 0 1 0 -2.3 0" fill="#f0a838"/>
<polyline points="429.5,268.9 430.6,269.1 431.8,269.3 432.9,269.5 434.1,269.7 435.3,270.0 436.4,270.2 437.6,270.6 438.7,270.9 439.9,271.3 441.1,271.7 442.2,272.2 443.4,272.7 444.6,273.2 445.7,273.8 446.9,274.4 448.0,275.1 449.2,275.8 450.4,276.5 451.5,277.3 452.7,278.1 453.9,278.9 455.0,279.7 456.2,280.5 457.3,281.3 458.5,282.2 459.7,283.0 460.8,283.8 462.0,284.5 463.1,285.2 464.3,285.9 465.5,286.6 466.6,287.2 467.8,287.8 469.0,288.3 470.1,288.8 471.3,289.3 472.4,289.7 473.6,290.0 474.8,290.4 475.9,290.7 477.1,291.0 478.3,291.2 479.4,291.4 480.6,291.6" fill="none" stroke="#a01b3a" stroke-width="0.95"/>
<path d="M429.5 270.1V268.8M428.3 270.1h2.4M428.3 268.8h2.4M435.8 270.4V269.1M434.6 270.4h2.4M434.6 269.1h2.4M442.2 272.0V270.7M441.0 272.0h2.4M441.0 270.7h2.4M448.6 276.9V275.6M447.4 276.9h2.4M447.4 275.6h2.4M455.0 280.5V279.2M453.8 280.5h2.4M453.8 279.2h2.4M461.4 284.4V283.1M460.2 284.4h2.4M460.2 283.1h2.4M467.8 288.3V287.0M466.6 288.3h2.4M466.6 287.0h2.4M474.2 291.2V289.9M473.0 291.2h2.4M473.0 289.9h2.4M480.6 292.2V290.9M479.4 292.2h2.4M479.4 290.9h2.4" stroke="#a01b3a" stroke-width="0.7" fill="none"/>
<path d="M428.3 269.4a1.15 1.15 0 1 0 2.3 0a1.15 1.15 0 1 0 -2.3 0M434.7 269.7a1.15 1.15 0 1 0 2.3 0a1.15 1.15 0 1 0 -2.3 0M441.1 271.4a1.15 1.15 0 1 0 2.3 0a1.15 1.15 0 1 0 -2.3 0M447.5 276.2a1.15 1.15 0 1 0 2.3 0a1.15 1.15 0 1 0 -2.3 0M453.9 279.8a1.15 1.15 0 1 0 2.3 0a1.15 1.15 0 1 0 -2.3 0M460.3 283.7a1.15 1.15 0 1 0 2.3 0a1.15 1.15 0 1 0 -2.3 0M466.6 287.6a1.15 1.15 0 1 0 2.3 0a1.15 1.15 0 1 0 -2.3 0M473.0 290.6a1.15 1.15 0 1 0 2.3 0a1.15 1.15 0 1 0 -2.3 0M479.4 291.5a1.15 1.15 0 1 0 2.3 0a1.15 1.15 0 1 0 -2.3 0" fill="#a01b3a"/>
<line x1="419.30" y1="252.00" x2="419.30" y2="302.00" stroke="#111" stroke-width="1.3"/>
<line x1="418.60" y1="301.30" x2="491.50" y2="301.30" stroke="#111" stroke-width="1.3"/>
<line x1="416.40" y1="301.30" x2="419.00" y2="301.30" stroke="#111" stroke-width="1.1"/>
<text x="413.40" y="303.50" font-size="6.3" text-anchor="end">0</text>
<line x1="416.40" y1="285.03" x2="419.00" y2="285.03" stroke="#111" stroke-width="1.1"/>
<text x="413.40" y="287.23" font-size="6.3" text-anchor="end">50</text>
<line x1="416.40" y1="268.77" x2="419.00" y2="268.77" stroke="#111" stroke-width="1.1"/>
<text x="413.40" y="270.97" font-size="6.3" text-anchor="end">100</text>
<line x1="416.40" y1="252.50" x2="419.00" y2="252.50" stroke="#111" stroke-width="1.1"/>
<text x="413.40" y="254.70" font-size="6.3" text-anchor="end">150</text>
<line x1="438.60" y1="301.30" x2="438.60" y2="304.00" stroke="#111" stroke-width="1.1"/>
<text x="438.00" y="312.70" font-size="6.3" text-anchor="middle">-8</text>
<line x1="464.16" y1="301.30" x2="464.16" y2="304.00" stroke="#111" stroke-width="1.1"/>
<text x="463.56" y="312.70" font-size="6.3" text-anchor="middle">-6</text>
<line x1="489.72" y1="301.30" x2="489.72" y2="304.00" stroke="#111" stroke-width="1.1"/>
<text x="489.12" y="312.70" font-size="6.3" text-anchor="middle">-4</text>
<text x="428.50" y="244.50" font-size="8.6" class="t" textLength="54.60" lengthAdjust="spacingAndGlyphs">HBL1 washout</text>
<text x="395.10" y="275.20" font-size="7.2" text-anchor="middle" textLength="57.00" lengthAdjust="spacingAndGlyphs" transform="rotate(-90 395.10 275.20)">RLUs (DMSO norm)</text>
<text x="430.80" y="325.30" font-size="8.2" textLength="50.80" lengthAdjust="spacingAndGlyphs">Log10 (dose) (M)</text>
<line x1="398.70" y1="340.00" x2="402.70" y2="340.00" stroke="#a01b3a" stroke-width="0.8"/>
<circle cx="400.70" cy="340.00" r="1.2" fill="#a01b3a"/>
<text x="406.00" y="338.10" font-size="5.5" textLength="15.60" lengthAdjust="spacingAndGlyphs">Vector</text>
<text x="406.00" y="344.90" font-size="5.5" textLength="23.50" lengthAdjust="spacingAndGlyphs">- Ibrutinib</text>
<line x1="398.70" y1="356.30" x2="402.70" y2="356.30" stroke="#4f9a45" stroke-width="0.8"/>
<circle cx="400.70" cy="356.30" r="1.2" fill="#4f9a45"/>
<text x="406.00" y="355.10" font-size="5.5" textLength="15.60" lengthAdjust="spacingAndGlyphs">Vector</text>
<text x="406.00" y="361.90" font-size="5.5" textLength="19.50" lengthAdjust="spacingAndGlyphs">- DMSO</text>
<line x1="438.50" y1="340.00" x2="442.50" y2="340.00" stroke="#f0a838" stroke-width="0.8"/>
<circle cx="440.50" cy="340.00" r="1.2" fill="#f0a838"/>
<text x="446.00" y="338.10" font-size="5.5" textLength="19.20" lengthAdjust="spacingAndGlyphs">BTK WT</text>
<text x="446.00" y="344.90" font-size="5.5" textLength="23.50" lengthAdjust="spacingAndGlyphs">- Ibrutinib</text>
<line x1="438.50" y1="356.30" x2="442.50" y2="356.30" stroke="#a9d27f" stroke-width="0.8"/>
<circle cx="440.50" cy="356.30" r="1.2" fill="#a9d27f"/>
<text x="446.00" y="355.10" font-size="5.5" textLength="19.20" lengthAdjust="spacingAndGlyphs">BTK WT</text>
<text x="446.00" y="361.90" font-size="5.5" textLength="19.50" lengthAdjust="spacingAndGlyphs">- DMSO</text>
<line x1="478.80" y1="340.00" x2="482.80" y2="340.00" stroke="#24467a" stroke-width="0.8"/>
<circle cx="480.80" cy="340.00" r="1.2" fill="#24467a"/>
<text x="486.50" y="338.10" font-size="5.5" textLength="26.40" lengthAdjust="spacingAndGlyphs">BTK C481S</text>
<text x="486.50" y="344.90" font-size="5.5" textLength="23.50" lengthAdjust="spacingAndGlyphs">- Ibrutinib</text>
<line x1="478.80" y1="356.30" x2="482.80" y2="356.30" stroke="#72b6de" stroke-width="0.8"/>
<circle cx="480.80" cy="356.30" r="1.2" fill="#72b6de"/>
<text x="486.50" y="355.10" font-size="5.5" textLength="26.40" lengthAdjust="spacingAndGlyphs">BTK C481S</text>
<text x="486.50" y="361.90" font-size="5.5" textLength="19.50" lengthAdjust="spacingAndGlyphs">- DMSO</text>
<text x="389.30" y="16.70" font-size="11.5" font-weight="bold" fill="#000" textLength="6.90" lengthAdjust="spacingAndGlyphs">B</text>
<text x="431.80" y="69.20" font-size="6.5" class="m" textLength="18.70" lengthAdjust="spacingAndGlyphs" transform="rotate(-90 431.80 69.20)">Vector</text>
<text x="450.20" y="69.20" font-size="6.5" class="m" textLength="23.10" lengthAdjust="spacingAndGlyphs" transform="rotate(-90 450.20 69.20)">BTK WT</text>
<text x="468.40" y="69.20" font-size="6.5" class="m" textLength="31.70" lengthAdjust="spacingAndGlyphs" transform="rotate(-90 468.40 69.20)">BTK C481S</text>
<rect x="419.60" y="72.30" width="54.70" height="11.60" fill="#a6a6a6"/>
<rect x="419.60" y="86.90" width="54.70" height="11.80" fill="#a6a6a6"/>
<text x="390.90" y="87.70" font-size="6.6" class="m" textLength="25.40" lengthAdjust="spacingAndGlyphs">BCWM-1</text>
<text x="477.70" y="80.40" font-size="6.5" class="m" textLength="11.50" lengthAdjust="spacingAndGlyphs">BTK</text>
<text x="477.70" y="95.00" font-size="6.5" class="m" textLength="22.30" lengthAdjust="spacingAndGlyphs">GAPDH</text>
<rect x="419.60" y="106.70" width="54.70" height="11.60" fill="#a6a6a6"/>
<rect x="419.60" y="121.30" width="54.70" height="11.80" fill="#a6a6a6"/>
<text x="390.90" y="122.20" font-size="6.6" class="m" textLength="24.60" lengthAdjust="spacingAndGlyphs">MWCL-1</text>
<text x="477.70" y="114.80" font-size="6.5" class="m" textLength="11.50" lengthAdjust="spacingAndGlyphs">BTK</text>
<text x="477.70" y="129.40" font-size="6.5" class="m" textLength="22.30" lengthAdjust="spacingAndGlyphs">GAPDH</text>
<rect x="419.60" y="141.00" width="54.70" height="11.60" fill="#a6a6a6"/>
<rect x="419.60" y="155.60" width="54.70" height="11.80" fill="#a6a6a6"/>
<text x="390.90" y="156.10" font-size="6.6" class="m" textLength="17.10" lengthAdjust="spacingAndGlyphs">TMD8</text>
<text x="477.70" y="149.10" font-size="6.5" class="m" textLength="11.50" lengthAdjust="spacingAndGlyphs">BTK</text>
<text x="477.70" y="163.70" font-size="6.5" class="m" textLength="22.30" lengthAdjust="spacingAndGlyphs">GAPDH</text>
<rect x="419.60" y="175.40" width="54.70" height="11.60" fill="#a6a6a6"/>
<rect x="419.60" y="190.00" width="54.70" height="11.80" fill="#a6a6a6"/>
<text x="390.90" y="190.40" font-size="6.6" class="m" textLength="14.50" lengthAdjust="spacingAndGlyphs">HBL1</text>
<text x="477.70" y="183.50" font-size="6.5" class="m" textLength="11.50" lengthAdjust="spacingAndGlyphs">BTK</text>
<text x="477.70" y="198.10" font-size="6.5" class="m" textLength="22.30" lengthAdjust="spacingAndGlyphs">GAPDH</text>
<g filter="url(#bl)"><rect x="420.20" y="77.60" width="18.83" height="1.20" rx="0.60" fill="#8d8d8d"/><rect x="437.83" y="75.80" width="18.83" height="4.80" rx="2.00" fill="#1c1c1c"/><rect x="455.47" y="75.80" width="18.83" height="4.80" rx="2.00" fill="#1c1c1c"/></g>
<g filter="url(#bl)"><rect x="420.20" y="90.59" width="18.83" height="4.63" rx="2.00" fill="#212121"/><rect x="437.83" y="90.59" width="18.83" height="4.63" rx="2.00" fill="#212121"/><rect x="455.47" y="90.59" width="18.83" height="4.63" rx="2.00" fill="#212121"/></g>
<g filter="url(#bl)"><rect x="420.20" y="112.00" width="18.83" height="1.20" rx="0.60" fill="#8d8d8d"/><rect x="437.83" y="110.40" width="18.83" height="4.40" rx="2.00" fill="#1c1c1c"/><rect x="455.47" y="110.40" width="18.83" height="4.40" rx="2.00" fill="#1c1c1c"/></g>
<g filter="url(#bl)"><rect x="420.20" y="125.23" width="18.83" height="3.55" rx="1.77" fill="#212121"/><rect x="437.83" y="125.23" width="18.83" height="3.55" rx="1.77" fill="#212121"/><rect x="455.47" y="125.23" width="18.83" height="3.55" rx="1.77" fill="#212121"/></g>
<g filter="url(#bl)"><rect x="420.20" y="145.70" width="18.83" height="3.00" rx="1.50" fill="#212121"/><rect x="437.83" y="144.90" width="18.83" height="4.60" rx="2.00" fill="#1c1c1c"/><rect x="455.47" y="144.90" width="18.83" height="4.60" rx="2.00" fill="#1c1c1c"/></g>
<g filter="url(#bl)"><rect x="420.20" y="159.43" width="18.83" height="3.55" rx="1.77" fill="#212121"/><rect x="437.83" y="159.43" width="18.83" height="3.55" rx="1.77" fill="#212121"/><rect x="455.47" y="159.43" width="18.83" height="3.55" rx="1.77" fill="#212121"/></g>
<g filter="url(#bl)"><rect x="420.20" y="179.90" width="18.83" height="2.80" rx="1.40" fill="#262626"/><rect x="437.83" y="178.90" width="18.83" height="4.80" rx="2.00" fill="#1c1c1c"/><rect x="455.47" y="178.90" width="18.83" height="4.80" rx="2.00" fill="#1c1c1c"/></g>
<g filter="url(#bl)"><rect x="420.20" y="194.03" width="18.83" height="3.55" rx="1.77" fill="#212121"/><rect x="437.83" y="194.03" width="18.83" height="3.55" rx="1.77" fill="#212121"/><rect x="455.47" y="194.03" width="18.83" height="3.55" rx="1.77" fill="#212121"/></g>
<text x="9.20" y="378.20" font-size="11.5" font-weight="bold" fill="#000" textLength="8.30" lengthAdjust="spacingAndGlyphs">D</text>
<rect x="40.30" y="452.80" width="95.40" height="8.70" fill="#b0b0b0"/>
<rect x="40.30" y="462.40" width="95.40" height="8.30" fill="#b0b0b0"/>
<rect x="40.30" y="475.90" width="95.40" height="8.30" fill="#b0b0b0"/>
<rect x="40.30" y="485.00" width="95.40" height="8.50" fill="#b0b0b0"/>
<rect x="40.30" y="497.80" width="95.40" height="8.80" fill="#b0b0b0"/>
<rect x="40.30" y="507.30" width="95.40" height="9.30" fill="#b0b0b0"/>
<rect x="40.30" y="521.60" width="95.40" height="8.70" fill="#b0b0b0"/>
<rect x="40.30" y="531.00" width="95.40" height="8.90" fill="#b0b0b0"/>
<rect x="40.30" y="544.30" width="95.40" height="8.70" fill="#b0b0b0"/>
<g filter="url(#bl)"><rect x="43.55" y="456.05" width="10.54" height="2.20" rx="0.90" fill="#727272"/><rect x="92.77" y="455.35" width="10.54" height="3.60" rx="0.90" fill="#1c1c1c"/><rect x="122.31" y="455.35" width="10.54" height="3.60" rx="0.90" fill="#1c1c1c"/><rect x="53.39" y="454.55" width="10.54" height="5.20" rx="0.90" fill="#161616"/><rect x="63.24" y="454.55" width="10.54" height="5.20" rx="0.90" fill="#161616"/></g>
<g filter="url(#bl)"><rect x="73.08" y="465.17" width="10.54" height="2.76" rx="0.90" fill="#727272"/><rect x="102.62" y="465.17" width="10.54" height="2.76" rx="0.90" fill="#727272"/><rect x="43.55" y="465.14" width="10.54" height="2.82" rx="0.90" fill="#6a6a6a"/><rect x="53.39" y="464.83" width="10.54" height="3.45" rx="0.90" fill="#1c1c1c"/><rect x="63.24" y="464.83" width="10.54" height="3.45" rx="0.90" fill="#1c1c1c"/><rect x="82.93" y="464.83" width="10.54" height="3.45" rx="0.90" fill="#1c1c1c"/><rect x="92.77" y="464.83" width="10.54" height="3.45" rx="0.90" fill="#1c1c1c"/><rect x="112.46" y="464.83" width="10.54" height="3.45" rx="0.90" fill="#1c1c1c"/><rect x="122.31" y="464.83" width="10.54" height="3.45" rx="0.90" fill="#1c1c1c"/></g>
<g filter="url(#bl)"><rect x="73.08" y="478.80" width="10.54" height="2.50" rx="0.90" fill="#6a6a6a"/><rect x="82.93" y="478.65" width="10.54" height="2.80" rx="0.90" fill="#545454"/><rect x="102.62" y="478.65" width="10.54" height="2.80" rx="0.90" fill="#545454"/><rect x="112.46" y="478.65" width="10.54" height="2.80" rx="0.90" fill="#4e4e4e"/><rect x="43.55" y="478.55" width="10.54" height="3.00" rx="0.90" fill="#2e2e2e"/><rect x="92.77" y="478.25" width="10.54" height="3.60" rx="0.90" fill="#1c1c1c"/><rect x="122.31" y="478.25" width="10.54" height="3.60" rx="0.90" fill="#1c1c1c"/><rect x="53.39" y="477.95" width="10.54" height="4.20" rx="0.90" fill="#161616"/><rect x="63.24" y="477.95" width="10.54" height="4.20" rx="0.90" fill="#161616"/></g>
<g filter="url(#bl)"><rect x="44.20" y="488.20" width="9.24" height="2.10" rx="0.90" fill="#282828"/><rect x="54.04" y="488.20" width="9.24" height="2.10" rx="0.90" fill="#282828"/><rect x="63.89" y="488.20" width="9.24" height="2.10" rx="0.90" fill="#282828"/><rect x="73.73" y="488.20" width="9.24" height="2.10" rx="0.90" fill="#282828"/><rect x="83.58" y="488.20" width="9.24" height="2.10" rx="0.90" fill="#282828"/><rect x="93.42" y="488.20" width="9.24" height="2.10" rx="0.90" fill="#282828"/><rect x="103.27" y="488.20" width="9.24" height="2.10" rx="0.90" fill="#282828"/><rect x="113.11" y="488.20" width="9.24" height="2.10" rx="0.90" fill="#282828"/><rect x="122.96" y="488.20" width="9.24" height="2.10" rx="0.90" fill="#282828"/></g>
<g filter="url(#bl)"><rect x="73.08" y="501.90" width="10.54" height="2.60" rx="0.90" fill="#727272"/><rect x="82.93" y="501.70" width="10.54" height="3.00" rx="0.90" fill="#5b5b5b"/><rect x="102.62" y="501.70" width="10.54" height="3.00" rx="0.90" fill="#4e4e4e"/><rect x="112.46" y="501.70" width="10.54" height="3.00" rx="0.90" fill="#4e4e4e"/><rect x="43.55" y="500.60" width="10.54" height="5.20" rx="0.90" fill="#161616"/><rect x="53.39" y="500.60" width="10.54" height="5.20" rx="0.90" fill="#161616"/><rect x="63.24" y="500.60" width="10.54" height="5.20" rx="0.90" fill="#161616"/><rect x="92.77" y="500.70" width="10.54" height="5.00" rx="0.90" fill="#161616"/><rect x="122.31" y="500.50" width="10.54" height="5.40" rx="0.90" fill="#161616"/></g>
<g filter="url(#bl)"><rect x="44.20" y="511.43" width="9.24" height="2.23" rx="0.90" fill="#222222"/><rect x="54.04" y="511.43" width="9.24" height="2.23" rx="0.90" fill="#222222"/><rect x="63.89" y="511.43" width="9.24" height="2.23" rx="0.90" fill="#222222"/><rect x="73.73" y="511.43" width="9.24" height="2.23" rx="0.90" fill="#222222"/><rect x="83.58" y="511.43" width="9.24" height="2.23" rx="0.90" fill="#222222"/><rect x="93.42" y="511.43" width="9.24" height="2.23" rx="0.90" fill="#222222"/><rect x="103.27" y="511.43" width="9.24" height="2.23" rx="0.90" fill="#222222"/><rect x="113.11" y="511.43" width="9.24" height="2.23" rx="0.90" fill="#222222"/><rect x="122.96" y="511.43" width="9.24" height="2.23" rx="0.90" fill="#222222"/></g>
<g filter="url(#bl)"><rect x="73.08" y="524.77" width="10.54" height="2.37" rx="0.90" fill="#727272"/><rect x="82.93" y="524.77" width="10.54" height="2.37" rx="0.90" fill="#727272"/><rect x="43.55" y="524.61" width="10.54" height="2.69" rx="0.90" fill="#414141"/><rect x="53.39" y="524.61" width="10.54" height="2.69" rx="0.90" fill="#414141"/><rect x="102.62" y="524.61" width="10.54" height="2.69" rx="0.90" fill="#414141"/><rect x="112.46" y="524.61" width="10.54" height="2.69" rx="0.90" fill="#414141"/><rect x="122.31" y="524.61" width="10.54" height="2.69" rx="0.90" fill="#414141"/><rect x="92.77" y="524.59" width="10.54" height="2.73" rx="0.90" fill="#3a3a3a"/><rect x="63.24" y="524.52" width="10.54" height="2.86" rx="0.90" fill="#282828"/></g>
<g filter="url(#bl)"><rect x="44.25" y="534.65" width="9.14" height="2.20" rx="0.90" fill="#282828"/><rect x="54.09" y="534.65" width="9.14" height="2.20" rx="0.90" fill="#282828"/><rect x="63.94" y="534.65" width="9.14" height="2.20" rx="0.90" fill="#282828"/><rect x="73.78" y="534.65" width="9.14" height="2.20" rx="0.90" fill="#282828"/><rect x="83.63" y="534.65" width="9.14" height="2.20" rx="0.90" fill="#282828"/><rect x="93.47" y="534.65" width="9.14" height="2.20" rx="0.90" fill="#282828"/><rect x="103.32" y="534.65" width="9.14" height="2.20" rx="0.90" fill="#282828"/><rect x="113.16" y="534.65" width="9.14" height="2.20" rx="0.90" fill="#282828"/><rect x="123.01" y="534.65" width="9.14" height="2.20" rx="0.90" fill="#282828"/></g>
<g filter="url(#bl)"><rect x="44.10" y="547.93" width="9.44" height="2.04" rx="0.90" fill="#222222"/><rect x="53.94" y="547.93" width="9.44" height="2.04" rx="0.90" fill="#222222"/><rect x="63.79" y="547.93" width="9.44" height="2.04" rx="0.90" fill="#222222"/><rect x="73.63" y="547.93" width="9.44" height="2.04" rx="0.90" fill="#222222"/><rect x="83.48" y="547.93" width="9.44" height="2.04" rx="0.90" fill="#222222"/><rect x="93.32" y="547.93" width="9.44" height="2.04" rx="0.90" fill="#222222"/><rect x="103.17" y="547.93" width="9.44" height="2.04" rx="0.90" fill="#222222"/><rect x="113.01" y="547.93" width="9.44" height="2.04" rx="0.90" fill="#222222"/><rect x="122.86" y="547.93" width="9.44" height="2.04" rx="0.90" fill="#222222"/></g>
<text x="73.10" y="389.20" font-size="8.8" class="t" textLength="33.10" lengthAdjust="spacingAndGlyphs">BCWM.1</text>
<line x1="44.60" y1="414.50" x2="71.20" y2="414.50" stroke="#111" stroke-width="1.0"/>
<text x="48.20" y="410.10" font-size="6.6" class="m" textLength="19.50" lengthAdjust="spacingAndGlyphs">DMSO</text>
<line x1="75.40" y1="414.50" x2="102.00" y2="414.50" stroke="#111" stroke-width="1.0"/>
<text x="76.90" y="402.40" font-size="6.6" class="m" textLength="24.20" lengthAdjust="spacingAndGlyphs">Ibrutinib</text>
<text x="79.50" y="410.10" font-size="6.6" class="m" textLength="18.20" lengthAdjust="spacingAndGlyphs">0.5μM</text>
<line x1="106.40" y1="414.50" x2="133.00" y2="414.50" stroke="#111" stroke-width="1.0"/>
<text x="107.70" y="402.40" font-size="6.6" class="m" textLength="24.30" lengthAdjust="spacingAndGlyphs">Ibrutinib</text>
<text x="110.00" y="410.10" font-size="6.6" class="m" textLength="19.50" lengthAdjust="spacingAndGlyphs">0.1μM</text>
<text x="49.80" y="450.00" font-size="6.3" class="m" textLength="18.40" lengthAdjust="spacingAndGlyphs" transform="rotate(-90 49.80 450.00)">Vector</text>
<text x="60.05" y="450.00" font-size="6.3" class="m" textLength="21.90" lengthAdjust="spacingAndGlyphs" transform="rotate(-90 60.05 450.00)">BTK WT</text>
<text x="70.30" y="450.00" font-size="6.3" class="m" textLength="31.70" lengthAdjust="spacingAndGlyphs" transform="rotate(-90 70.30 450.00)">BTK C481S</text>
<text x="80.55" y="450.00" font-size="6.3" class="m" textLength="18.40" lengthAdjust="spacingAndGlyphs" transform="rotate(-90 80.55 450.00)">Vector</text>
<text x="90.80" y="450.00" font-size="6.3" class="m" textLength="21.90" lengthAdjust="spacingAndGlyphs" transform="rotate(-90 90.80 450.00)">BTK WT</text>
<text x="101.05" y="450.00" font-size="6.3" class="m" textLength="31.70" lengthAdjust="spacingAndGlyphs" transform="rotate(-90 101.05 450.00)">BTK C481S</text>
<text x="111.30" y="450.00" font-size="6.3" class="m" textLength="18.40" lengthAdjust="spacingAndGlyphs" transform="rotate(-90 111.30 450.00)">Vector</text>
<text x="121.55" y="450.00" font-size="6.3" class="m" textLength="21.90" lengthAdjust="spacingAndGlyphs" transform="rotate(-90 121.55 450.00)">BTK WT</text>
<text x="131.80" y="450.00" font-size="6.3" class="m" textLength="31.70" lengthAdjust="spacingAndGlyphs" transform="rotate(-90 131.80 450.00)">BTK C481S</text>
<rect x="142.40" y="452.80" width="95.40" height="8.70" fill="#cacaca"/>
<rect x="142.40" y="462.40" width="95.40" height="8.30" fill="#b0b0b0"/>
<rect x="142.40" y="475.90" width="95.40" height="8.30" fill="#b0b0b0"/>
<rect x="142.40" y="485.00" width="95.40" height="8.50" fill="#b0b0b0"/>
<rect x="142.40" y="497.80" width="95.40" height="8.80" fill="#b0b0b0"/>
<rect x="142.40" y="507.30" width="95.40" height="9.30" fill="#b0b0b0"/>
<rect x="142.40" y="521.60" width="95.40" height="8.70" fill="#a4a4a4"/>
<rect x="142.40" y="531.00" width="95.40" height="8.90" fill="#b0b0b0"/>
<rect x="142.40" y="544.30" width="95.40" height="8.70" fill="#b0b0b0"/>
<g filter="url(#bl)"><rect x="145.65" y="456.15" width="10.54" height="2.00" rx="0.90" fill="#aaaaaa"/><rect x="194.87" y="456.15" width="10.54" height="2.00" rx="0.90" fill="#949494"/><rect x="224.41" y="455.95" width="10.54" height="2.40" rx="0.90" fill="#5f5f5f"/><rect x="155.49" y="455.35" width="10.54" height="3.60" rx="0.90" fill="#161616"/><rect x="165.34" y="455.35" width="10.54" height="3.60" rx="0.90" fill="#161616"/></g>
<g filter="url(#bl)"><rect x="175.18" y="465.65" width="10.54" height="2.40" rx="0.90" fill="#5b5b5b"/><rect x="204.72" y="465.65" width="10.54" height="2.40" rx="0.90" fill="#5b5b5b"/><rect x="145.65" y="465.65" width="10.54" height="2.40" rx="0.90" fill="#545454"/><rect x="155.49" y="465.05" width="10.54" height="3.60" rx="0.90" fill="#1c1c1c"/><rect x="165.34" y="465.05" width="10.54" height="3.60" rx="0.90" fill="#1c1c1c"/><rect x="185.03" y="465.05" width="10.54" height="3.60" rx="0.90" fill="#1c1c1c"/><rect x="194.87" y="465.05" width="10.54" height="3.60" rx="0.90" fill="#1c1c1c"/><rect x="214.56" y="464.95" width="10.54" height="3.80" rx="0.90" fill="#1c1c1c"/><rect x="224.41" y="464.65" width="10.54" height="4.40" rx="0.90" fill="#161616"/></g>
<g filter="url(#bl)"><rect x="145.65" y="478.66" width="10.54" height="2.77" rx="0.90" fill="#343434"/><rect x="204.72" y="478.64" width="10.54" height="2.82" rx="0.90" fill="#2e2e2e"/><rect x="175.18" y="478.62" width="10.54" height="2.86" rx="0.90" fill="#282828"/><rect x="224.41" y="478.62" width="10.54" height="2.86" rx="0.90" fill="#282828"/><rect x="155.49" y="478.59" width="10.54" height="2.91" rx="0.90" fill="#222222"/><rect x="165.34" y="478.59" width="10.54" height="2.91" rx="0.90" fill="#222222"/><rect x="185.03" y="478.59" width="10.54" height="2.91" rx="0.90" fill="#222222"/><rect x="194.87" y="478.59" width="10.54" height="2.91" rx="0.90" fill="#222222"/><rect x="214.56" y="478.59" width="10.54" height="2.91" rx="0.90" fill="#222222"/></g>
<g filter="url(#bl)"><rect x="146.30" y="488.02" width="9.24" height="2.46" rx="0.90" fill="#1c1c1c"/><rect x="156.14" y="488.02" width="9.24" height="2.46" rx="0.90" fill="#1c1c1c"/><rect x="165.99" y="488.02" width="9.24" height="2.46" rx="0.90" fill="#1c1c1c"/><rect x="175.83" y="488.02" width="9.24" height="2.46" rx="0.90" fill="#1c1c1c"/><rect x="185.68" y="488.02" width="9.24" height="2.46" rx="0.90" fill="#1c1c1c"/><rect x="195.52" y="488.02" width="9.24" height="2.46" rx="0.90" fill="#1c1c1c"/><rect x="205.37" y="488.02" width="9.24" height="2.46" rx="0.90" fill="#1c1c1c"/><rect x="215.21" y="488.02" width="9.24" height="2.46" rx="0.90" fill="#1c1c1c"/><rect x="225.06" y="488.02" width="9.24" height="2.46" rx="0.90" fill="#1c1c1c"/></g>
<g filter="url(#bl)"><rect x="185.03" y="501.05" width="10.54" height="3.10" rx="0.90" fill="#7a7a7a"/><rect x="214.56" y="500.96" width="10.54" height="3.28" rx="0.90" fill="#636363"/><rect x="175.18" y="500.87" width="10.54" height="3.46" rx="0.90" fill="#4e4e4e"/><rect x="155.49" y="500.75" width="10.54" height="3.70" rx="0.90" fill="#343434"/><rect x="194.87" y="500.72" width="10.54" height="3.76" rx="0.90" fill="#2e2e2e"/><rect x="204.72" y="500.72" width="10.54" height="3.76" rx="0.90" fill="#2e2e2e"/><rect x="165.34" y="500.66" width="10.54" height="3.88" rx="0.90" fill="#222222"/><rect x="224.41" y="500.66" width="10.54" height="3.88" rx="0.90" fill="#222222"/><rect x="145.65" y="500.63" width="10.54" height="3.94" rx="0.90" fill="#1c1c1c"/></g>
<g filter="url(#bl)"><rect x="146.30" y="511.07" width="9.24" height="2.56" rx="0.90" fill="#1c1c1c"/><rect x="156.14" y="511.07" width="9.24" height="2.56" rx="0.90" fill="#1c1c1c"/><rect x="165.99" y="511.07" width="9.24" height="2.56" rx="0.90" fill="#1c1c1c"/><rect x="175.83" y="511.07" width="9.24" height="2.56" rx="0.90" fill="#1c1c1c"/><rect x="185.68" y="511.07" width="9.24" height="2.56" rx="0.90" fill="#1c1c1c"/><rect x="195.52" y="511.07" width="9.24" height="2.56" rx="0.90" fill="#1c1c1c"/><rect x="205.37" y="511.07" width="9.24" height="2.56" rx="0.90" fill="#1c1c1c"/><rect x="215.21" y="511.07" width="9.24" height="2.56" rx="0.90" fill="#1c1c1c"/><rect x="225.06" y="511.07" width="9.24" height="2.56" rx="0.90" fill="#1c1c1c"/></g>
<g filter="url(#bl)"><rect x="214.56" y="523.98" width="10.54" height="3.95" rx="0.90" fill="#6a6a6a"/><rect x="175.18" y="523.86" width="10.54" height="4.17" rx="0.90" fill="#565656"/><rect x="204.72" y="523.86" width="10.54" height="4.17" rx="0.90" fill="#565656"/><rect x="185.03" y="523.79" width="10.54" height="4.33" rx="0.90" fill="#494949"/><rect x="145.65" y="523.75" width="10.54" height="4.40" rx="0.90" fill="#434343"/><rect x="224.41" y="523.75" width="10.54" height="4.40" rx="0.90" fill="#434343"/><rect x="155.49" y="523.68" width="10.54" height="4.55" rx="0.90" fill="#373737"/><rect x="194.87" y="523.60" width="10.54" height="4.70" rx="0.90" fill="#2c2c2c"/><rect x="165.34" y="523.56" width="10.54" height="4.77" rx="0.90" fill="#262626"/></g>
<g filter="url(#bl)"><rect x="225.11" y="534.68" width="9.14" height="2.13" rx="0.90" fill="#636363"/><rect x="215.26" y="534.61" width="9.14" height="2.29" rx="0.90" fill="#474747"/><rect x="185.73" y="534.51" width="9.14" height="2.48" rx="0.90" fill="#282828"/><rect x="146.35" y="534.49" width="9.14" height="2.52" rx="0.90" fill="#222222"/><rect x="156.19" y="534.49" width="9.14" height="2.52" rx="0.90" fill="#222222"/><rect x="166.04" y="534.49" width="9.14" height="2.52" rx="0.90" fill="#222222"/><rect x="175.88" y="534.49" width="9.14" height="2.52" rx="0.90" fill="#222222"/><rect x="195.57" y="534.49" width="9.14" height="2.52" rx="0.90" fill="#222222"/><rect x="205.42" y="534.49" width="9.14" height="2.52" rx="0.90" fill="#222222"/></g>
<g filter="url(#bl)"><rect x="146.20" y="547.88" width="9.44" height="2.13" rx="0.90" fill="#222222"/><rect x="156.04" y="547.88" width="9.44" height="2.13" rx="0.90" fill="#222222"/><rect x="165.89" y="547.88" width="9.44" height="2.13" rx="0.90" fill="#222222"/><rect x="175.73" y="547.88" width="9.44" height="2.13" rx="0.90" fill="#222222"/><rect x="185.58" y="547.88" width="9.44" height="2.13" rx="0.90" fill="#222222"/><rect x="195.42" y="547.88" width="9.44" height="2.13" rx="0.90" fill="#222222"/><rect x="205.27" y="547.88" width="9.44" height="2.13" rx="0.90" fill="#222222"/><rect x="215.11" y="547.88" width="9.44" height="2.13" rx="0.90" fill="#222222"/><rect x="224.96" y="547.88" width="9.44" height="2.13" rx="0.90" fill="#222222"/></g>
<text x="173.10" y="389.20" font-size="8.8" class="t" textLength="32.70" lengthAdjust="spacingAndGlyphs">MWCL-1</text>
<line x1="145.40" y1="414.50" x2="171.80" y2="414.50" stroke="#111" stroke-width="1.0"/>
<text x="148.80" y="410.10" font-size="6.6" class="m" textLength="19.70" lengthAdjust="spacingAndGlyphs">DMSO</text>
<line x1="176.20" y1="414.50" x2="202.30" y2="414.50" stroke="#111" stroke-width="1.0"/>
<text x="177.70" y="402.40" font-size="6.6" class="m" textLength="23.80" lengthAdjust="spacingAndGlyphs">Ibrutinib</text>
<text x="180.30" y="410.10" font-size="6.6" class="m" textLength="18.20" lengthAdjust="spacingAndGlyphs">0.5μM</text>
<line x1="207.40" y1="414.50" x2="233.50" y2="414.50" stroke="#111" stroke-width="1.0"/>
<text x="208.90" y="402.40" font-size="6.6" class="m" textLength="23.70" lengthAdjust="spacingAndGlyphs">Ibrutinib</text>
<text x="210.80" y="410.10" font-size="6.6" class="m" textLength="18.70" lengthAdjust="spacingAndGlyphs">0.1μM</text>
<text x="152.20" y="450.00" font-size="6.3" class="m" textLength="18.40" lengthAdjust="spacingAndGlyphs" transform="rotate(-90 152.20 450.00)">Vector</text>
<text x="162.45" y="450.00" font-size="6.3" class="m" textLength="21.90" lengthAdjust="spacingAndGlyphs" transform="rotate(-90 162.45 450.00)">BTK WT</text>
<text x="172.70" y="450.00" font-size="6.3" class="m" textLength="31.70" lengthAdjust="spacingAndGlyphs" transform="rotate(-90 172.70 450.00)">BTK C481S</text>
<text x="182.95" y="450.00" font-size="6.3" class="m" textLength="18.40" lengthAdjust="spacingAndGlyphs" transform="rotate(-90 182.95 450.00)">Vector</text>
<text x="193.20" y="450.00" font-size="6.3" class="m" textLength="21.90" lengthAdjust="spacingAndGlyphs" transform="rotate(-90 193.20 450.00)">BTK WT</text>
<text x="203.45" y="450.00" font-size="6.3" class="m" textLength="31.70" lengthAdjust="spacingAndGlyphs" transform="rotate(-90 203.45 450.00)">BTK C481S</text>
<text x="213.70" y="450.00" font-size="6.3" class="m" textLength="18.40" lengthAdjust="spacingAndGlyphs" transform="rotate(-90 213.70 450.00)">Vector</text>
<text x="223.95" y="450.00" font-size="6.3" class="m" textLength="21.90" lengthAdjust="spacingAndGlyphs" transform="rotate(-90 223.95 450.00)">BTK WT</text>
<text x="234.20" y="450.00" font-size="6.3" class="m" textLength="31.70" lengthAdjust="spacingAndGlyphs" transform="rotate(-90 234.20 450.00)">BTK C481S</text>
<rect x="284.50" y="452.80" width="95.30" height="8.70" fill="#b0b0b0"/>
<rect x="284.50" y="462.40" width="95.30" height="8.30" fill="#b0b0b0"/>
<rect x="284.50" y="475.90" width="95.30" height="8.30" fill="#b0b0b0"/>
<rect x="284.50" y="485.00" width="95.30" height="8.50" fill="#b0b0b0"/>
<rect x="284.50" y="497.80" width="95.30" height="8.80" fill="#b0b0b0"/>
<rect x="284.50" y="507.30" width="95.30" height="9.30" fill="#b0b0b0"/>
<rect x="284.50" y="521.60" width="95.30" height="8.70" fill="#b0b0b0"/>
<rect x="284.50" y="531.00" width="95.30" height="8.90" fill="#b0b0b0"/>
<rect x="284.50" y="544.30" width="95.30" height="8.70" fill="#b0b0b0"/>
<g filter="url(#bl)"><rect x="336.92" y="456.05" width="10.53" height="2.20" rx="0.90" fill="#474747"/><rect x="366.42" y="455.85" width="10.53" height="2.60" rx="0.90" fill="#2e2e2e"/><rect x="297.58" y="455.65" width="10.53" height="3.00" rx="0.90" fill="#161616"/><rect x="307.42" y="455.65" width="10.53" height="3.00" rx="0.90" fill="#161616"/></g>
<g filter="url(#bl)"><rect x="317.25" y="465.41" width="10.53" height="2.28" rx="0.90" fill="#828282"/><rect x="287.75" y="465.39" width="10.53" height="2.32" rx="0.90" fill="#7a7a7a"/><rect x="346.75" y="465.39" width="10.53" height="2.32" rx="0.90" fill="#7a7a7a"/><rect x="297.58" y="465.07" width="10.53" height="2.95" rx="0.90" fill="#1c1c1c"/><rect x="307.42" y="465.07" width="10.53" height="2.95" rx="0.90" fill="#1c1c1c"/><rect x="327.08" y="465.07" width="10.53" height="2.95" rx="0.90" fill="#1c1c1c"/><rect x="336.92" y="465.07" width="10.53" height="2.95" rx="0.90" fill="#1c1c1c"/><rect x="356.58" y="465.07" width="10.53" height="2.95" rx="0.90" fill="#1c1c1c"/><rect x="366.42" y="465.07" width="10.53" height="2.95" rx="0.90" fill="#1c1c1c"/></g>
<g filter="url(#bl)"><rect x="287.75" y="478.86" width="10.53" height="2.37" rx="0.90" fill="#727272"/><rect x="327.08" y="478.84" width="10.53" height="2.42" rx="0.90" fill="#6a6a6a"/><rect x="356.58" y="478.84" width="10.53" height="2.42" rx="0.90" fill="#6a6a6a"/><rect x="317.25" y="478.77" width="10.53" height="2.55" rx="0.90" fill="#545454"/><rect x="346.75" y="478.77" width="10.53" height="2.55" rx="0.90" fill="#545454"/><rect x="336.92" y="478.71" width="10.53" height="2.69" rx="0.90" fill="#414141"/><rect x="297.58" y="478.68" width="10.53" height="2.73" rx="0.90" fill="#3a3a3a"/><rect x="366.42" y="478.68" width="10.53" height="2.73" rx="0.90" fill="#3a3a3a"/><rect x="307.42" y="478.64" width="10.53" height="2.82" rx="0.90" fill="#2e2e2e"/></g>
<g filter="url(#bl)"><rect x="288.40" y="488.02" width="9.23" height="2.46" rx="0.90" fill="#1c1c1c"/><rect x="298.23" y="488.02" width="9.23" height="2.46" rx="0.90" fill="#1c1c1c"/><rect x="308.07" y="488.02" width="9.23" height="2.46" rx="0.90" fill="#1c1c1c"/><rect x="317.90" y="488.02" width="9.23" height="2.46" rx="0.90" fill="#1c1c1c"/><rect x="327.73" y="488.02" width="9.23" height="2.46" rx="0.90" fill="#1c1c1c"/><rect x="337.57" y="488.02" width="9.23" height="2.46" rx="0.90" fill="#1c1c1c"/><rect x="347.40" y="488.02" width="9.23" height="2.46" rx="0.90" fill="#1c1c1c"/><rect x="357.23" y="488.02" width="9.23" height="2.46" rx="0.90" fill="#1c1c1c"/><rect x="367.07" y="488.02" width="9.23" height="2.46" rx="0.90" fill="#1c1c1c"/></g>
<g filter="url(#bl)"><rect x="327.08" y="501.10" width="10.53" height="3.00" rx="0.90" fill="#828282"/><rect x="356.58" y="501.10" width="10.53" height="3.00" rx="0.90" fill="#828282"/><rect x="336.92" y="501.10" width="10.53" height="3.00" rx="0.90" fill="#727272"/><rect x="317.25" y="501.10" width="10.53" height="3.00" rx="0.90" fill="#6a6a6a"/><rect x="346.75" y="501.10" width="10.53" height="3.00" rx="0.90" fill="#474747"/><rect x="366.42" y="500.10" width="10.53" height="5.00" rx="0.90" fill="#222222"/><rect x="287.75" y="499.60" width="10.53" height="6.00" rx="0.90" fill="#161616"/><rect x="297.58" y="499.60" width="10.53" height="6.00" rx="0.90" fill="#161616"/><rect x="307.42" y="499.60" width="10.53" height="6.00" rx="0.90" fill="#161616"/></g>
<g filter="url(#bl)"><rect x="288.40" y="511.14" width="9.23" height="2.42" rx="0.90" fill="#222222"/><rect x="298.23" y="511.14" width="9.23" height="2.42" rx="0.90" fill="#222222"/><rect x="308.07" y="511.14" width="9.23" height="2.42" rx="0.90" fill="#222222"/><rect x="317.90" y="511.14" width="9.23" height="2.42" rx="0.90" fill="#222222"/><rect x="327.73" y="511.14" width="9.23" height="2.42" rx="0.90" fill="#222222"/><rect x="337.57" y="511.14" width="9.23" height="2.42" rx="0.90" fill="#222222"/><rect x="347.40" y="511.14" width="9.23" height="2.42" rx="0.90" fill="#222222"/><rect x="357.23" y="511.14" width="9.23" height="2.42" rx="0.90" fill="#222222"/><rect x="367.07" y="511.14" width="9.23" height="2.42" rx="0.90" fill="#222222"/></g>
<g filter="url(#bl)"><rect x="317.25" y="524.75" width="10.53" height="2.40" rx="0.90" fill="#7f7f7f"/><rect x="336.92" y="524.75" width="10.53" height="2.40" rx="0.90" fill="#757575"/><rect x="366.42" y="524.20" width="10.53" height="3.50" rx="0.90" fill="#282828"/><rect x="287.75" y="523.45" width="10.53" height="5.00" rx="0.90" fill="#1c1c1c"/><rect x="297.58" y="523.45" width="10.53" height="5.00" rx="0.90" fill="#1c1c1c"/><rect x="307.42" y="523.45" width="10.53" height="5.00" rx="0.90" fill="#1c1c1c"/></g>
<g filter="url(#bl)"><rect x="288.45" y="534.54" width="9.13" height="2.42" rx="0.90" fill="#222222"/><rect x="298.28" y="534.54" width="9.13" height="2.42" rx="0.90" fill="#222222"/><rect x="308.12" y="534.54" width="9.13" height="2.42" rx="0.90" fill="#222222"/><rect x="317.95" y="534.54" width="9.13" height="2.42" rx="0.90" fill="#222222"/><rect x="327.78" y="534.54" width="9.13" height="2.42" rx="0.90" fill="#222222"/><rect x="337.62" y="534.54" width="9.13" height="2.42" rx="0.90" fill="#222222"/><rect x="347.45" y="534.54" width="9.13" height="2.42" rx="0.90" fill="#222222"/><rect x="357.28" y="534.54" width="9.13" height="2.42" rx="0.90" fill="#222222"/><rect x="367.12" y="534.54" width="9.13" height="2.42" rx="0.90" fill="#222222"/></g>
<g filter="url(#bl)"><rect x="288.30" y="547.90" width="9.43" height="2.10" rx="0.90" fill="#282828"/><rect x="298.13" y="547.90" width="9.43" height="2.10" rx="0.90" fill="#282828"/><rect x="307.97" y="547.90" width="9.43" height="2.10" rx="0.90" fill="#282828"/><rect x="317.80" y="547.90" width="9.43" height="2.10" rx="0.90" fill="#282828"/><rect x="327.63" y="547.90" width="9.43" height="2.10" rx="0.90" fill="#282828"/><rect x="337.47" y="547.90" width="9.43" height="2.10" rx="0.90" fill="#282828"/><rect x="347.30" y="547.90" width="9.43" height="2.10" rx="0.90" fill="#282828"/><rect x="357.13" y="547.90" width="9.43" height="2.10" rx="0.90" fill="#282828"/><rect x="366.97" y="547.90" width="9.43" height="2.10" rx="0.90" fill="#282828"/></g>
<text x="320.80" y="389.20" font-size="8.8" class="t" textLength="22.70" lengthAdjust="spacingAndGlyphs">TMD8</text>
<line x1="287.70" y1="414.50" x2="314.20" y2="414.50" stroke="#111" stroke-width="1.0"/>
<text x="291.20" y="410.10" font-size="6.6" class="m" textLength="19.60" lengthAdjust="spacingAndGlyphs">DMSO</text>
<line x1="318.50" y1="414.50" x2="345.40" y2="414.50" stroke="#111" stroke-width="1.0"/>
<text x="320.40" y="402.40" font-size="6.6" class="m" textLength="24.00" lengthAdjust="spacingAndGlyphs">Ibrutinib</text>
<text x="322.70" y="410.10" font-size="6.6" class="m" textLength="18.80" lengthAdjust="spacingAndGlyphs">0.5μM</text>
<line x1="349.60" y1="414.50" x2="376.20" y2="414.50" stroke="#111" stroke-width="1.0"/>
<text x="350.80" y="402.40" font-size="6.6" class="m" textLength="24.40" lengthAdjust="spacingAndGlyphs">Ibrutinib</text>
<text x="353.50" y="410.10" font-size="6.6" class="m" textLength="18.80" lengthAdjust="spacingAndGlyphs">0.1μM</text>
<text x="294.40" y="450.00" font-size="6.3" class="m" textLength="18.40" lengthAdjust="spacingAndGlyphs" transform="rotate(-90 294.40 450.00)">Vector</text>
<text x="304.65" y="450.00" font-size="6.3" class="m" textLength="21.90" lengthAdjust="spacingAndGlyphs" transform="rotate(-90 304.65 450.00)">BTK WT</text>
<text x="314.90" y="450.00" font-size="6.3" class="m" textLength="31.70" lengthAdjust="spacingAndGlyphs" transform="rotate(-90 314.90 450.00)">BTK C481S</text>
<text x="325.15" y="450.00" font-size="6.3" class="m" textLength="18.40" lengthAdjust="spacingAndGlyphs" transform="rotate(-90 325.15 450.00)">Vector</text>
<text x="335.40" y="450.00" font-size="6.3" class="m" textLength="21.90" lengthAdjust="spacingAndGlyphs" transform="rotate(-90 335.40 450.00)">BTK WT</text>
<text x="345.65" y="450.00" font-size="6.3" class="m" textLength="31.70" lengthAdjust="spacingAndGlyphs" transform="rotate(-90 345.65 450.00)">BTK C481S</text>
<text x="355.90" y="450.00" font-size="6.3" class="m" textLength="18.40" lengthAdjust="spacingAndGlyphs" transform="rotate(-90 355.90 450.00)">Vector</text>
<text x="366.15" y="450.00" font-size="6.3" class="m" textLength="21.90" lengthAdjust="spacingAndGlyphs" transform="rotate(-90 366.15 450.00)">BTK WT</text>
<text x="376.40" y="450.00" font-size="6.3" class="m" textLength="31.70" lengthAdjust="spacingAndGlyphs" transform="rotate(-90 376.40 450.00)">BTK C481S</text>
<rect x="386.30" y="452.80" width="95.10" height="8.70" fill="#b0b0b0"/>
<rect x="386.30" y="462.40" width="95.10" height="8.30" fill="#b0b0b0"/>
<rect x="386.30" y="475.90" width="95.10" height="8.30" fill="#b0b0b0"/>
<rect x="386.30" y="485.00" width="95.10" height="8.50" fill="#b0b0b0"/>
<rect x="386.30" y="497.80" width="95.10" height="8.80" fill="#b0b0b0"/>
<rect x="386.30" y="507.30" width="95.10" height="9.30" fill="#b0b0b0"/>
<rect x="386.30" y="521.60" width="95.10" height="8.70" fill="#b0b0b0"/>
<rect x="386.30" y="531.00" width="95.10" height="8.90" fill="#b0b0b0"/>
<rect x="386.30" y="544.30" width="95.10" height="8.70" fill="#b0b0b0"/>
<g filter="url(#bl)"><rect x="438.61" y="456.05" width="10.51" height="2.20" rx="0.90" fill="#474747"/><rect x="468.04" y="455.85" width="10.51" height="2.60" rx="0.90" fill="#282828"/><rect x="399.36" y="455.55" width="10.51" height="3.20" rx="0.90" fill="#161616"/><rect x="409.17" y="455.55" width="10.51" height="3.20" rx="0.90" fill="#161616"/></g>
<g filter="url(#bl)"><rect x="389.55" y="465.39" width="10.51" height="2.32" rx="0.90" fill="#7a7a7a"/><rect x="418.98" y="465.39" width="10.51" height="2.32" rx="0.90" fill="#7a7a7a"/><rect x="448.42" y="465.39" width="10.51" height="2.32" rx="0.90" fill="#7a7a7a"/><rect x="399.36" y="465.07" width="10.51" height="2.95" rx="0.90" fill="#1c1c1c"/><rect x="409.17" y="465.07" width="10.51" height="2.95" rx="0.90" fill="#1c1c1c"/><rect x="428.79" y="465.07" width="10.51" height="2.95" rx="0.90" fill="#1c1c1c"/><rect x="438.61" y="465.07" width="10.51" height="2.95" rx="0.90" fill="#1c1c1c"/><rect x="458.23" y="465.07" width="10.51" height="2.95" rx="0.90" fill="#1c1c1c"/><rect x="468.04" y="465.07" width="10.51" height="2.95" rx="0.90" fill="#1c1c1c"/></g>
<g filter="url(#bl)"><rect x="418.98" y="478.89" width="10.51" height="2.32" rx="0.90" fill="#7a7a7a"/><rect x="428.79" y="478.89" width="10.51" height="2.32" rx="0.90" fill="#7a7a7a"/><rect x="448.42" y="478.82" width="10.51" height="2.46" rx="0.90" fill="#636363"/><rect x="458.23" y="478.80" width="10.51" height="2.50" rx="0.90" fill="#5b5b5b"/><rect x="389.55" y="478.73" width="10.51" height="2.64" rx="0.90" fill="#474747"/><rect x="468.04" y="478.73" width="10.51" height="2.64" rx="0.90" fill="#474747"/><rect x="438.61" y="478.71" width="10.51" height="2.69" rx="0.90" fill="#414141"/><rect x="399.36" y="478.66" width="10.51" height="2.77" rx="0.90" fill="#343434"/><rect x="409.17" y="478.66" width="10.51" height="2.77" rx="0.90" fill="#343434"/></g>
<g filter="url(#bl)"><rect x="390.20" y="488.04" width="9.21" height="2.42" rx="0.90" fill="#222222"/><rect x="400.01" y="488.04" width="9.21" height="2.42" rx="0.90" fill="#222222"/><rect x="409.82" y="488.04" width="9.21" height="2.42" rx="0.90" fill="#222222"/><rect x="419.63" y="488.04" width="9.21" height="2.42" rx="0.90" fill="#222222"/><rect x="429.44" y="488.04" width="9.21" height="2.42" rx="0.90" fill="#222222"/><rect x="439.26" y="488.04" width="9.21" height="2.42" rx="0.90" fill="#222222"/><rect x="449.07" y="488.04" width="9.21" height="2.42" rx="0.90" fill="#222222"/><rect x="458.88" y="488.04" width="9.21" height="2.42" rx="0.90" fill="#222222"/><rect x="468.69" y="488.04" width="9.21" height="2.42" rx="0.90" fill="#222222"/></g>
<g filter="url(#bl)"><rect x="418.98" y="500.62" width="10.51" height="3.95" rx="0.90" fill="#727272"/><rect x="428.79" y="500.62" width="10.51" height="3.95" rx="0.90" fill="#727272"/><rect x="389.55" y="500.29" width="10.51" height="4.62" rx="0.90" fill="#343434"/><rect x="438.61" y="500.21" width="10.51" height="4.77" rx="0.90" fill="#282828"/><rect x="448.42" y="500.21" width="10.51" height="4.77" rx="0.90" fill="#282828"/><rect x="458.23" y="500.18" width="10.51" height="4.85" rx="0.90" fill="#222222"/><rect x="399.36" y="500.14" width="10.51" height="4.92" rx="0.90" fill="#1c1c1c"/><rect x="409.17" y="500.14" width="10.51" height="4.92" rx="0.90" fill="#1c1c1c"/><rect x="468.04" y="500.10" width="10.51" height="5.00" rx="0.90" fill="#161616"/></g>
<g filter="url(#bl)"><rect x="390.20" y="511.05" width="9.21" height="2.60" rx="0.90" fill="#474747"/><rect x="400.01" y="511.05" width="9.21" height="2.60" rx="0.90" fill="#474747"/><rect x="409.82" y="511.05" width="9.21" height="2.60" rx="0.90" fill="#474747"/><rect x="419.63" y="510.65" width="9.21" height="3.40" rx="0.90" fill="#222222"/><rect x="429.44" y="510.65" width="9.21" height="3.40" rx="0.90" fill="#222222"/><rect x="439.26" y="510.65" width="9.21" height="3.40" rx="0.90" fill="#222222"/><rect x="449.07" y="510.65" width="9.21" height="3.40" rx="0.90" fill="#222222"/><rect x="458.88" y="510.65" width="9.21" height="3.40" rx="0.90" fill="#222222"/><rect x="468.69" y="510.65" width="9.21" height="3.40" rx="0.90" fill="#222222"/></g>
<g filter="url(#bl)"><rect x="428.79" y="524.68" width="10.51" height="2.55" rx="0.90" fill="#545454"/><rect x="418.98" y="524.65" width="10.51" height="2.59" rx="0.90" fill="#4e4e4e"/><rect x="458.23" y="524.61" width="10.51" height="2.69" rx="0.90" fill="#414141"/><rect x="448.42" y="524.56" width="10.51" height="2.77" rx="0.90" fill="#343434"/><rect x="389.55" y="524.54" width="10.51" height="2.82" rx="0.90" fill="#2e2e2e"/><rect x="399.36" y="524.54" width="10.51" height="2.82" rx="0.90" fill="#2e2e2e"/><rect x="409.17" y="524.52" width="10.51" height="2.86" rx="0.90" fill="#282828"/><rect x="438.61" y="524.52" width="10.51" height="2.86" rx="0.90" fill="#282828"/><rect x="468.04" y="524.52" width="10.51" height="2.86" rx="0.90" fill="#282828"/></g>
<g filter="url(#bl)"><rect x="390.25" y="534.54" width="9.11" height="2.42" rx="0.90" fill="#222222"/><rect x="400.06" y="534.54" width="9.11" height="2.42" rx="0.90" fill="#222222"/><rect x="409.87" y="534.54" width="9.11" height="2.42" rx="0.90" fill="#222222"/><rect x="419.68" y="534.54" width="9.11" height="2.42" rx="0.90" fill="#222222"/><rect x="429.49" y="534.54" width="9.11" height="2.42" rx="0.90" fill="#222222"/><rect x="439.31" y="534.54" width="9.11" height="2.42" rx="0.90" fill="#222222"/><rect x="449.12" y="534.54" width="9.11" height="2.42" rx="0.90" fill="#222222"/><rect x="458.93" y="534.54" width="9.11" height="2.42" rx="0.90" fill="#222222"/><rect x="468.74" y="534.54" width="9.11" height="2.42" rx="0.90" fill="#222222"/></g>
<g filter="url(#bl)"><rect x="390.10" y="547.90" width="9.41" height="2.10" rx="0.90" fill="#282828"/><rect x="399.91" y="547.90" width="9.41" height="2.10" rx="0.90" fill="#282828"/><rect x="409.72" y="547.90" width="9.41" height="2.10" rx="0.90" fill="#282828"/><rect x="419.53" y="547.90" width="9.41" height="2.10" rx="0.90" fill="#282828"/><rect x="429.34" y="547.90" width="9.41" height="2.10" rx="0.90" fill="#282828"/><rect x="439.16" y="547.90" width="9.41" height="2.10" rx="0.90" fill="#282828"/><rect x="448.97" y="547.90" width="9.41" height="2.10" rx="0.90" fill="#282828"/><rect x="458.78" y="547.90" width="9.41" height="2.10" rx="0.90" fill="#282828"/><rect x="468.59" y="547.90" width="9.41" height="2.10" rx="0.90" fill="#282828"/></g>
<text x="422.70" y="389.20" font-size="8.8" class="t" textLength="19.80" lengthAdjust="spacingAndGlyphs">HBL1</text>
<line x1="388.70" y1="414.50" x2="415.00" y2="414.50" stroke="#111" stroke-width="1.0"/>
<text x="391.90" y="410.10" font-size="6.6" class="m" textLength="19.80" lengthAdjust="spacingAndGlyphs">DMSO</text>
<line x1="419.40" y1="414.50" x2="446.30" y2="414.50" stroke="#111" stroke-width="1.0"/>
<text x="420.80" y="402.40" font-size="6.6" class="m" textLength="24.20" lengthAdjust="spacingAndGlyphs">Ibrutinib</text>
<text x="423.30" y="410.10" font-size="6.6" class="m" textLength="18.60" lengthAdjust="spacingAndGlyphs">0.5μM</text>
<line x1="450.20" y1="414.50" x2="476.20" y2="414.50" stroke="#111" stroke-width="1.0"/>
<text x="451.50" y="402.40" font-size="6.6" class="m" textLength="24.30" lengthAdjust="spacingAndGlyphs">Ibrutinib</text>
<text x="454.00" y="410.10" font-size="6.6" class="m" textLength="18.70" lengthAdjust="spacingAndGlyphs">0.1μM</text>
<text x="396.20" y="450.00" font-size="6.3" class="m" textLength="18.40" lengthAdjust="spacingAndGlyphs" transform="rotate(-90 396.20 450.00)">Vector</text>
<text x="406.45" y="450.00" font-size="6.3" class="m" textLength="21.90" lengthAdjust="spacingAndGlyphs" transform="rotate(-90 406.45 450.00)">BTK WT</text>
<text x="416.70" y="450.00" font-size="6.3" class="m" textLength="31.70" lengthAdjust="spacingAndGlyphs" transform="rotate(-90 416.70 450.00)">BTK C481S</text>
<text x="426.95" y="450.00" font-size="6.3" class="m" textLength="18.40" lengthAdjust="spacingAndGlyphs" transform="rotate(-90 426.95 450.00)">Vector</text>
<text x="437.20" y="450.00" font-size="6.3" class="m" textLength="21.90" lengthAdjust="spacingAndGlyphs" transform="rotate(-90 437.20 450.00)">BTK WT</text>
<text x="447.45" y="450.00" font-size="6.3" class="m" textLength="31.70" lengthAdjust="spacingAndGlyphs" transform="rotate(-90 447.45 450.00)">BTK C481S</text>
<text x="457.70" y="450.00" font-size="6.3" class="m" textLength="18.40" lengthAdjust="spacingAndGlyphs" transform="rotate(-90 457.70 450.00)">Vector</text>
<text x="467.95" y="450.00" font-size="6.3" class="m" textLength="21.90" lengthAdjust="spacingAndGlyphs" transform="rotate(-90 467.95 450.00)">BTK WT</text>
<text x="478.20" y="450.00" font-size="6.3" class="m" textLength="31.70" lengthAdjust="spacingAndGlyphs" transform="rotate(-90 478.20 450.00)">BTK C481S</text>
<text x="8.80" y="460.00" font-size="6.6" class="m" textLength="18.10" lengthAdjust="spacingAndGlyphs">p-BTK</text>
<text x="8.80" y="468.50" font-size="6.6" class="m" textLength="11.60" lengthAdjust="spacingAndGlyphs">BTK</text>
<text x="8.80" y="482.30" font-size="6.6" class="m" textLength="23.40" lengthAdjust="spacingAndGlyphs">p-PLCγ2</text>
<text x="8.80" y="490.80" font-size="6.6" class="m" textLength="17.50" lengthAdjust="spacingAndGlyphs">PLCγ2</text>
<text x="8.80" y="505.40" font-size="6.6" class="m" textLength="27.40" lengthAdjust="spacingAndGlyphs">p-ERK1/2</text>
<text x="8.80" y="514.20" font-size="6.6" class="m" textLength="20.90" lengthAdjust="spacingAndGlyphs">ERK1/2</text>
<text x="8.80" y="528.40" font-size="6.6" class="m" textLength="28.00" lengthAdjust="spacingAndGlyphs">p-p90RSK</text>
<text x="8.80" y="537.80" font-size="6.6" class="m" textLength="22.10" lengthAdjust="spacingAndGlyphs">p90RSK</text>
<text x="8.80" y="550.70" font-size="6.6" class="m" textLength="21.80" lengthAdjust="spacingAndGlyphs">GAPDH</text>
<text x="253.00" y="460.00" font-size="6.6" class="m" textLength="18.10" lengthAdjust="spacingAndGlyphs">p-BTK</text>
<text x="253.00" y="468.50" font-size="6.6" class="m" textLength="11.60" lengthAdjust="spacingAndGlyphs">BTK</text>
<text x="253.00" y="482.30" font-size="6.6" class="m" textLength="23.40" lengthAdjust="spacingAndGlyphs">p-PLCγ2</text>
<text x="253.00" y="490.80" font-size="6.6" class="m" textLength="17.50" lengthAdjust="spacingAndGlyphs">PLCγ2</text>
<text x="253.00" y="505.40" font-size="6.6" class="m" textLength="27.40" lengthAdjust="spacingAndGlyphs">p-ERK1/2</text>
<text x="253.00" y="514.20" font-size="6.6" class="m" textLength="20.90" lengthAdjust="spacingAndGlyphs">ERK1/2</text>
<text x="253.00" y="528.40" font-size="6.6" class="m" textLength="28.00" lengthAdjust="spacingAndGlyphs">p-p90RSK</text>
<text x="253.00" y="537.80" font-size="6.6" class="m" textLength="22.10" lengthAdjust="spacingAndGlyphs">p90RSK</text>
<text x="253.00" y="550.70" font-size="6.6" class="m" textLength="21.80" lengthAdjust="spacingAndGlyphs">GAPDH</text>
<rect x="0.00" y="1.00" width="520.00" height="1.00" fill="#888"/>
<rect x="0.00" y="558.00" width="520.00" height="1.00" fill="#888"/>
<rect x="1.00" y="0.00" width="1.00" height="560.00" fill="#888"/>
<rect x="518.00" y="0.00" width="1.00" height="560.00" fill="#888"/>
<rect x="0.00" y="0.00" width="520.00" height="1.00" fill="#000"/>
<rect x="0.00" y="559.00" width="520.00" height="1.00" fill="#000"/>
<rect x="0.00" y="0.00" width="1.00" height="560.00" fill="#000"/>
<rect x="519.00" y="0.00" width="1.00" height="560.00" fill="#000"/>
</svg>
</body></html>
